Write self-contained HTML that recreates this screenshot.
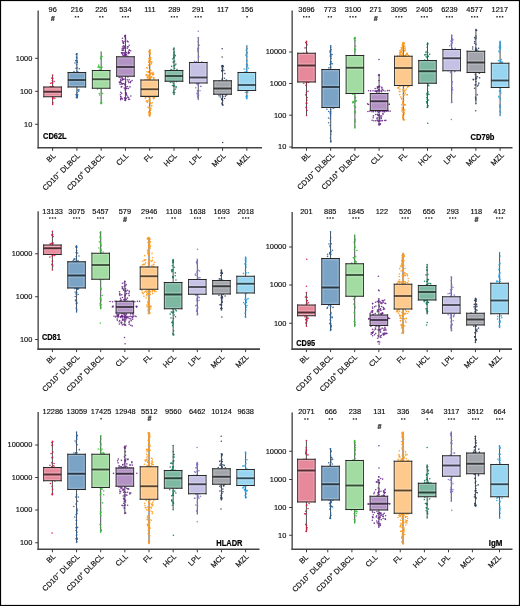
<!DOCTYPE html><html><head><meta charset="utf-8"><style>html,body{margin:0;padding:0;background:#fff;}svg{display:block;will-change:transform;}text{font-family:"Liberation Sans", sans-serif;}.t{stroke:#0a0a0a;stroke-width:0.15px;}</style></head><body><svg width="520" height="606" viewBox="0 0 520 606"><rect x="0" y="0" width="520" height="606" fill="#fff"/><g><path d="M38.15 10.5V148.6" fill="none" stroke="#3d3d3d" stroke-width="1.3"/><path d="M37.5 147.8H262" fill="none" stroke="#444" stroke-width="1.6"/><path d="M35.15 58.3H38.15" stroke="#3a3a3a" stroke-width="1"/><text class="t" x="32.25" y="60.7" font-size="7.4" text-anchor="end" fill="#0a0a0a">1000</text><path d="M35.15 91.3H38.15" stroke="#3a3a3a" stroke-width="1"/><text class="t" x="32.25" y="93.7" font-size="7.4" text-anchor="end" fill="#0a0a0a">100</text><path d="M35.15 124.3H38.15" stroke="#3a3a3a" stroke-width="1"/><text class="t" x="32.25" y="126.7" font-size="7.4" text-anchor="end" fill="#0a0a0a">10</text><path d="M52.6 147.8V150.8" stroke="#3a3a3a" stroke-width="1"/><path d="M76.88 147.8V150.8" stroke="#3a3a3a" stroke-width="1"/><path d="M101.16 147.8V150.8" stroke="#3a3a3a" stroke-width="1"/><path d="M125.44 147.8V150.8" stroke="#3a3a3a" stroke-width="1"/><path d="M149.72 147.8V150.8" stroke="#3a3a3a" stroke-width="1"/><path d="M174 147.8V150.8" stroke="#3a3a3a" stroke-width="1"/><path d="M198.28 147.8V150.8" stroke="#3a3a3a" stroke-width="1"/><path d="M222.56 147.8V150.8" stroke="#3a3a3a" stroke-width="1"/><path d="M246.84 147.8V150.8" stroke="#3a3a3a" stroke-width="1"/><text class="t" x="56.2" y="156.2" font-size="7.6" text-anchor="end" fill="#0a0a0a" transform="rotate(-45 56.2 156.2)">BL</text><text class="t" x="80.48" y="156.2" font-size="7.6" text-anchor="end" fill="#0a0a0a" transform="rotate(-45 80.48 156.2)">CD10<tspan font-size="5.6" dy="-2.9">−</tspan><tspan dy="2.9"> DLBCL</tspan></text><text class="t" x="104.76" y="156.2" font-size="7.6" text-anchor="end" fill="#0a0a0a" transform="rotate(-45 104.76 156.2)">CD10<tspan font-size="5.6" dy="-2.9">+</tspan><tspan dy="2.9"> DLBCL</tspan></text><text class="t" x="129.04" y="156.2" font-size="7.6" text-anchor="end" fill="#0a0a0a" transform="rotate(-45 129.04 156.2)">CLL</text><text class="t" x="153.32" y="156.2" font-size="7.6" text-anchor="end" fill="#0a0a0a" transform="rotate(-45 153.32 156.2)">FL</text><text class="t" x="177.6" y="156.2" font-size="7.6" text-anchor="end" fill="#0a0a0a" transform="rotate(-45 177.6 156.2)">HCL</text><text class="t" x="201.88" y="156.2" font-size="7.6" text-anchor="end" fill="#0a0a0a" transform="rotate(-45 201.88 156.2)">LPL</text><text class="t" x="226.16" y="156.2" font-size="7.6" text-anchor="end" fill="#0a0a0a" transform="rotate(-45 226.16 156.2)">MCL</text><text class="t" x="250.44" y="156.2" font-size="7.6" text-anchor="end" fill="#0a0a0a" transform="rotate(-45 250.44 156.2)">MZL</text><text class="t" x="52.7" y="12.3" font-size="7.4" text-anchor="middle" fill="#0a0a0a">96</text><path d="M50.7 20.8L53.9 20.8L54.8 15.9L51.7 15.9Z" fill="#555" fill-opacity="0.55"/><text x="52.8" y="21.2" font-size="7.2" font-weight="bold" font-style="italic" text-anchor="middle" fill="#3c3c3c" stroke="#3c3c3c" stroke-width="0.12">#</text><text class="t" x="76.9" y="12.3" font-size="7.4" text-anchor="middle" fill="#0a0a0a">216</text><rect x="74.78" y="16.05" width="1.5" height="1.5" fill="#2e2e2e"/><rect x="77.53" y="16.05" width="1.5" height="1.5" fill="#2e2e2e"/><text class="t" x="101.3" y="12.3" font-size="7.4" text-anchor="middle" fill="#0a0a0a">226</text><rect x="99.17" y="16.05" width="1.5" height="1.5" fill="#2e2e2e"/><rect x="101.92" y="16.05" width="1.5" height="1.5" fill="#2e2e2e"/><text class="t" x="125.4" y="12.3" font-size="7.4" text-anchor="middle" fill="#0a0a0a">534</text><rect x="121.9" y="16.05" width="1.5" height="1.5" fill="#2e2e2e"/><rect x="124.65" y="16.05" width="1.5" height="1.5" fill="#2e2e2e"/><rect x="127.4" y="16.05" width="1.5" height="1.5" fill="#2e2e2e"/><text class="t" x="149.9" y="12.3" font-size="7.4" text-anchor="middle" fill="#0a0a0a">111</text><text class="t" x="174.3" y="12.3" font-size="7.4" text-anchor="middle" fill="#0a0a0a">289</text><rect x="170.8" y="16.05" width="1.5" height="1.5" fill="#2e2e2e"/><rect x="173.55" y="16.05" width="1.5" height="1.5" fill="#2e2e2e"/><rect x="176.3" y="16.05" width="1.5" height="1.5" fill="#2e2e2e"/><text class="t" x="198.2" y="12.3" font-size="7.4" text-anchor="middle" fill="#0a0a0a">291</text><rect x="194.7" y="16.05" width="1.5" height="1.5" fill="#2e2e2e"/><rect x="197.45" y="16.05" width="1.5" height="1.5" fill="#2e2e2e"/><rect x="200.2" y="16.05" width="1.5" height="1.5" fill="#2e2e2e"/><text class="t" x="222.8" y="12.3" font-size="7.4" text-anchor="middle" fill="#0a0a0a">117</text><text class="t" x="247.1" y="12.3" font-size="7.4" text-anchor="middle" fill="#0a0a0a">156</text><rect x="246.35" y="16.05" width="1.5" height="1.5" fill="#2e2e2e"/><path d="M52.6 75V104.5" stroke="#3a3d42" stroke-width="0.9"/><g fill="#e0103c" fill-opacity="0.9"><circle cx="53.47" cy="86.52" r="0.8"/><circle cx="52.07" cy="82.84" r="0.8"/><circle cx="50.7" cy="83.21" r="0.8"/><circle cx="50.17" cy="86.87" r="0.8"/><circle cx="51.98" cy="78.31" r="0.8"/><circle cx="54.07" cy="81.57" r="0.8"/><circle cx="54.86" cy="98.36" r="0.8"/><circle cx="52.31" cy="77.74" r="0.8"/><circle cx="51.48" cy="86.68" r="0.8"/><circle cx="53.06" cy="97.17" r="0.8"/><circle cx="52.83" cy="98.2" r="0.8"/><circle cx="50.85" cy="86.9" r="0.8"/><circle cx="52.5" cy="83.16" r="0.8"/><circle cx="52.72" cy="78.77" r="0.8"/><circle cx="52.32" cy="80.44" r="0.8"/><circle cx="52.88" cy="102.91" r="0.8"/><circle cx="52.7" cy="98.64" r="0.8"/><circle cx="52.6" cy="75" r="0.8"/><circle cx="52.6" cy="104.5" r="0.8"/></g><rect x="43.8" y="87" width="17.6" height="9.75" fill="#e68a9b"/><path d="M43.8 86.4V97.35M61.4 86.4V97.35" stroke="#2a2a2a" stroke-width="0.9"/><path d="M43.35 87H61.85M43.35 96.75H61.85" stroke="#2a2a2a" stroke-width="1.2"/><rect x="45.05" y="88.35" width="15.1" height="7.05" fill="none" stroke="#fff" stroke-opacity="0.28" stroke-width="0.8"/><path d="M44.6 90H60.6M44.6 93.5H60.6" stroke="#fff" stroke-opacity="0.3" stroke-width="0.8"/><path d="M43.8 91.75H61.4" stroke="#000" stroke-opacity="0.66" stroke-width="1.8"/><path d="M76.88 53.75V98" stroke="#3a3d42" stroke-width="0.9"/><g fill="#1f62a5" fill-opacity="0.9"><circle cx="77.25" cy="95.77" r="0.8"/><circle cx="76.27" cy="54.38" r="0.8"/><circle cx="75.83" cy="60.82" r="0.8"/><circle cx="78.22" cy="72.42" r="0.8"/><circle cx="78.72" cy="91.27" r="0.8"/><circle cx="77.23" cy="62.39" r="0.8"/><circle cx="78.88" cy="89.9" r="0.8"/><circle cx="77.82" cy="90.09" r="0.8"/><circle cx="77.41" cy="62.24" r="0.8"/><circle cx="76.39" cy="94.88" r="0.8"/><circle cx="74.99" cy="63.04" r="0.8"/><circle cx="73.96" cy="71.6" r="0.8"/><circle cx="75.81" cy="60.52" r="0.8"/><circle cx="79.25" cy="68.7" r="0.8"/><circle cx="77.17" cy="67.69" r="0.8"/><circle cx="77.72" cy="94.84" r="0.8"/><circle cx="76" cy="68.29" r="0.8"/><circle cx="76.32" cy="97.22" r="0.8"/><circle cx="76.5" cy="57.05" r="0.8"/><circle cx="76.86" cy="58.13" r="0.8"/><circle cx="76.55" cy="64.8" r="0.8"/><circle cx="76.77" cy="53.83" r="0.8"/><circle cx="76.97" cy="60.67" r="0.8"/><circle cx="77.15" cy="71.62" r="0.8"/><circle cx="77.04" cy="92.67" r="0.8"/><circle cx="76.26" cy="94.44" r="0.8"/><circle cx="77.27" cy="96.89" r="0.8"/><circle cx="77.3" cy="96.62" r="0.8"/><circle cx="76.88" cy="53.75" r="0.8"/><circle cx="76.88" cy="98" r="0.8"/></g><rect x="68.08" y="72.5" width="17.6" height="14.5" fill="#7ba3c6"/><path d="M68.08 71.9V87.6M85.68 71.9V87.6" stroke="#2a2a2a" stroke-width="0.9"/><path d="M67.63 72.5H86.13M67.63 87H86.13" stroke="#2a2a2a" stroke-width="1.2"/><rect x="69.33" y="73.85" width="15.1" height="11.8" fill="none" stroke="#fff" stroke-opacity="0.28" stroke-width="0.8"/><path d="M68.88 78.25H84.88M68.88 81.75H84.88" stroke="#fff" stroke-opacity="0.3" stroke-width="0.8"/><path d="M68.08 80H85.68" stroke="#000" stroke-opacity="0.66" stroke-width="1.8"/><path d="M101.16 52V103.75" stroke="#3a3d42" stroke-width="0.9"/><g fill="#34c234" fill-opacity="0.9"><circle cx="98.65" cy="66.62" r="0.8"/><circle cx="97.73" cy="88.39" r="0.8"/><circle cx="99.94" cy="69.66" r="0.8"/><circle cx="98.37" cy="70.5" r="0.8"/><circle cx="98.04" cy="67.19" r="0.8"/><circle cx="99.58" cy="95.02" r="0.8"/><circle cx="100.25" cy="67.43" r="0.8"/><circle cx="102.12" cy="56.5" r="0.8"/><circle cx="98.81" cy="65.12" r="0.8"/><circle cx="99.58" cy="67.51" r="0.8"/><circle cx="97.52" cy="88.95" r="0.8"/><circle cx="99.29" cy="93.49" r="0.8"/><circle cx="101.38" cy="88.28" r="0.8"/><circle cx="101.51" cy="100.32" r="0.8"/><circle cx="98.98" cy="67.14" r="0.8"/><circle cx="102.63" cy="93.56" r="0.8"/><circle cx="100.77" cy="58.1" r="0.8"/><circle cx="101.84" cy="67.01" r="0.8"/><circle cx="101.59" cy="67.77" r="0.8"/><circle cx="101.5" cy="67.14" r="0.8"/><circle cx="101.18" cy="56.19" r="0.8"/><circle cx="100.5" cy="58.58" r="0.8"/><circle cx="100.85" cy="88.68" r="0.8"/><circle cx="101.43" cy="92.27" r="0.8"/><circle cx="101.09" cy="103.08" r="0.8"/><circle cx="101.84" cy="102.77" r="0.8"/><circle cx="100.97" cy="103.05" r="0.8"/><circle cx="101.16" cy="52" r="0.8"/><circle cx="101.16" cy="103.75" r="0.8"/></g><rect x="92.36" y="70.5" width="17.6" height="17.75" fill="#a2dca2"/><path d="M92.36 69.9V88.85M109.96 69.9V88.85" stroke="#2a2a2a" stroke-width="0.9"/><path d="M91.91 70.5H110.41M91.91 88.25H110.41" stroke="#2a2a2a" stroke-width="1.2"/><rect x="93.61" y="71.85" width="15.1" height="15.05" fill="none" stroke="#fff" stroke-opacity="0.28" stroke-width="0.8"/><path d="M93.16 77.5H109.16M93.16 81H109.16" stroke="#fff" stroke-opacity="0.3" stroke-width="0.8"/><path d="M92.36 79.25H109.96" stroke="#000" stroke-opacity="0.66" stroke-width="1.8"/><path d="M125.44 35.5V100.5" stroke="#3a3d42" stroke-width="0.9"/><g fill="#6a2a8c" fill-opacity="0.9"><circle cx="123.2" cy="42.2" r="0.8"/><circle cx="123.01" cy="41.78" r="0.8"/><circle cx="126.43" cy="54.66" r="0.8"/><circle cx="128.16" cy="46.87" r="0.8"/><circle cx="126.66" cy="52.79" r="0.8"/><circle cx="122.12" cy="50.22" r="0.8"/><circle cx="128.72" cy="52.47" r="0.8"/><circle cx="127.44" cy="46.84" r="0.8"/><circle cx="122.87" cy="52.6" r="0.8"/><circle cx="124.1" cy="52.82" r="0.8"/><circle cx="129.21" cy="45.32" r="0.8"/><circle cx="124.65" cy="55.52" r="0.8"/><circle cx="127.24" cy="41.15" r="0.8"/><circle cx="122.46" cy="40.8" r="0.8"/><circle cx="128.68" cy="52.92" r="0.8"/><circle cx="122.61" cy="53.29" r="0.8"/><circle cx="129.28" cy="50.16" r="0.8"/><circle cx="124.24" cy="48.15" r="0.8"/><circle cx="122.49" cy="38.26" r="0.8"/><circle cx="129.21" cy="50.02" r="0.8"/><circle cx="125.65" cy="55.27" r="0.8"/><circle cx="124.91" cy="54.13" r="0.8"/><circle cx="128.05" cy="41.9" r="0.8"/><circle cx="123.45" cy="43.42" r="0.8"/><circle cx="123.36" cy="48.85" r="0.8"/><circle cx="123.51" cy="45.75" r="0.8"/><circle cx="122.49" cy="54.84" r="0.8"/><circle cx="124.27" cy="46.48" r="0.8"/><circle cx="126.11" cy="54.73" r="0.8"/><circle cx="124.81" cy="54.98" r="0.8"/><circle cx="125.45" cy="47.84" r="0.8"/><circle cx="125.63" cy="38.35" r="0.8"/><circle cx="124.96" cy="41.39" r="0.8"/><circle cx="121.47" cy="52.78" r="0.8"/><circle cx="122.82" cy="46.76" r="0.8"/><circle cx="127.24" cy="48.29" r="0.8"/><circle cx="124.05" cy="47.59" r="0.8"/><circle cx="125.88" cy="52.51" r="0.8"/><circle cx="122.29" cy="48.37" r="0.8"/><circle cx="123.43" cy="43.12" r="0.8"/><circle cx="128.43" cy="88.43" r="0.8"/><circle cx="126.12" cy="94.36" r="0.8"/><circle cx="129.98" cy="86.92" r="0.8"/><circle cx="126.68" cy="88.38" r="0.8"/><circle cx="125.57" cy="92.78" r="0.8"/><circle cx="124.92" cy="89.03" r="0.8"/><circle cx="125.2" cy="98.63" r="0.8"/><circle cx="127.63" cy="97.1" r="0.8"/><circle cx="130.3" cy="82.6" r="0.8"/><circle cx="126.09" cy="98.67" r="0.8"/><circle cx="129.18" cy="79.72" r="0.8"/><circle cx="121.28" cy="86.89" r="0.8"/><circle cx="120.74" cy="82.16" r="0.8"/><circle cx="120.74" cy="92.23" r="0.8"/><circle cx="128.56" cy="97.58" r="0.8"/><circle cx="121.64" cy="93.33" r="0.8"/><circle cx="127.2" cy="79.86" r="0.8"/><circle cx="129.65" cy="99.24" r="0.8"/><circle cx="122.36" cy="98.88" r="0.8"/><circle cx="124.32" cy="87.95" r="0.8"/><circle cx="130.83" cy="96.06" r="0.8"/><circle cx="121.72" cy="86.64" r="0.8"/><circle cx="125.61" cy="84.47" r="0.8"/><circle cx="122.09" cy="83.99" r="0.8"/><circle cx="127.88" cy="76.96" r="0.8"/><circle cx="126.03" cy="86.85" r="0.8"/><circle cx="120.14" cy="84.29" r="0.8"/><circle cx="126.8" cy="88.54" r="0.8"/><circle cx="120.65" cy="99.65" r="0.8"/><circle cx="128.61" cy="99.33" r="0.8"/><circle cx="121.09" cy="82.74" r="0.8"/><circle cx="120.38" cy="94.81" r="0.8"/><circle cx="122.91" cy="79.54" r="0.8"/><circle cx="124.58" cy="97.92" r="0.8"/><circle cx="128.95" cy="82.58" r="0.8"/><circle cx="121.58" cy="98.1" r="0.8"/><circle cx="126.22" cy="92.96" r="0.8"/><circle cx="120.92" cy="77.85" r="0.8"/><circle cx="127.51" cy="86.49" r="0.8"/><circle cx="120.74" cy="98.55" r="0.8"/><circle cx="126.92" cy="95.34" r="0.8"/><circle cx="120.86" cy="96.62" r="0.8"/><circle cx="120.67" cy="96.78" r="0.8"/><circle cx="124.93" cy="84.47" r="0.8"/><circle cx="126.02" cy="98.28" r="0.8"/><circle cx="122.89" cy="79.54" r="0.8"/><circle cx="125.74" cy="82.1" r="0.8"/><circle cx="121.14" cy="80.29" r="0.8"/><circle cx="120.49" cy="81.24" r="0.8"/><circle cx="123.37" cy="83.67" r="0.8"/><circle cx="128.55" cy="51.88" r="0.8"/><circle cx="125.44" cy="51.16" r="0.8"/><circle cx="123.6" cy="50.12" r="0.8"/><circle cx="122.45" cy="50.1" r="0.8"/><circle cx="128.24" cy="53.58" r="0.8"/><circle cx="121.71" cy="53.09" r="0.8"/><circle cx="130.66" cy="50.69" r="0.8"/><circle cx="129.27" cy="52.81" r="0.8"/><circle cx="125.38" cy="55.42" r="0.8"/><circle cx="124.16" cy="53.29" r="0.8"/><circle cx="127.69" cy="56.39" r="0.8"/><circle cx="123.55" cy="55.41" r="0.8"/><circle cx="128.33" cy="81.27" r="0.8"/><circle cx="124.11" cy="79.11" r="0.8"/><circle cx="119.2" cy="77.47" r="0.8"/><circle cx="119.43" cy="82.06" r="0.8"/><circle cx="122.02" cy="77.72" r="0.8"/><circle cx="119.62" cy="82.81" r="0.8"/><circle cx="130.63" cy="81.53" r="0.8"/><circle cx="122.39" cy="78.32" r="0.8"/><circle cx="122.54" cy="79.95" r="0.8"/><circle cx="120.65" cy="79.84" r="0.8"/><circle cx="122.13" cy="83.71" r="0.8"/><circle cx="132.06" cy="80.6" r="0.8"/><circle cx="121.86" cy="83.74" r="0.8"/><circle cx="122.77" cy="79.17" r="0.8"/><circle cx="125.27" cy="35.52" r="0.8"/><circle cx="125.44" cy="45.59" r="0.8"/><circle cx="125.45" cy="39.77" r="0.8"/><circle cx="125.11" cy="35.61" r="0.8"/><circle cx="125.3" cy="37.41" r="0.8"/><circle cx="124.77" cy="36.39" r="0.8"/><circle cx="125.07" cy="83.63" r="0.8"/><circle cx="125.48" cy="90.45" r="0.8"/><circle cx="125.66" cy="94.45" r="0.8"/><circle cx="125.97" cy="93.61" r="0.8"/><circle cx="125.2" cy="85.7" r="0.8"/><circle cx="124.95" cy="100.13" r="0.8"/><circle cx="125.64" cy="93.81" r="0.8"/><circle cx="125.44" cy="35.5" r="0.8"/><circle cx="125.44" cy="100.5" r="0.8"/></g><rect x="116.64" y="56.75" width="17.6" height="19.5" fill="#b293c4"/><path d="M116.64 56.15V76.85M134.24 56.15V76.85" stroke="#2a2a2a" stroke-width="0.9"/><path d="M116.19 56.75H134.69M116.19 76.25H134.69" stroke="#2a2a2a" stroke-width="1.2"/><rect x="117.89" y="58.1" width="15.1" height="16.8" fill="none" stroke="#fff" stroke-opacity="0.28" stroke-width="0.8"/><path d="M117.44 65.25H133.44M117.44 68.75H133.44" stroke="#fff" stroke-opacity="0.3" stroke-width="0.8"/><path d="M116.64 67H134.24" stroke="#000" stroke-opacity="0.66" stroke-width="1.8"/><path d="M149.72 50V116.25" stroke="#3a3d42" stroke-width="0.9"/><g fill="#ff9a1c" fill-opacity="0.9"><circle cx="150.75" cy="57.91" r="0.8"/><circle cx="151" cy="108.13" r="0.8"/><circle cx="149.75" cy="70.01" r="0.8"/><circle cx="150.73" cy="110.12" r="0.8"/><circle cx="150.09" cy="112.77" r="0.8"/><circle cx="145.42" cy="98.03" r="0.8"/><circle cx="146.47" cy="74.7" r="0.8"/><circle cx="150.52" cy="103.77" r="0.8"/><circle cx="149.67" cy="106.72" r="0.8"/><circle cx="150.51" cy="59.57" r="0.8"/><circle cx="150.76" cy="103.26" r="0.8"/><circle cx="148.72" cy="62.15" r="0.8"/><circle cx="151.77" cy="76.85" r="0.8"/><circle cx="151.63" cy="62.03" r="0.8"/><circle cx="149.55" cy="74.14" r="0.8"/><circle cx="150.14" cy="109.04" r="0.8"/><circle cx="146.24" cy="96.66" r="0.8"/><circle cx="148.95" cy="61.89" r="0.8"/><circle cx="145.33" cy="96.41" r="0.8"/><circle cx="150.66" cy="64.74" r="0.8"/><circle cx="149.87" cy="98.83" r="0.8"/><circle cx="146.95" cy="71.8" r="0.8"/><circle cx="154.19" cy="97.68" r="0.8"/><circle cx="149.31" cy="96.42" r="0.8"/><circle cx="149.62" cy="115.19" r="0.8"/><circle cx="153.86" cy="77.89" r="0.8"/><circle cx="147.56" cy="68.07" r="0.8"/><circle cx="148.99" cy="114.68" r="0.8"/><circle cx="152.36" cy="102.69" r="0.8"/><circle cx="153.37" cy="98.05" r="0.8"/><circle cx="144.77" cy="79.94" r="0.8"/><circle cx="148.25" cy="72.26" r="0.8"/><circle cx="148.18" cy="75.11" r="0.8"/><circle cx="152.23" cy="96.4" r="0.8"/><circle cx="153.87" cy="96.94" r="0.8"/><circle cx="149.3" cy="113.04" r="0.8"/><circle cx="153.69" cy="73.87" r="0.8"/><circle cx="149.13" cy="99.91" r="0.8"/><circle cx="145.76" cy="79.83" r="0.8"/><circle cx="153.56" cy="98.76" r="0.8"/><circle cx="149.82" cy="76.85" r="0.8"/><circle cx="153.43" cy="74.38" r="0.8"/><circle cx="150.11" cy="110.33" r="0.8"/><circle cx="149.82" cy="114.29" r="0.8"/><circle cx="152.03" cy="96.52" r="0.8"/><circle cx="150.27" cy="61.49" r="0.8"/><circle cx="153.96" cy="79.82" r="0.8"/><circle cx="148.59" cy="71.62" r="0.8"/><circle cx="151.63" cy="62.06" r="0.8"/><circle cx="148.7" cy="65.35" r="0.8"/><circle cx="147.08" cy="100.48" r="0.8"/><circle cx="153.5" cy="77.92" r="0.8"/><circle cx="153.47" cy="77.71" r="0.8"/><circle cx="147.04" cy="101.51" r="0.8"/><circle cx="148.17" cy="79.49" r="0.8"/><circle cx="147.52" cy="77.36" r="0.8"/><circle cx="150.22" cy="112.6" r="0.8"/><circle cx="149.91" cy="73.3" r="0.8"/><circle cx="146.03" cy="75.25" r="0.8"/><circle cx="148.97" cy="51.63" r="0.8"/><circle cx="151.7" cy="105.44" r="0.8"/><circle cx="147.48" cy="76.74" r="0.8"/><circle cx="153.11" cy="72.4" r="0.8"/><circle cx="148.73" cy="112.15" r="0.8"/><circle cx="151.47" cy="63.26" r="0.8"/><circle cx="146.74" cy="67.87" r="0.8"/><circle cx="150.37" cy="53.64" r="0.8"/><circle cx="149.22" cy="115.32" r="0.8"/><circle cx="149.93" cy="78.75" r="0.8"/><circle cx="150.16" cy="114.32" r="0.8"/><circle cx="149.56" cy="108.98" r="0.8"/><circle cx="152.53" cy="96.48" r="0.8"/><circle cx="150.01" cy="53.97" r="0.8"/><circle cx="147.31" cy="79.09" r="0.8"/><circle cx="147.95" cy="107.19" r="0.8"/><circle cx="150.27" cy="69.99" r="0.8"/><circle cx="150.65" cy="77.65" r="0.8"/><circle cx="149.38" cy="76.09" r="0.8"/><circle cx="151.74" cy="105.81" r="0.8"/><circle cx="147.41" cy="77.45" r="0.8"/><circle cx="148.86" cy="107.35" r="0.8"/><circle cx="150.93" cy="70.82" r="0.8"/><circle cx="151.23" cy="77.02" r="0.8"/><circle cx="145.43" cy="97.99" r="0.8"/><circle cx="151.13" cy="73.12" r="0.8"/><circle cx="150.49" cy="59.6" r="0.8"/><circle cx="154.1" cy="97.74" r="0.8"/><circle cx="148.95" cy="58.59" r="0.8"/><circle cx="148.96" cy="61.17" r="0.8"/><circle cx="147.54" cy="102.42" r="0.8"/><circle cx="151" cy="73.22" r="0.8"/><circle cx="148.7" cy="97.16" r="0.8"/><circle cx="149" cy="51.31" r="0.8"/><circle cx="148.66" cy="79.75" r="0.8"/><circle cx="150.19" cy="112.48" r="0.8"/><circle cx="149.38" cy="114" r="0.8"/><circle cx="150.21" cy="53.2" r="0.8"/><circle cx="149.11" cy="65.03" r="0.8"/><circle cx="146.92" cy="75.4" r="0.8"/><circle cx="148.41" cy="76.56" r="0.8"/><circle cx="154.23" cy="96.97" r="0.8"/><circle cx="152.38" cy="74.8" r="0.8"/><circle cx="146.3" cy="101.17" r="0.8"/><circle cx="153.13" cy="74.4" r="0.8"/><circle cx="152.98" cy="74.61" r="0.8"/><circle cx="152.15" cy="73.39" r="0.8"/><circle cx="145.09" cy="96.49" r="0.8"/><circle cx="149.23" cy="53.96" r="0.8"/><circle cx="149.4" cy="112.95" r="0.8"/><circle cx="149.95" cy="52.13" r="0.8"/><circle cx="150.02" cy="57.87" r="0.8"/><circle cx="149.41" cy="59.49" r="0.8"/><circle cx="150.08" cy="50.11" r="0.8"/><circle cx="149.91" cy="77.49" r="0.8"/><circle cx="149.05" cy="78.3" r="0.8"/><circle cx="149.69" cy="57.02" r="0.8"/><circle cx="150.36" cy="78.7" r="0.8"/><circle cx="149.37" cy="61.6" r="0.8"/><circle cx="149.71" cy="62.9" r="0.8"/><circle cx="149.28" cy="77.84" r="0.8"/><circle cx="150.05" cy="74.08" r="0.8"/><circle cx="150.1" cy="74.68" r="0.8"/><circle cx="149.48" cy="108.45" r="0.8"/><circle cx="149.53" cy="102.74" r="0.8"/><circle cx="149.13" cy="111.93" r="0.8"/><circle cx="150.07" cy="100.32" r="0.8"/><circle cx="149.11" cy="101.31" r="0.8"/><circle cx="149.79" cy="97.07" r="0.8"/><circle cx="150.39" cy="102.87" r="0.8"/><circle cx="150.4" cy="113.94" r="0.8"/><circle cx="149.72" cy="50" r="0.8"/><circle cx="149.72" cy="116.25" r="0.8"/></g><rect x="140.92" y="80" width="17.6" height="16.4" fill="#fdc98c"/><path d="M140.92 79.4V97M158.52 79.4V97" stroke="#2a2a2a" stroke-width="0.9"/><path d="M140.47 80H158.97M140.47 96.4H158.97" stroke="#2a2a2a" stroke-width="1.2"/><rect x="142.17" y="81.35" width="15.1" height="13.7" fill="none" stroke="#fff" stroke-opacity="0.28" stroke-width="0.8"/><path d="M141.72 87.5H157.72M141.72 91H157.72" stroke="#fff" stroke-opacity="0.3" stroke-width="0.8"/><path d="M140.92 89.25H158.52" stroke="#000" stroke-opacity="0.66" stroke-width="1.8"/><path d="M174 48V94.5" stroke="#3a3d42" stroke-width="0.9"/><g fill="#0e7a58" fill-opacity="0.9"><circle cx="170.82" cy="70.17" r="0.8"/><circle cx="173.81" cy="57.94" r="0.8"/><circle cx="174.75" cy="65.42" r="0.8"/><circle cx="175.08" cy="89.34" r="0.8"/><circle cx="176.65" cy="81.62" r="0.8"/><circle cx="173.37" cy="61.93" r="0.8"/><circle cx="172.11" cy="82.1" r="0.8"/><circle cx="176.95" cy="69.57" r="0.8"/><circle cx="173.29" cy="83.22" r="0.8"/><circle cx="172.53" cy="85.43" r="0.8"/><circle cx="176.02" cy="87.68" r="0.8"/><circle cx="175.83" cy="64.16" r="0.8"/><circle cx="173.26" cy="92.63" r="0.8"/><circle cx="171.58" cy="69.89" r="0.8"/><circle cx="176.07" cy="86.55" r="0.8"/><circle cx="173.91" cy="52.88" r="0.8"/><circle cx="175.24" cy="55.82" r="0.8"/><circle cx="174.56" cy="61.16" r="0.8"/><circle cx="171.66" cy="66.37" r="0.8"/><circle cx="174.72" cy="68.3" r="0.8"/><circle cx="170.35" cy="82.13" r="0.8"/><circle cx="172.78" cy="58.87" r="0.8"/><circle cx="173.58" cy="55.02" r="0.8"/><circle cx="174.07" cy="65.89" r="0.8"/><circle cx="173.44" cy="49.42" r="0.8"/><circle cx="174.07" cy="56.89" r="0.8"/><circle cx="173.43" cy="62.38" r="0.8"/><circle cx="174.27" cy="51.68" r="0.8"/><circle cx="173.7" cy="57.22" r="0.8"/><circle cx="174.63" cy="54.92" r="0.8"/><circle cx="174.09" cy="85.39" r="0.8"/><circle cx="173.88" cy="85.98" r="0.8"/><circle cx="174.7" cy="92.7" r="0.8"/><circle cx="173.58" cy="86.07" r="0.8"/><circle cx="173.59" cy="90.9" r="0.8"/><circle cx="174" cy="48" r="0.8"/><circle cx="174" cy="94.5" r="0.8"/></g><rect x="165.2" y="70.5" width="17.6" height="10.75" fill="#7db9a2"/><path d="M165.2 69.9V81.85M182.8 69.9V81.85" stroke="#2a2a2a" stroke-width="0.9"/><path d="M164.75 70.5H183.25M164.75 81.25H183.25" stroke="#2a2a2a" stroke-width="1.2"/><rect x="166.45" y="71.85" width="15.1" height="8.05" fill="none" stroke="#fff" stroke-opacity="0.28" stroke-width="0.8"/><path d="M166 74.25H182M166 77.75H182" stroke="#fff" stroke-opacity="0.3" stroke-width="0.8"/><path d="M165.2 76H182.8" stroke="#000" stroke-opacity="0.66" stroke-width="1.8"/><path d="M198.28 37.5V99.5" stroke="#3a3d42" stroke-width="0.9"/><g fill="#8478cc" fill-opacity="0.9"><circle cx="198.16" cy="41.54" r="0.8"/><circle cx="200.68" cy="86.57" r="0.8"/><circle cx="194.58" cy="61.36" r="0.8"/><circle cx="200.02" cy="90.74" r="0.8"/><circle cx="197.71" cy="51.34" r="0.8"/><circle cx="196.61" cy="83.63" r="0.8"/><circle cx="197.65" cy="97.47" r="0.8"/><circle cx="199.43" cy="45.22" r="0.8"/><circle cx="201.72" cy="61.75" r="0.8"/><circle cx="195.74" cy="87.78" r="0.8"/><circle cx="200.87" cy="86.3" r="0.8"/><circle cx="197.52" cy="94.89" r="0.8"/><circle cx="197.58" cy="84.28" r="0.8"/><circle cx="197.59" cy="95" r="0.8"/><circle cx="198.39" cy="57.24" r="0.8"/><circle cx="196.31" cy="61.79" r="0.8"/><circle cx="197.55" cy="96.72" r="0.8"/><circle cx="196.89" cy="93.29" r="0.8"/><circle cx="199.06" cy="83.43" r="0.8"/><circle cx="197.43" cy="90.46" r="0.8"/><circle cx="198.4" cy="48" r="0.8"/><circle cx="198.5" cy="48.14" r="0.8"/><circle cx="198.19" cy="48.67" r="0.8"/><circle cx="198.45" cy="38.08" r="0.8"/><circle cx="197.91" cy="49.74" r="0.8"/><circle cx="198.67" cy="56.59" r="0.8"/><circle cx="197.83" cy="48.96" r="0.8"/><circle cx="197.73" cy="49.33" r="0.8"/><circle cx="198.18" cy="85.12" r="0.8"/><circle cx="198.2" cy="84.51" r="0.8"/><circle cx="197.64" cy="91.42" r="0.8"/><circle cx="197.7" cy="93.5" r="0.8"/><circle cx="198.67" cy="95.1" r="0.8"/><circle cx="197.66" cy="91.44" r="0.8"/><circle cx="198.28" cy="37.5" r="0.8"/><circle cx="198.28" cy="99.5" r="0.8"/><circle cx="198.28" cy="31.25" r="0.8"/></g><rect x="189.48" y="62.5" width="17.6" height="20.5" fill="#c5c1e5"/><path d="M189.48 61.9V83.6M207.08 61.9V83.6" stroke="#2a2a2a" stroke-width="0.9"/><path d="M189.03 62.5H207.53M189.03 83H207.53" stroke="#2a2a2a" stroke-width="1.2"/><rect x="190.73" y="63.85" width="15.1" height="17.8" fill="none" stroke="#fff" stroke-opacity="0.28" stroke-width="0.8"/><path d="M190.28 75.75H206.28M190.28 79.25H206.28" stroke="#fff" stroke-opacity="0.3" stroke-width="0.8"/><path d="M189.48 77.5H207.08" stroke="#000" stroke-opacity="0.66" stroke-width="1.8"/><path d="M222.56 65.5V105" stroke="#3a3d42" stroke-width="0.9"/><g fill="#2f3f5c" fill-opacity="0.9"><circle cx="221.91" cy="66.75" r="0.8"/><circle cx="222.98" cy="104.93" r="0.8"/><circle cx="226.63" cy="94.91" r="0.8"/><circle cx="223.31" cy="66.61" r="0.8"/><circle cx="223.85" cy="70.57" r="0.8"/><circle cx="224.48" cy="78.18" r="0.8"/><circle cx="222.15" cy="68.08" r="0.8"/><circle cx="222.58" cy="94.65" r="0.8"/><circle cx="220.57" cy="95" r="0.8"/><circle cx="218.99" cy="95.79" r="0.8"/><circle cx="226.31" cy="80.06" r="0.8"/><circle cx="221.96" cy="103.16" r="0.8"/><circle cx="222.83" cy="94.52" r="0.8"/><circle cx="225.33" cy="96.14" r="0.8"/><circle cx="224.64" cy="98.51" r="0.8"/><circle cx="222.79" cy="65.68" r="0.8"/><circle cx="221.88" cy="70.37" r="0.8"/><circle cx="221.8" cy="98.48" r="0.8"/><circle cx="220.38" cy="96.94" r="0.8"/><circle cx="225.42" cy="94.31" r="0.8"/><circle cx="224.88" cy="73.62" r="0.8"/><circle cx="221.71" cy="99.6" r="0.8"/><circle cx="219.41" cy="80.7" r="0.8"/><circle cx="222.65" cy="96.83" r="0.8"/><circle cx="222.04" cy="79.16" r="0.8"/><circle cx="222.77" cy="68.97" r="0.8"/><circle cx="221.86" cy="65.84" r="0.8"/><circle cx="222.01" cy="70.91" r="0.8"/><circle cx="222.17" cy="70.95" r="0.8"/><circle cx="222.68" cy="100.52" r="0.8"/><circle cx="222.73" cy="96.44" r="0.8"/><circle cx="222.05" cy="99.36" r="0.8"/><circle cx="222.2" cy="104.32" r="0.8"/><circle cx="222.56" cy="65.5" r="0.8"/><circle cx="222.56" cy="105" r="0.8"/><circle cx="222.21" cy="48.75" r="0.8"/><circle cx="222.16" cy="57" r="0.8"/><circle cx="222.7" cy="142.5" r="0.8"/></g><rect x="213.76" y="80.75" width="17.6" height="13.5" fill="#a2a5ab"/><path d="M213.76 80.15V94.85M231.36 80.15V94.85" stroke="#2a2a2a" stroke-width="0.9"/><path d="M213.31 80.75H231.81M213.31 94.25H231.81" stroke="#2a2a2a" stroke-width="1.2"/><rect x="215.01" y="82.1" width="15.1" height="10.8" fill="none" stroke="#fff" stroke-opacity="0.28" stroke-width="0.8"/><path d="M214.56 86.75H230.56M214.56 90.25H230.56" stroke="#fff" stroke-opacity="0.3" stroke-width="0.8"/><path d="M213.76 88.5H231.36" stroke="#000" stroke-opacity="0.66" stroke-width="1.8"/><path d="M246.84 45.75V98.75" stroke="#3a3d42" stroke-width="0.9"/><g fill="#22a3e6" fill-opacity="0.9"><circle cx="246.61" cy="95.93" r="0.8"/><circle cx="247.85" cy="72.49" r="0.8"/><circle cx="247.69" cy="91.89" r="0.8"/><circle cx="247.17" cy="48.54" r="0.8"/><circle cx="246.2" cy="49.99" r="0.8"/><circle cx="245.4" cy="92.28" r="0.8"/><circle cx="245.66" cy="55.01" r="0.8"/><circle cx="246.34" cy="97.94" r="0.8"/><circle cx="246.87" cy="61.02" r="0.8"/><circle cx="246.17" cy="96.31" r="0.8"/><circle cx="244.09" cy="69.04" r="0.8"/><circle cx="247.35" cy="95.94" r="0.8"/><circle cx="247.27" cy="52.43" r="0.8"/><circle cx="246.71" cy="56.4" r="0.8"/><circle cx="245.01" cy="71.92" r="0.8"/><circle cx="248.31" cy="68.32" r="0.8"/><circle cx="247.32" cy="64.34" r="0.8"/><circle cx="246.51" cy="64.79" r="0.8"/><circle cx="246.75" cy="60.56" r="0.8"/><circle cx="246.87" cy="66.84" r="0.8"/><circle cx="247.04" cy="52.85" r="0.8"/><circle cx="246.44" cy="71.57" r="0.8"/><circle cx="246.16" cy="69.29" r="0.8"/><circle cx="246.47" cy="52.71" r="0.8"/><circle cx="247.46" cy="65.65" r="0.8"/><circle cx="246.6" cy="96.66" r="0.8"/><circle cx="246.6" cy="97.76" r="0.8"/><circle cx="247.41" cy="92.47" r="0.8"/><circle cx="246.84" cy="45.75" r="0.8"/><circle cx="246.84" cy="98.75" r="0.8"/></g><rect x="238.04" y="72.5" width="17.6" height="18" fill="#97d5f0"/><path d="M238.04 71.9V91.1M255.64 71.9V91.1" stroke="#2a2a2a" stroke-width="0.9"/><path d="M237.59 72.5H256.09M237.59 90.5H256.09" stroke="#2a2a2a" stroke-width="1.2"/><rect x="239.29" y="73.85" width="15.1" height="15.3" fill="none" stroke="#fff" stroke-opacity="0.28" stroke-width="0.8"/><path d="M238.84 83.25H254.84M238.84 86.75H254.84" stroke="#fff" stroke-opacity="0.3" stroke-width="0.8"/><path d="M238.04 85H255.64" stroke="#000" stroke-opacity="0.66" stroke-width="1.8"/><text x="43" y="139.2" font-size="8.4" font-weight="bold" text-anchor="start" fill="#000" stroke="#000" stroke-width="0.2" textLength="23.6" lengthAdjust="spacingAndGlyphs">CD62L</text></g><g><path d="M292.15 10.5V148.6" fill="none" stroke="#3d3d3d" stroke-width="1.3"/><path d="M291.5 147.8H512.5" fill="none" stroke="#444" stroke-width="1.6"/><path d="M289.15 52H292.15" stroke="#3a3a3a" stroke-width="1"/><text class="t" x="286.25" y="54.4" font-size="7.4" text-anchor="end" fill="#0a0a0a">10000</text><path d="M289.15 83.5H292.15" stroke="#3a3a3a" stroke-width="1"/><text class="t" x="286.25" y="85.9" font-size="7.4" text-anchor="end" fill="#0a0a0a">1000</text><path d="M289.15 115.2H292.15" stroke="#3a3a3a" stroke-width="1"/><text class="t" x="286.25" y="117.6" font-size="7.4" text-anchor="end" fill="#0a0a0a">100</text><path d="M289.15 147H292.15" stroke="#3a3a3a" stroke-width="1"/><text class="t" x="286.25" y="149.4" font-size="7.4" text-anchor="end" fill="#0a0a0a">10</text><path d="M306.5 147.8V150.8" stroke="#3a3a3a" stroke-width="1"/><path d="M330.7 147.8V150.8" stroke="#3a3a3a" stroke-width="1"/><path d="M354.9 147.8V150.8" stroke="#3a3a3a" stroke-width="1"/><path d="M379.1 147.8V150.8" stroke="#3a3a3a" stroke-width="1"/><path d="M403.3 147.8V150.8" stroke="#3a3a3a" stroke-width="1"/><path d="M427.5 147.8V150.8" stroke="#3a3a3a" stroke-width="1"/><path d="M451.7 147.8V150.8" stroke="#3a3a3a" stroke-width="1"/><path d="M475.9 147.8V150.8" stroke="#3a3a3a" stroke-width="1"/><path d="M500.1 147.8V150.8" stroke="#3a3a3a" stroke-width="1"/><text class="t" x="311" y="155.5" font-size="7.6" text-anchor="end" fill="#0a0a0a" transform="rotate(-45 311 155.5)">BL</text><text class="t" x="335.2" y="155.5" font-size="7.6" text-anchor="end" fill="#0a0a0a" transform="rotate(-45 335.2 155.5)">CD10<tspan font-size="5.6" dy="-2.9">−</tspan><tspan dy="2.9"> DLBCL</tspan></text><text class="t" x="359.4" y="155.5" font-size="7.6" text-anchor="end" fill="#0a0a0a" transform="rotate(-45 359.4 155.5)">CD10<tspan font-size="5.6" dy="-2.9">+</tspan><tspan dy="2.9"> DLBCL</tspan></text><text class="t" x="383.6" y="155.5" font-size="7.6" text-anchor="end" fill="#0a0a0a" transform="rotate(-45 383.6 155.5)">CLL</text><text class="t" x="407.8" y="155.5" font-size="7.6" text-anchor="end" fill="#0a0a0a" transform="rotate(-45 407.8 155.5)">FL</text><text class="t" x="432" y="155.5" font-size="7.6" text-anchor="end" fill="#0a0a0a" transform="rotate(-45 432 155.5)">HCL</text><text class="t" x="456.2" y="155.5" font-size="7.6" text-anchor="end" fill="#0a0a0a" transform="rotate(-45 456.2 155.5)">LPL</text><text class="t" x="480.4" y="155.5" font-size="7.6" text-anchor="end" fill="#0a0a0a" transform="rotate(-45 480.4 155.5)">MCL</text><text class="t" x="504.6" y="155.5" font-size="7.6" text-anchor="end" fill="#0a0a0a" transform="rotate(-45 504.6 155.5)">MZL</text><text class="t" x="306.5" y="12.3" font-size="7.4" text-anchor="middle" fill="#0a0a0a">3696</text><rect x="303" y="16.05" width="1.5" height="1.5" fill="#2e2e2e"/><rect x="305.75" y="16.05" width="1.5" height="1.5" fill="#2e2e2e"/><rect x="308.5" y="16.05" width="1.5" height="1.5" fill="#2e2e2e"/><text class="t" x="329.9" y="12.3" font-size="7.4" text-anchor="middle" fill="#0a0a0a">773</text><rect x="327.77" y="16.05" width="1.5" height="1.5" fill="#2e2e2e"/><rect x="330.52" y="16.05" width="1.5" height="1.5" fill="#2e2e2e"/><text class="t" x="352.9" y="12.3" font-size="7.4" text-anchor="middle" fill="#0a0a0a">3100</text><rect x="349.4" y="16.05" width="1.5" height="1.5" fill="#2e2e2e"/><rect x="352.15" y="16.05" width="1.5" height="1.5" fill="#2e2e2e"/><rect x="354.9" y="16.05" width="1.5" height="1.5" fill="#2e2e2e"/><text class="t" x="375.6" y="12.3" font-size="7.4" text-anchor="middle" fill="#0a0a0a">271</text><path d="M373.6 20.8L376.8 20.8L377.7 15.9L374.6 15.9Z" fill="#555" fill-opacity="0.55"/><text x="375.7" y="21.2" font-size="7.2" font-weight="bold" font-style="italic" text-anchor="middle" fill="#3c3c3c" stroke="#3c3c3c" stroke-width="0.12">#</text><text class="t" x="398.9" y="12.3" font-size="7.4" text-anchor="middle" fill="#0a0a0a">3095</text><rect x="395.4" y="16.05" width="1.5" height="1.5" fill="#2e2e2e"/><rect x="398.15" y="16.05" width="1.5" height="1.5" fill="#2e2e2e"/><rect x="400.9" y="16.05" width="1.5" height="1.5" fill="#2e2e2e"/><text class="t" x="424.3" y="12.3" font-size="7.4" text-anchor="middle" fill="#0a0a0a">2405</text><rect x="420.8" y="16.05" width="1.5" height="1.5" fill="#2e2e2e"/><rect x="423.55" y="16.05" width="1.5" height="1.5" fill="#2e2e2e"/><rect x="426.3" y="16.05" width="1.5" height="1.5" fill="#2e2e2e"/><text class="t" x="449.4" y="12.3" font-size="7.4" text-anchor="middle" fill="#0a0a0a">6239</text><rect x="445.9" y="16.05" width="1.5" height="1.5" fill="#2e2e2e"/><rect x="448.65" y="16.05" width="1.5" height="1.5" fill="#2e2e2e"/><rect x="451.4" y="16.05" width="1.5" height="1.5" fill="#2e2e2e"/><text class="t" x="474.6" y="12.3" font-size="7.4" text-anchor="middle" fill="#0a0a0a">4577</text><rect x="471.1" y="16.05" width="1.5" height="1.5" fill="#2e2e2e"/><rect x="473.85" y="16.05" width="1.5" height="1.5" fill="#2e2e2e"/><rect x="476.6" y="16.05" width="1.5" height="1.5" fill="#2e2e2e"/><text class="t" x="499.8" y="12.3" font-size="7.4" text-anchor="middle" fill="#0a0a0a">1217</text><rect x="496.3" y="16.05" width="1.5" height="1.5" fill="#2e2e2e"/><rect x="499.05" y="16.05" width="1.5" height="1.5" fill="#2e2e2e"/><rect x="501.8" y="16.05" width="1.5" height="1.5" fill="#2e2e2e"/><path d="M306.5 41.25V115.5" stroke="#3a3d42" stroke-width="0.9"/><g fill="#e0103c" fill-opacity="0.9"><circle cx="306.96" cy="99.95" r="0.8"/><circle cx="307.97" cy="91.26" r="0.8"/><circle cx="306.41" cy="107.8" r="0.8"/><circle cx="305.79" cy="94.9" r="0.8"/><circle cx="305.1" cy="47.89" r="0.8"/><circle cx="303.77" cy="83.25" r="0.8"/><circle cx="306.31" cy="42.66" r="0.8"/><circle cx="303.76" cy="53.22" r="0.8"/><circle cx="307.14" cy="97.43" r="0.8"/><circle cx="307.04" cy="82.33" r="0.8"/><circle cx="307.06" cy="44.73" r="0.8"/><circle cx="308.69" cy="82.33" r="0.8"/><circle cx="307.12" cy="52.22" r="0.8"/><circle cx="306.09" cy="42.54" r="0.8"/><circle cx="305.85" cy="42.59" r="0.8"/><circle cx="306.94" cy="110.4" r="0.8"/><circle cx="306.96" cy="103.24" r="0.8"/><circle cx="306.2" cy="103.16" r="0.8"/><circle cx="305.94" cy="85.35" r="0.8"/><circle cx="306.09" cy="107.37" r="0.8"/><circle cx="306.39" cy="92.69" r="0.8"/><circle cx="306.16" cy="82.7" r="0.8"/><circle cx="306.5" cy="41.25" r="0.8"/><circle cx="306.5" cy="115.5" r="0.8"/></g><rect x="297.7" y="53.25" width="17.6" height="28.75" fill="#e68a9b"/><path d="M297.7 52.65V82.6M315.3 52.65V82.6" stroke="#2a2a2a" stroke-width="0.9"/><path d="M297.25 53.25H315.75M297.25 82H315.75" stroke="#2a2a2a" stroke-width="1.2"/><rect x="298.95" y="54.6" width="15.1" height="26.05" fill="none" stroke="#fff" stroke-opacity="0.28" stroke-width="0.8"/><path d="M298.5 63.75H314.5M298.5 67.25H314.5" stroke="#fff" stroke-opacity="0.3" stroke-width="0.8"/><path d="M297.7 65.5H315.3" stroke="#000" stroke-opacity="0.66" stroke-width="1.8"/><path d="M330.7 45.75V142" stroke="#3a3d42" stroke-width="0.9"/><g fill="#1f62a5" fill-opacity="0.9"><circle cx="330.24" cy="56.05" r="0.8"/><circle cx="330.71" cy="47.19" r="0.8"/><circle cx="328.6" cy="122.73" r="0.8"/><circle cx="332.35" cy="63.7" r="0.8"/><circle cx="330.84" cy="56.4" r="0.8"/><circle cx="329.97" cy="51.04" r="0.8"/><circle cx="326.91" cy="109.2" r="0.8"/><circle cx="332.11" cy="54.53" r="0.8"/><circle cx="330.65" cy="62.42" r="0.8"/><circle cx="330.66" cy="109.45" r="0.8"/><circle cx="330.19" cy="52.13" r="0.8"/><circle cx="328.69" cy="111.55" r="0.8"/><circle cx="328.53" cy="118.06" r="0.8"/><circle cx="332.97" cy="107.98" r="0.8"/><circle cx="331.04" cy="130.46" r="0.8"/><circle cx="330.04" cy="64.47" r="0.8"/><circle cx="333.76" cy="108.03" r="0.8"/><circle cx="328.93" cy="67.88" r="0.8"/><circle cx="330.7" cy="67.15" r="0.8"/><circle cx="331.24" cy="54.76" r="0.8"/><circle cx="330.65" cy="51.3" r="0.8"/><circle cx="331.06" cy="58.37" r="0.8"/><circle cx="330.9" cy="63.63" r="0.8"/><circle cx="330.46" cy="54.03" r="0.8"/><circle cx="331.18" cy="49.44" r="0.8"/><circle cx="331.04" cy="61.47" r="0.8"/><circle cx="330.61" cy="113.35" r="0.8"/><circle cx="330.81" cy="134.18" r="0.8"/><circle cx="330.65" cy="111.85" r="0.8"/><circle cx="330.33" cy="138.04" r="0.8"/><circle cx="330.42" cy="114.11" r="0.8"/><circle cx="331.18" cy="131.76" r="0.8"/><circle cx="330.22" cy="112.83" r="0.8"/><circle cx="330.46" cy="116.04" r="0.8"/><circle cx="330.23" cy="125.52" r="0.8"/><circle cx="330.26" cy="118.82" r="0.8"/><circle cx="331.02" cy="141.14" r="0.8"/><circle cx="330.7" cy="45.75" r="0.8"/><circle cx="330.7" cy="142" r="0.8"/></g><rect x="321.9" y="69.5" width="17.6" height="38" fill="#7ba3c6"/><path d="M321.9 68.9V108.1M339.5 68.9V108.1" stroke="#2a2a2a" stroke-width="0.9"/><path d="M321.45 69.5H339.95M321.45 107.5H339.95" stroke="#2a2a2a" stroke-width="1.2"/><rect x="323.15" y="70.85" width="15.1" height="35.3" fill="none" stroke="#fff" stroke-opacity="0.28" stroke-width="0.8"/><path d="M322.7 85.25H338.7M322.7 88.75H338.7" stroke="#fff" stroke-opacity="0.3" stroke-width="0.8"/><path d="M321.9 87H339.5" stroke="#000" stroke-opacity="0.66" stroke-width="1.8"/><path d="M354.9 37.5V128" stroke="#3a3d42" stroke-width="0.9"/><g fill="#34c234" fill-opacity="0.9"><circle cx="354.26" cy="38.64" r="0.8"/><circle cx="355.37" cy="37.99" r="0.8"/><circle cx="353.06" cy="101.88" r="0.8"/><circle cx="352.6" cy="94.27" r="0.8"/><circle cx="354.09" cy="55.44" r="0.8"/><circle cx="354.9" cy="112.02" r="0.8"/><circle cx="352.81" cy="102.83" r="0.8"/><circle cx="356.41" cy="100.91" r="0.8"/><circle cx="355.35" cy="101.72" r="0.8"/><circle cx="353.23" cy="101.43" r="0.8"/><circle cx="355.34" cy="121.27" r="0.8"/><circle cx="355.24" cy="119.8" r="0.8"/><circle cx="353.79" cy="102.51" r="0.8"/><circle cx="354.27" cy="94.16" r="0.8"/><circle cx="355.35" cy="112.92" r="0.8"/><circle cx="354.62" cy="51.32" r="0.8"/><circle cx="354.77" cy="48.69" r="0.8"/><circle cx="355.5" cy="49.65" r="0.8"/><circle cx="355.12" cy="40.8" r="0.8"/><circle cx="354.74" cy="51.51" r="0.8"/><circle cx="355.56" cy="46.32" r="0.8"/><circle cx="354.96" cy="38.19" r="0.8"/><circle cx="355.29" cy="99.05" r="0.8"/><circle cx="354.93" cy="125.95" r="0.8"/><circle cx="355" cy="96.99" r="0.8"/><circle cx="355.2" cy="112.17" r="0.8"/><circle cx="355.09" cy="111.17" r="0.8"/><circle cx="354.93" cy="122.1" r="0.8"/><circle cx="355.53" cy="107.66" r="0.8"/><circle cx="355.16" cy="100.75" r="0.8"/><circle cx="355.27" cy="107.04" r="0.8"/><circle cx="355.58" cy="97.72" r="0.8"/><circle cx="354.28" cy="105.76" r="0.8"/><circle cx="354.9" cy="37.5" r="0.8"/><circle cx="354.9" cy="128" r="0.8"/></g><rect x="346.1" y="55.5" width="17.6" height="38" fill="#a2dca2"/><path d="M346.1 54.9V94.1M363.7 54.9V94.1" stroke="#2a2a2a" stroke-width="0.9"/><path d="M345.65 55.5H364.15M345.65 93.5H364.15" stroke="#2a2a2a" stroke-width="1.2"/><rect x="347.35" y="56.85" width="15.1" height="35.3" fill="none" stroke="#fff" stroke-opacity="0.28" stroke-width="0.8"/><path d="M346.9 66H362.9M346.9 69.5H362.9" stroke="#fff" stroke-opacity="0.3" stroke-width="0.8"/><path d="M346.1 67.75H363.7" stroke="#000" stroke-opacity="0.66" stroke-width="1.8"/><path d="M379.1 74.5V125" stroke="#3a3d42" stroke-width="0.9"/><g fill="#6a2a8c" fill-opacity="0.9"><circle cx="377.29" cy="88.32" r="0.8"/><circle cx="375.21" cy="88.47" r="0.8"/><circle cx="378.46" cy="90.8" r="0.8"/><circle cx="377.92" cy="87.2" r="0.8"/><circle cx="376.9" cy="91.15" r="0.8"/><circle cx="382.62" cy="89.37" r="0.8"/><circle cx="376.85" cy="91.65" r="0.8"/><circle cx="378.24" cy="86.76" r="0.8"/><circle cx="376.13" cy="91.45" r="0.8"/><circle cx="381.58" cy="90.26" r="0.8"/><circle cx="378.85" cy="89.67" r="0.8"/><circle cx="376.91" cy="93" r="0.8"/><circle cx="377.93" cy="90.3" r="0.8"/><circle cx="381.65" cy="91.77" r="0.8"/><circle cx="378.84" cy="87.44" r="0.8"/><circle cx="379.49" cy="86.04" r="0.8"/><circle cx="381.77" cy="87.94" r="0.8"/><circle cx="381.91" cy="87.22" r="0.8"/><circle cx="378.11" cy="87.1" r="0.8"/><circle cx="378.51" cy="86.54" r="0.8"/><circle cx="375.12" cy="90.99" r="0.8"/><circle cx="377.35" cy="87.03" r="0.8"/><circle cx="368.58" cy="90.79" r="0.8"/><circle cx="370.74" cy="90.88" r="0.8"/><circle cx="372.96" cy="90.72" r="0.8"/><circle cx="375.2" cy="91.01" r="0.8"/><circle cx="376.75" cy="91" r="0.8"/><circle cx="379.34" cy="90.97" r="0.8"/><circle cx="380.96" cy="91" r="0.8"/><circle cx="383.34" cy="90.51" r="0.8"/><circle cx="385.05" cy="91.07" r="0.8"/><circle cx="387.51" cy="90.65" r="0.8"/><circle cx="389.26" cy="90.59" r="0.8"/><circle cx="367.94" cy="111.57" r="0.8"/><circle cx="369.84" cy="111.19" r="0.8"/><circle cx="372.01" cy="111.58" r="0.8"/><circle cx="373.4" cy="111.63" r="0.8"/><circle cx="375.5" cy="111.57" r="0.8"/><circle cx="377.37" cy="111.64" r="0.8"/><circle cx="379.27" cy="111.6" r="0.8"/><circle cx="380.75" cy="111.52" r="0.8"/><circle cx="382.79" cy="111.55" r="0.8"/><circle cx="384.56" cy="111.63" r="0.8"/><circle cx="386.47" cy="111.26" r="0.8"/><circle cx="388.11" cy="111.18" r="0.8"/><circle cx="390.1" cy="111.14" r="0.8"/><circle cx="378.71" cy="112.16" r="0.8"/><circle cx="379" cy="114.99" r="0.8"/><circle cx="379.57" cy="117.9" r="0.8"/><circle cx="373.18" cy="117.73" r="0.8"/><circle cx="378.72" cy="115.5" r="0.8"/><circle cx="381.08" cy="117.72" r="0.8"/><circle cx="377.6" cy="114.35" r="0.8"/><circle cx="384.63" cy="111.6" r="0.8"/><circle cx="380.74" cy="116.09" r="0.8"/><circle cx="373.44" cy="115.88" r="0.8"/><circle cx="381.29" cy="118.45" r="0.8"/><circle cx="377.07" cy="118.85" r="0.8"/><circle cx="379.23" cy="114.88" r="0.8"/><circle cx="383.87" cy="111.27" r="0.8"/><circle cx="381.72" cy="116" r="0.8"/><circle cx="377.16" cy="117.89" r="0.8"/><circle cx="377.49" cy="114.8" r="0.8"/><circle cx="379.41" cy="117.16" r="0.8"/><circle cx="375.63" cy="114.48" r="0.8"/><circle cx="378.17" cy="115.43" r="0.8"/><circle cx="383.02" cy="113.34" r="0.8"/><circle cx="383.03" cy="114.23" r="0.8"/><circle cx="372.1" cy="120.36" r="0.8"/><circle cx="373.85" cy="120.78" r="0.8"/><circle cx="375.69" cy="120.68" r="0.8"/><circle cx="377.25" cy="120.39" r="0.8"/><circle cx="378.98" cy="120.55" r="0.8"/><circle cx="380.93" cy="120.67" r="0.8"/><circle cx="382.32" cy="120.63" r="0.8"/><circle cx="384.58" cy="120.53" r="0.8"/><circle cx="385.83" cy="120.38" r="0.8"/><circle cx="367.61" cy="103.89" r="0.8"/><circle cx="389.22" cy="104.31" r="0.8"/><circle cx="368.59" cy="104.49" r="0.8"/><circle cx="389.24" cy="104.31" r="0.8"/><circle cx="381.55" cy="104.4" r="0.8"/><circle cx="383.22" cy="103.94" r="0.8"/><circle cx="382.9" cy="98.19" r="0.8"/><circle cx="382.61" cy="101.87" r="0.8"/><circle cx="384.62" cy="96.52" r="0.8"/><circle cx="372.41" cy="95.55" r="0.8"/><circle cx="380.2" cy="124.48" r="0.8"/><circle cx="379.72" cy="121.21" r="0.8"/><circle cx="380.39" cy="123.72" r="0.8"/><circle cx="379.35" cy="120.55" r="0.8"/><circle cx="378.31" cy="121.53" r="0.8"/><circle cx="379" cy="80.55" r="0.8"/><circle cx="379.71" cy="86.69" r="0.8"/><circle cx="379.19" cy="75.54" r="0.8"/><circle cx="378.57" cy="75.25" r="0.8"/><circle cx="379.21" cy="89.9" r="0.8"/><circle cx="379.03" cy="123.82" r="0.8"/><circle cx="378.94" cy="110.7" r="0.8"/><circle cx="379.71" cy="119.08" r="0.8"/><circle cx="379.07" cy="124.72" r="0.8"/><circle cx="379.1" cy="74.5" r="0.8"/><circle cx="379.1" cy="125" r="0.8"/><circle cx="379.01" cy="59.5" r="0.8"/></g><rect x="370.3" y="93.5" width="17.6" height="17" fill="#b293c4"/><path d="M370.3 92.9V111.1M387.9 92.9V111.1" stroke="#2a2a2a" stroke-width="0.9"/><path d="M369.85 93.5H388.35M369.85 110.5H388.35" stroke="#2a2a2a" stroke-width="1.2"/><rect x="371.55" y="94.85" width="15.1" height="14.3" fill="none" stroke="#fff" stroke-opacity="0.28" stroke-width="0.8"/><path d="M371.1 99.5H387.1M371.1 103H387.1" stroke="#fff" stroke-opacity="0.3" stroke-width="0.8"/><path d="M370.3 101.25H387.9" stroke="#000" stroke-opacity="0.66" stroke-width="1.8"/><path d="M403.3 42.5V120" stroke="#3a3d42" stroke-width="0.9"/><g fill="#ff9a1c" fill-opacity="0.9"><circle cx="401.48" cy="49.73" r="0.8"/><circle cx="397.36" cy="56.24" r="0.8"/><circle cx="408.74" cy="86.46" r="0.8"/><circle cx="402.36" cy="45.41" r="0.8"/><circle cx="401.97" cy="48.4" r="0.8"/><circle cx="398.21" cy="87.5" r="0.8"/><circle cx="405.16" cy="104.94" r="0.8"/><circle cx="404.82" cy="86.01" r="0.8"/><circle cx="407.1" cy="94.74" r="0.8"/><circle cx="403.82" cy="43.32" r="0.8"/><circle cx="405.11" cy="56.24" r="0.8"/><circle cx="401.06" cy="85.97" r="0.8"/><circle cx="407.43" cy="87.13" r="0.8"/><circle cx="401.72" cy="56.14" r="0.8"/><circle cx="404.9" cy="94" r="0.8"/><circle cx="402.78" cy="46.89" r="0.8"/><circle cx="402.76" cy="101.22" r="0.8"/><circle cx="405.09" cy="47.11" r="0.8"/><circle cx="401.76" cy="98.64" r="0.8"/><circle cx="403.79" cy="43.1" r="0.8"/><circle cx="404.37" cy="90.79" r="0.8"/><circle cx="403.63" cy="110.7" r="0.8"/><circle cx="406.85" cy="52.99" r="0.8"/><circle cx="403.88" cy="49.03" r="0.8"/><circle cx="402.51" cy="109.49" r="0.8"/><circle cx="402.47" cy="54.83" r="0.8"/><circle cx="404.66" cy="109.92" r="0.8"/><circle cx="404.3" cy="46.17" r="0.8"/><circle cx="401.64" cy="98.84" r="0.8"/><circle cx="403.98" cy="109.46" r="0.8"/><circle cx="399.14" cy="91.2" r="0.8"/><circle cx="402.15" cy="108.98" r="0.8"/><circle cx="402.66" cy="116.09" r="0.8"/><circle cx="403.1" cy="103.3" r="0.8"/><circle cx="406.02" cy="54.91" r="0.8"/><circle cx="399.67" cy="94.71" r="0.8"/><circle cx="402.16" cy="107.73" r="0.8"/><circle cx="404.22" cy="114.18" r="0.8"/><circle cx="404.07" cy="95.29" r="0.8"/><circle cx="399.7" cy="55.42" r="0.8"/><circle cx="403.94" cy="91.66" r="0.8"/><circle cx="400.46" cy="51.77" r="0.8"/><circle cx="403" cy="42.57" r="0.8"/><circle cx="405.16" cy="49.93" r="0.8"/><circle cx="402.21" cy="50.53" r="0.8"/><circle cx="397.71" cy="85.55" r="0.8"/><circle cx="403.26" cy="112.52" r="0.8"/><circle cx="406.31" cy="89.03" r="0.8"/><circle cx="403.94" cy="43.73" r="0.8"/><circle cx="402.71" cy="117.88" r="0.8"/><circle cx="399.72" cy="55.35" r="0.8"/><circle cx="403.98" cy="56.16" r="0.8"/><circle cx="407.24" cy="94.66" r="0.8"/><circle cx="404.47" cy="85.82" r="0.8"/><circle cx="408.66" cy="55.88" r="0.8"/><circle cx="404.35" cy="51.05" r="0.8"/><circle cx="402.67" cy="102.95" r="0.8"/><circle cx="408.64" cy="55.64" r="0.8"/><circle cx="398.19" cy="88.16" r="0.8"/><circle cx="407.31" cy="53.92" r="0.8"/><circle cx="401.88" cy="111.01" r="0.8"/><circle cx="404.08" cy="104.76" r="0.8"/><circle cx="399.07" cy="85.76" r="0.8"/><circle cx="403.72" cy="116.52" r="0.8"/><circle cx="405.13" cy="50.62" r="0.8"/><circle cx="400.81" cy="54.23" r="0.8"/><circle cx="400.47" cy="52.28" r="0.8"/><circle cx="405.35" cy="55.75" r="0.8"/><circle cx="401.72" cy="48.44" r="0.8"/><circle cx="402.63" cy="44.15" r="0.8"/><circle cx="404.31" cy="112.55" r="0.8"/><circle cx="399.7" cy="52.75" r="0.8"/><circle cx="403.69" cy="111.27" r="0.8"/><circle cx="406.56" cy="54.06" r="0.8"/><circle cx="400.96" cy="50.01" r="0.8"/><circle cx="405.85" cy="56.15" r="0.8"/><circle cx="407.58" cy="86.79" r="0.8"/><circle cx="400.08" cy="53.21" r="0.8"/><circle cx="402.79" cy="46.04" r="0.8"/><circle cx="401.77" cy="52.15" r="0.8"/><circle cx="408.9" cy="86.36" r="0.8"/><circle cx="403.7" cy="44.86" r="0.8"/><circle cx="401.46" cy="52.34" r="0.8"/><circle cx="401.78" cy="55.35" r="0.8"/><circle cx="404.32" cy="119.89" r="0.8"/><circle cx="407.48" cy="54.58" r="0.8"/><circle cx="402.26" cy="48.26" r="0.8"/><circle cx="406.98" cy="85.53" r="0.8"/><circle cx="397.53" cy="55.76" r="0.8"/><circle cx="400.8" cy="97.1" r="0.8"/><circle cx="402.62" cy="44.49" r="0.8"/><circle cx="399.59" cy="86.69" r="0.8"/><circle cx="401.7" cy="104.85" r="0.8"/><circle cx="404.58" cy="56.03" r="0.8"/><circle cx="400.16" cy="54.73" r="0.8"/><circle cx="404.96" cy="104.67" r="0.8"/><circle cx="398.43" cy="87.78" r="0.8"/><circle cx="405.38" cy="93.02" r="0.8"/><circle cx="402.71" cy="46.63" r="0.8"/><circle cx="403.28" cy="112.44" r="0.8"/><circle cx="403.24" cy="44.53" r="0.8"/><circle cx="399.93" cy="89.14" r="0.8"/><circle cx="400" cy="91.78" r="0.8"/><circle cx="399.81" cy="50.56" r="0.8"/><circle cx="403.44" cy="94.24" r="0.8"/><circle cx="404.95" cy="48.48" r="0.8"/><circle cx="405.47" cy="90.5" r="0.8"/><circle cx="401.27" cy="47.79" r="0.8"/><circle cx="403.29" cy="117.35" r="0.8"/><circle cx="403.6" cy="97.24" r="0.8"/><circle cx="403.95" cy="42.78" r="0.8"/><circle cx="402.86" cy="45.58" r="0.8"/><circle cx="402.95" cy="43.91" r="0.8"/><circle cx="402.64" cy="53.74" r="0.8"/><circle cx="403.58" cy="43.83" r="0.8"/><circle cx="402.62" cy="45.18" r="0.8"/><circle cx="403.41" cy="106.18" r="0.8"/><circle cx="403.58" cy="103.54" r="0.8"/><circle cx="403.82" cy="89.05" r="0.8"/><circle cx="402.66" cy="110.24" r="0.8"/><circle cx="403.29" cy="89.75" r="0.8"/><circle cx="402.99" cy="102.78" r="0.8"/><circle cx="403.17" cy="89.71" r="0.8"/><circle cx="403.43" cy="90.22" r="0.8"/><circle cx="402.81" cy="115.21" r="0.8"/><circle cx="403.65" cy="105.26" r="0.8"/><circle cx="403.76" cy="91.17" r="0.8"/><circle cx="403.14" cy="117.85" r="0.8"/><circle cx="403.78" cy="100.01" r="0.8"/><circle cx="403.15" cy="103.63" r="0.8"/><circle cx="403.3" cy="42.5" r="0.8"/><circle cx="403.3" cy="120" r="0.8"/></g><rect x="394.5" y="56.25" width="17.6" height="29.25" fill="#fdc98c"/><path d="M394.5 55.65V86.1M412.1 55.65V86.1" stroke="#2a2a2a" stroke-width="0.9"/><path d="M394.05 56.25H412.55M394.05 85.5H412.55" stroke="#2a2a2a" stroke-width="1.2"/><rect x="395.75" y="57.6" width="15.1" height="26.55" fill="none" stroke="#fff" stroke-opacity="0.28" stroke-width="0.8"/><path d="M395.3 66.25H411.3M395.3 69.75H411.3" stroke="#fff" stroke-opacity="0.3" stroke-width="0.8"/><path d="M394.5 68H412.1" stroke="#000" stroke-opacity="0.66" stroke-width="1.8"/><path d="M427.5 43V107.5" stroke="#3a3d42" stroke-width="0.9"/><g fill="#0e7a58" fill-opacity="0.9"><circle cx="427.05" cy="99.04" r="0.8"/><circle cx="427.06" cy="57.77" r="0.8"/><circle cx="428.52" cy="100" r="0.8"/><circle cx="426.62" cy="101.56" r="0.8"/><circle cx="428.19" cy="105.79" r="0.8"/><circle cx="428.32" cy="56.46" r="0.8"/><circle cx="425.23" cy="54.54" r="0.8"/><circle cx="424.87" cy="55.03" r="0.8"/><circle cx="427.94" cy="43.89" r="0.8"/><circle cx="428.84" cy="94.4" r="0.8"/><circle cx="426.75" cy="102.94" r="0.8"/><circle cx="428.78" cy="85.8" r="0.8"/><circle cx="429.7" cy="54.32" r="0.8"/><circle cx="427.65" cy="85.56" r="0.8"/><circle cx="427.16" cy="44.44" r="0.8"/><circle cx="425.91" cy="52.14" r="0.8"/><circle cx="427.52" cy="105.72" r="0.8"/><circle cx="427.7" cy="55.71" r="0.8"/><circle cx="424.64" cy="60" r="0.8"/><circle cx="426.17" cy="56.71" r="0.8"/><circle cx="427.86" cy="60.22" r="0.8"/><circle cx="427.82" cy="93.71" r="0.8"/><circle cx="427.08" cy="54.38" r="0.8"/><circle cx="427.45" cy="55.43" r="0.8"/><circle cx="427.66" cy="52.59" r="0.8"/><circle cx="427.23" cy="51.21" r="0.8"/><circle cx="427.11" cy="47.24" r="0.8"/><circle cx="427.34" cy="51.97" r="0.8"/><circle cx="426.82" cy="97.45" r="0.8"/><circle cx="428.01" cy="91.8" r="0.8"/><circle cx="427.58" cy="89.03" r="0.8"/><circle cx="427.2" cy="95.17" r="0.8"/><circle cx="427.21" cy="107.2" r="0.8"/><circle cx="427.02" cy="101.97" r="0.8"/><circle cx="428.02" cy="84.87" r="0.8"/><circle cx="426.89" cy="93.92" r="0.8"/><circle cx="427.42" cy="92.66" r="0.8"/><circle cx="427.5" cy="43" r="0.8"/><circle cx="427.5" cy="107.5" r="0.8"/><circle cx="427.74" cy="123.25" r="0.8"/></g><rect x="418.7" y="60.5" width="17.6" height="22.75" fill="#7db9a2"/><path d="M418.7 59.9V83.85M436.3 59.9V83.85" stroke="#2a2a2a" stroke-width="0.9"/><path d="M418.25 60.5H436.75M418.25 83.25H436.75" stroke="#2a2a2a" stroke-width="1.2"/><rect x="419.95" y="61.85" width="15.1" height="20.05" fill="none" stroke="#fff" stroke-opacity="0.28" stroke-width="0.8"/><path d="M419.5 69.5H435.5M419.5 73H435.5" stroke="#fff" stroke-opacity="0.3" stroke-width="0.8"/><path d="M418.7 71.25H436.3" stroke="#000" stroke-opacity="0.66" stroke-width="1.8"/><path d="M451.7 35V102.5" stroke="#3a3d42" stroke-width="0.9"/><g fill="#8478cc" fill-opacity="0.9"><circle cx="455.08" cy="48.35" r="0.8"/><circle cx="450.45" cy="72.08" r="0.8"/><circle cx="452.15" cy="42.06" r="0.8"/><circle cx="451.74" cy="93.46" r="0.8"/><circle cx="452.52" cy="89.92" r="0.8"/><circle cx="452.26" cy="39.89" r="0.8"/><circle cx="454.58" cy="71.7" r="0.8"/><circle cx="451.95" cy="40.29" r="0.8"/><circle cx="451.82" cy="35.91" r="0.8"/><circle cx="452.71" cy="39.92" r="0.8"/><circle cx="451.39" cy="76.87" r="0.8"/><circle cx="451" cy="41.14" r="0.8"/><circle cx="451.12" cy="44.17" r="0.8"/><circle cx="452.64" cy="39.85" r="0.8"/><circle cx="449.81" cy="45.85" r="0.8"/><circle cx="452.28" cy="48.96" r="0.8"/><circle cx="455.01" cy="71.26" r="0.8"/><circle cx="452.38" cy="38.65" r="0.8"/><circle cx="451.15" cy="72.88" r="0.8"/><circle cx="448.08" cy="70.76" r="0.8"/><circle cx="451.7" cy="43.19" r="0.8"/><circle cx="452.08" cy="48.34" r="0.8"/><circle cx="452.4" cy="42.81" r="0.8"/><circle cx="451.72" cy="42.5" r="0.8"/><circle cx="451.55" cy="44.94" r="0.8"/><circle cx="451.83" cy="82.11" r="0.8"/><circle cx="452.33" cy="81.9" r="0.8"/><circle cx="451.74" cy="92.23" r="0.8"/><circle cx="451.52" cy="73.89" r="0.8"/><circle cx="451.79" cy="83.48" r="0.8"/><circle cx="452.23" cy="88.98" r="0.8"/><circle cx="451.68" cy="101.37" r="0.8"/><circle cx="451.87" cy="84.73" r="0.8"/><circle cx="451.48" cy="102.38" r="0.8"/><circle cx="452.14" cy="87.58" r="0.8"/><circle cx="451.7" cy="35" r="0.8"/><circle cx="451.7" cy="102.5" r="0.8"/><circle cx="451.37" cy="119.5" r="0.8"/></g><rect x="442.9" y="49.5" width="17.6" height="21.25" fill="#c5c1e5"/><path d="M442.9 48.9V71.35M460.5 48.9V71.35" stroke="#2a2a2a" stroke-width="0.9"/><path d="M442.45 49.5H460.95M442.45 70.75H460.95" stroke="#2a2a2a" stroke-width="1.2"/><rect x="444.15" y="50.85" width="15.1" height="18.55" fill="none" stroke="#fff" stroke-opacity="0.28" stroke-width="0.8"/><path d="M443.7 56.5H459.7M443.7 60H459.7" stroke="#fff" stroke-opacity="0.3" stroke-width="0.8"/><path d="M442.9 58.25H460.5" stroke="#000" stroke-opacity="0.66" stroke-width="1.8"/><path d="M475.9 29.5V103.75" stroke="#3a3d42" stroke-width="0.9"/><g fill="#2f3f5c" fill-opacity="0.9"><circle cx="476.49" cy="30.29" r="0.8"/><circle cx="479.37" cy="73.24" r="0.8"/><circle cx="477.16" cy="94.83" r="0.8"/><circle cx="473.52" cy="79.68" r="0.8"/><circle cx="475.93" cy="44.29" r="0.8"/><circle cx="477.01" cy="50.04" r="0.8"/><circle cx="479.59" cy="77.83" r="0.8"/><circle cx="475.11" cy="72.64" r="0.8"/><circle cx="477.39" cy="76.69" r="0.8"/><circle cx="478.57" cy="48.37" r="0.8"/><circle cx="474.55" cy="88.24" r="0.8"/><circle cx="474.56" cy="43.3" r="0.8"/><circle cx="478.85" cy="83.17" r="0.8"/><circle cx="473.25" cy="79.4" r="0.8"/><circle cx="474.58" cy="37.62" r="0.8"/><circle cx="476.09" cy="50.17" r="0.8"/><circle cx="477.46" cy="86.1" r="0.8"/><circle cx="478.33" cy="51.24" r="0.8"/><circle cx="475.33" cy="38.94" r="0.8"/><circle cx="472.68" cy="48.95" r="0.8"/><circle cx="475.08" cy="84.96" r="0.8"/><circle cx="472.69" cy="46.94" r="0.8"/><circle cx="478.39" cy="84.98" r="0.8"/><circle cx="474.65" cy="41.6" r="0.8"/><circle cx="476.5" cy="30.46" r="0.8"/><circle cx="475.64" cy="48.09" r="0.8"/><circle cx="476.34" cy="49.05" r="0.8"/><circle cx="476.04" cy="36.1" r="0.8"/><circle cx="475.89" cy="50.38" r="0.8"/><circle cx="475.54" cy="50.16" r="0.8"/><circle cx="476.21" cy="37.98" r="0.8"/><circle cx="475.63" cy="79.42" r="0.8"/><circle cx="475.88" cy="99.85" r="0.8"/><circle cx="475.54" cy="97.27" r="0.8"/><circle cx="475.7" cy="77.92" r="0.8"/><circle cx="476.56" cy="78.33" r="0.8"/><circle cx="475.99" cy="81.58" r="0.8"/><circle cx="475.95" cy="76.09" r="0.8"/><circle cx="475.76" cy="84.55" r="0.8"/><circle cx="475.37" cy="74.55" r="0.8"/><circle cx="475.69" cy="98.31" r="0.8"/><circle cx="475.9" cy="29.5" r="0.8"/><circle cx="475.9" cy="103.75" r="0.8"/><circle cx="475.64" cy="110.75" r="0.8"/></g><rect x="467.1" y="51.25" width="17.6" height="21.25" fill="#a2a5ab"/><path d="M467.1 50.65V73.1M484.7 50.65V73.1" stroke="#2a2a2a" stroke-width="0.9"/><path d="M466.65 51.25H485.15M466.65 72.5H485.15" stroke="#2a2a2a" stroke-width="1.2"/><rect x="468.35" y="52.6" width="15.1" height="18.55" fill="none" stroke="#fff" stroke-opacity="0.28" stroke-width="0.8"/><path d="M467.9 60.75H483.9M467.9 64.25H483.9" stroke="#fff" stroke-opacity="0.3" stroke-width="0.8"/><path d="M467.1 62.5H484.7" stroke="#000" stroke-opacity="0.66" stroke-width="1.8"/><path d="M500.1 41.25V115.5" stroke="#3a3d42" stroke-width="0.9"/><g fill="#22a3e6" fill-opacity="0.9"><circle cx="498.48" cy="60.67" r="0.8"/><circle cx="499.54" cy="52.27" r="0.8"/><circle cx="498.83" cy="51.08" r="0.8"/><circle cx="499.41" cy="47.06" r="0.8"/><circle cx="500.66" cy="47.02" r="0.8"/><circle cx="501.39" cy="59.5" r="0.8"/><circle cx="499.69" cy="42.78" r="0.8"/><circle cx="498.79" cy="96.26" r="0.8"/><circle cx="501.5" cy="62.56" r="0.8"/><circle cx="500.22" cy="44.87" r="0.8"/><circle cx="500.79" cy="61.22" r="0.8"/><circle cx="499.55" cy="45.81" r="0.8"/><circle cx="499.06" cy="97.4" r="0.8"/><circle cx="500.99" cy="93.02" r="0.8"/><circle cx="499.44" cy="91.34" r="0.8"/><circle cx="502.43" cy="62.09" r="0.8"/><circle cx="500.33" cy="48.31" r="0.8"/><circle cx="500.19" cy="43.65" r="0.8"/><circle cx="500.1" cy="49.2" r="0.8"/><circle cx="499.49" cy="47.78" r="0.8"/><circle cx="499.72" cy="48.1" r="0.8"/><circle cx="500.4" cy="44.02" r="0.8"/><circle cx="499.96" cy="47.46" r="0.8"/><circle cx="500.48" cy="61.25" r="0.8"/><circle cx="500.61" cy="112.22" r="0.8"/><circle cx="499.79" cy="91.2" r="0.8"/><circle cx="500.35" cy="88.33" r="0.8"/><circle cx="499.89" cy="106.08" r="0.8"/><circle cx="500.32" cy="99.05" r="0.8"/><circle cx="499.75" cy="107.08" r="0.8"/><circle cx="499.89" cy="111.21" r="0.8"/><circle cx="499.65" cy="105.11" r="0.8"/><circle cx="500.68" cy="90.73" r="0.8"/><circle cx="500.4" cy="108.05" r="0.8"/><circle cx="500.1" cy="41.25" r="0.8"/><circle cx="500.1" cy="115.5" r="0.8"/></g><rect x="491.3" y="63.25" width="17.6" height="24.25" fill="#97d5f0"/><path d="M491.3 62.65V88.1M508.9 62.65V88.1" stroke="#2a2a2a" stroke-width="0.9"/><path d="M490.85 63.25H509.35M490.85 87.5H509.35" stroke="#2a2a2a" stroke-width="1.2"/><rect x="492.55" y="64.6" width="15.1" height="21.55" fill="none" stroke="#fff" stroke-opacity="0.28" stroke-width="0.8"/><path d="M492.1 78.75H508.1M492.1 82.25H508.1" stroke="#fff" stroke-opacity="0.3" stroke-width="0.8"/><path d="M491.3 80.5H508.9" stroke="#000" stroke-opacity="0.66" stroke-width="1.8"/><text x="494.5" y="139.5" font-size="8.4" font-weight="bold" text-anchor="end" fill="#000" stroke="#000" stroke-width="0.2" textLength="24" lengthAdjust="spacingAndGlyphs">CD79b</text></g><g><path d="M38.15 211.25V349.9" fill="none" stroke="#3d3d3d" stroke-width="1.3"/><path d="M37.5 349.1H260" fill="none" stroke="#444" stroke-width="1.6"/><path d="M35.15 253.75H38.15" stroke="#3a3a3a" stroke-width="1"/><text class="t" x="32.25" y="256.15" font-size="7.4" text-anchor="end" fill="#0a0a0a">10000</text><path d="M35.15 296.75H38.15" stroke="#3a3a3a" stroke-width="1"/><text class="t" x="32.25" y="299.15" font-size="7.4" text-anchor="end" fill="#0a0a0a">1000</text><path d="M35.15 339.5H38.15" stroke="#3a3a3a" stroke-width="1"/><text class="t" x="32.25" y="341.9" font-size="7.4" text-anchor="end" fill="#0a0a0a">100</text><path d="M52.4 349.1V352.1" stroke="#3a3a3a" stroke-width="1"/><path d="M76.55 349.1V352.1" stroke="#3a3a3a" stroke-width="1"/><path d="M100.7 349.1V352.1" stroke="#3a3a3a" stroke-width="1"/><path d="M124.85 349.1V352.1" stroke="#3a3a3a" stroke-width="1"/><path d="M149 349.1V352.1" stroke="#3a3a3a" stroke-width="1"/><path d="M173.15 349.1V352.1" stroke="#3a3a3a" stroke-width="1"/><path d="M197.3 349.1V352.1" stroke="#3a3a3a" stroke-width="1"/><path d="M221.45 349.1V352.1" stroke="#3a3a3a" stroke-width="1"/><path d="M245.6 349.1V352.1" stroke="#3a3a3a" stroke-width="1"/><text class="t" x="56" y="357.5" font-size="7.6" text-anchor="end" fill="#0a0a0a" transform="rotate(-45 56 357.5)">BL</text><text class="t" x="80.15" y="357.5" font-size="7.6" text-anchor="end" fill="#0a0a0a" transform="rotate(-45 80.15 357.5)">CD10<tspan font-size="5.6" dy="-2.9">−</tspan><tspan dy="2.9"> DLBCL</tspan></text><text class="t" x="104.3" y="357.5" font-size="7.6" text-anchor="end" fill="#0a0a0a" transform="rotate(-45 104.3 357.5)">CD10<tspan font-size="5.6" dy="-2.9">+</tspan><tspan dy="2.9"> DLBCL</tspan></text><text class="t" x="128.45" y="357.5" font-size="7.6" text-anchor="end" fill="#0a0a0a" transform="rotate(-45 128.45 357.5)">CLL</text><text class="t" x="152.6" y="357.5" font-size="7.6" text-anchor="end" fill="#0a0a0a" transform="rotate(-45 152.6 357.5)">FL</text><text class="t" x="176.75" y="357.5" font-size="7.6" text-anchor="end" fill="#0a0a0a" transform="rotate(-45 176.75 357.5)">HCL</text><text class="t" x="200.9" y="357.5" font-size="7.6" text-anchor="end" fill="#0a0a0a" transform="rotate(-45 200.9 357.5)">LPL</text><text class="t" x="225.05" y="357.5" font-size="7.6" text-anchor="end" fill="#0a0a0a" transform="rotate(-45 225.05 357.5)">MCL</text><text class="t" x="249.2" y="357.5" font-size="7.6" text-anchor="end" fill="#0a0a0a" transform="rotate(-45 249.2 357.5)">MZL</text><text class="t" x="52.6" y="213.8" font-size="7.4" text-anchor="middle" fill="#0a0a0a">13133</text><rect x="49.1" y="217.25" width="1.5" height="1.5" fill="#2e2e2e"/><rect x="51.85" y="217.25" width="1.5" height="1.5" fill="#2e2e2e"/><rect x="54.6" y="217.25" width="1.5" height="1.5" fill="#2e2e2e"/><text class="t" x="76.6" y="213.8" font-size="7.4" text-anchor="middle" fill="#0a0a0a">3075</text><rect x="73.1" y="217.25" width="1.5" height="1.5" fill="#2e2e2e"/><rect x="75.85" y="217.25" width="1.5" height="1.5" fill="#2e2e2e"/><rect x="78.6" y="217.25" width="1.5" height="1.5" fill="#2e2e2e"/><text class="t" x="100.5" y="213.8" font-size="7.4" text-anchor="middle" fill="#0a0a0a">5457</text><rect x="97" y="217.25" width="1.5" height="1.5" fill="#2e2e2e"/><rect x="99.75" y="217.25" width="1.5" height="1.5" fill="#2e2e2e"/><rect x="102.5" y="217.25" width="1.5" height="1.5" fill="#2e2e2e"/><text class="t" x="124.9" y="213.8" font-size="7.4" text-anchor="middle" fill="#0a0a0a">579</text><path d="M122.9 221.7L126.1 221.7L127 216.8L123.9 216.8Z" fill="#555" fill-opacity="0.55"/><text x="125" y="222.1" font-size="7.2" font-weight="bold" font-style="italic" text-anchor="middle" fill="#3c3c3c" stroke="#3c3c3c" stroke-width="0.12">#</text><text class="t" x="149.25" y="213.8" font-size="7.4" text-anchor="middle" fill="#0a0a0a">2946</text><rect x="145.75" y="217.25" width="1.5" height="1.5" fill="#2e2e2e"/><rect x="148.5" y="217.25" width="1.5" height="1.5" fill="#2e2e2e"/><rect x="151.25" y="217.25" width="1.5" height="1.5" fill="#2e2e2e"/><text class="t" x="173.6" y="213.8" font-size="7.4" text-anchor="middle" fill="#0a0a0a">1108</text><rect x="171.47" y="217.25" width="1.5" height="1.5" fill="#2e2e2e"/><rect x="174.22" y="217.25" width="1.5" height="1.5" fill="#2e2e2e"/><text class="t" x="197.5" y="213.8" font-size="7.4" text-anchor="middle" fill="#0a0a0a">1638</text><rect x="194" y="217.25" width="1.5" height="1.5" fill="#2e2e2e"/><rect x="196.75" y="217.25" width="1.5" height="1.5" fill="#2e2e2e"/><rect x="199.5" y="217.25" width="1.5" height="1.5" fill="#2e2e2e"/><text class="t" x="221.7" y="213.8" font-size="7.4" text-anchor="middle" fill="#0a0a0a">1693</text><rect x="218.2" y="217.25" width="1.5" height="1.5" fill="#2e2e2e"/><rect x="220.95" y="217.25" width="1.5" height="1.5" fill="#2e2e2e"/><rect x="223.7" y="217.25" width="1.5" height="1.5" fill="#2e2e2e"/><text class="t" x="245.7" y="213.8" font-size="7.4" text-anchor="middle" fill="#0a0a0a">2018</text><rect x="242.2" y="217.25" width="1.5" height="1.5" fill="#2e2e2e"/><rect x="244.95" y="217.25" width="1.5" height="1.5" fill="#2e2e2e"/><rect x="247.7" y="217.25" width="1.5" height="1.5" fill="#2e2e2e"/><path d="M52.4 231.25V270" stroke="#3a3d42" stroke-width="0.9"/><g fill="#e0103c" fill-opacity="0.9"><circle cx="50.38" cy="244.94" r="0.8"/><circle cx="51.78" cy="243.19" r="0.8"/><circle cx="53.12" cy="243.11" r="0.8"/><circle cx="52.51" cy="234.79" r="0.8"/><circle cx="52.05" cy="256.02" r="0.8"/><circle cx="49.91" cy="257.09" r="0.8"/><circle cx="51.95" cy="264.58" r="0.8"/><circle cx="52.55" cy="234.48" r="0.8"/><circle cx="50.28" cy="243.75" r="0.8"/><circle cx="54.71" cy="255.59" r="0.8"/><circle cx="53.55" cy="254.74" r="0.8"/><circle cx="53.17" cy="236.61" r="0.8"/><circle cx="51.83" cy="235.12" r="0.8"/><circle cx="52.29" cy="244.26" r="0.8"/><circle cx="52.67" cy="244.04" r="0.8"/><circle cx="52.86" cy="265.95" r="0.8"/><circle cx="52.33" cy="264.24" r="0.8"/><circle cx="52.68" cy="255.34" r="0.8"/><circle cx="52.42" cy="261.14" r="0.8"/><circle cx="52.4" cy="231.25" r="0.8"/><circle cx="52.4" cy="270" r="0.8"/></g><rect x="43.6" y="245" width="17.6" height="9.5" fill="#e68a9b"/><path d="M43.6 244.4V255.1M61.2 244.4V255.1" stroke="#2a2a2a" stroke-width="0.9"/><path d="M43.15 245H61.65M43.15 254.5H61.65" stroke="#2a2a2a" stroke-width="1.2"/><rect x="44.85" y="246.35" width="15.1" height="6.8" fill="none" stroke="#fff" stroke-opacity="0.28" stroke-width="0.8"/><path d="M44.4 246.5H60.4M44.4 250H60.4" stroke="#fff" stroke-opacity="0.3" stroke-width="0.8"/><path d="M43.6 248.25H61.2" stroke="#000" stroke-opacity="0.66" stroke-width="1.8"/><path d="M76.55 245.75V312" stroke="#3a3d42" stroke-width="0.9"/><g fill="#1f62a5" fill-opacity="0.9"><circle cx="78.58" cy="288.73" r="0.8"/><circle cx="77.65" cy="252.97" r="0.8"/><circle cx="78.96" cy="256.02" r="0.8"/><circle cx="75.26" cy="296.52" r="0.8"/><circle cx="75.97" cy="258.96" r="0.8"/><circle cx="74.04" cy="259.56" r="0.8"/><circle cx="75.52" cy="300.16" r="0.8"/><circle cx="76.25" cy="256.57" r="0.8"/><circle cx="75.22" cy="292.06" r="0.8"/><circle cx="77.04" cy="288.87" r="0.8"/><circle cx="76.66" cy="250.44" r="0.8"/><circle cx="77.82" cy="289.17" r="0.8"/><circle cx="78.11" cy="294.44" r="0.8"/><circle cx="74.91" cy="288.6" r="0.8"/><circle cx="73.27" cy="260.66" r="0.8"/><circle cx="78.06" cy="260.74" r="0.8"/><circle cx="75.18" cy="261.36" r="0.8"/><circle cx="74.37" cy="258.89" r="0.8"/><circle cx="75.87" cy="246.9" r="0.8"/><circle cx="76.9" cy="261.62" r="0.8"/><circle cx="76.85" cy="247.09" r="0.8"/><circle cx="76.64" cy="261.43" r="0.8"/><circle cx="76.53" cy="247.49" r="0.8"/><circle cx="76.12" cy="252.7" r="0.8"/><circle cx="75.86" cy="301.03" r="0.8"/><circle cx="76.75" cy="310.07" r="0.8"/><circle cx="77.16" cy="303.07" r="0.8"/><circle cx="76.2" cy="303.66" r="0.8"/><circle cx="76.04" cy="293.9" r="0.8"/><circle cx="76.93" cy="288.66" r="0.8"/><circle cx="76.26" cy="308.15" r="0.8"/><circle cx="76.74" cy="292.46" r="0.8"/><circle cx="76.55" cy="245.75" r="0.8"/><circle cx="76.55" cy="312" r="0.8"/></g><rect x="67.75" y="261.75" width="17.6" height="26.25" fill="#7ba3c6"/><path d="M67.75 261.15V288.6M85.35 261.15V288.6" stroke="#2a2a2a" stroke-width="0.9"/><path d="M67.3 261.75H85.8M67.3 288H85.8" stroke="#2a2a2a" stroke-width="1.2"/><rect x="69" y="263.1" width="15.1" height="23.55" fill="none" stroke="#fff" stroke-opacity="0.28" stroke-width="0.8"/><path d="M68.55 273.75H84.55M68.55 277.25H84.55" stroke="#fff" stroke-opacity="0.3" stroke-width="0.8"/><path d="M67.75 275.5H85.35" stroke="#000" stroke-opacity="0.66" stroke-width="1.8"/><path d="M100.7 231.75V308.75" stroke="#3a3d42" stroke-width="0.9"/><g fill="#34c234" fill-opacity="0.9"><circle cx="100.17" cy="305.17" r="0.8"/><circle cx="101.23" cy="300.76" r="0.8"/><circle cx="103.16" cy="252.03" r="0.8"/><circle cx="101.03" cy="249.31" r="0.8"/><circle cx="100.14" cy="237.54" r="0.8"/><circle cx="101.33" cy="245.06" r="0.8"/><circle cx="102.15" cy="295.56" r="0.8"/><circle cx="100.7" cy="288.16" r="0.8"/><circle cx="101.27" cy="250.48" r="0.8"/><circle cx="99.43" cy="241.87" r="0.8"/><circle cx="100.04" cy="232.84" r="0.8"/><circle cx="98.84" cy="247.94" r="0.8"/><circle cx="103.43" cy="279.25" r="0.8"/><circle cx="100.5" cy="298.88" r="0.8"/><circle cx="100.76" cy="242.6" r="0.8"/><circle cx="100.29" cy="249.84" r="0.8"/><circle cx="101.16" cy="246.07" r="0.8"/><circle cx="100.23" cy="251.19" r="0.8"/><circle cx="100.62" cy="238.11" r="0.8"/><circle cx="100.49" cy="243.86" r="0.8"/><circle cx="100.12" cy="235.95" r="0.8"/><circle cx="100.64" cy="238.71" r="0.8"/><circle cx="101.27" cy="252.63" r="0.8"/><circle cx="101.36" cy="304.78" r="0.8"/><circle cx="100.87" cy="307.62" r="0.8"/><circle cx="100.08" cy="303.18" r="0.8"/><circle cx="100.85" cy="299.21" r="0.8"/><circle cx="100.8" cy="288.01" r="0.8"/><circle cx="100.67" cy="307.36" r="0.8"/><circle cx="100.42" cy="298.35" r="0.8"/><circle cx="101.24" cy="289.38" r="0.8"/><circle cx="100.26" cy="280.07" r="0.8"/><circle cx="100.63" cy="299.27" r="0.8"/><circle cx="100.7" cy="231.75" r="0.8"/><circle cx="100.7" cy="308.75" r="0.8"/><circle cx="100.29" cy="323" r="0.8"/></g><rect x="91.9" y="253.25" width="17.6" height="26" fill="#a2dca2"/><path d="M91.9 252.65V279.85M109.5 252.65V279.85" stroke="#2a2a2a" stroke-width="0.9"/><path d="M91.45 253.25H109.95M91.45 279.25H109.95" stroke="#2a2a2a" stroke-width="1.2"/><rect x="93.15" y="254.6" width="15.1" height="23.3" fill="none" stroke="#fff" stroke-opacity="0.28" stroke-width="0.8"/><path d="M92.7 263.25H108.7M92.7 266.75H108.7" stroke="#fff" stroke-opacity="0.3" stroke-width="0.8"/><path d="M91.9 265H109.5" stroke="#000" stroke-opacity="0.66" stroke-width="1.8"/><path d="M124.85 281.25V325" stroke="#3a3d42" stroke-width="0.9"/><g fill="#6a2a8c" fill-opacity="0.9"><circle cx="126.78" cy="293.46" r="0.8"/><circle cx="125.82" cy="294" r="0.8"/><circle cx="125.21" cy="295.78" r="0.8"/><circle cx="123.61" cy="290.37" r="0.8"/><circle cx="121.02" cy="299.68" r="0.8"/><circle cx="125.43" cy="290.35" r="0.8"/><circle cx="129.2" cy="292.04" r="0.8"/><circle cx="119.99" cy="295.37" r="0.8"/><circle cx="121.87" cy="294.87" r="0.8"/><circle cx="125.5" cy="291.72" r="0.8"/><circle cx="125.72" cy="290.36" r="0.8"/><circle cx="125.01" cy="296.06" r="0.8"/><circle cx="119.81" cy="293.9" r="0.8"/><circle cx="119.73" cy="294.27" r="0.8"/><circle cx="129.21" cy="295.61" r="0.8"/><circle cx="127.43" cy="298.08" r="0.8"/><circle cx="120.23" cy="300.89" r="0.8"/><circle cx="127.51" cy="290.23" r="0.8"/><circle cx="128.81" cy="293.7" r="0.8"/><circle cx="120.91" cy="300.52" r="0.8"/><circle cx="125.61" cy="298.3" r="0.8"/><circle cx="120.49" cy="298.31" r="0.8"/><circle cx="119.54" cy="291.84" r="0.8"/><circle cx="123.32" cy="289.18" r="0.8"/><circle cx="125.98" cy="291.56" r="0.8"/><circle cx="122.45" cy="297.49" r="0.8"/><circle cx="123.96" cy="299.66" r="0.8"/><circle cx="126.3" cy="299.47" r="0.8"/><circle cx="125.61" cy="300.01" r="0.8"/><circle cx="129.3" cy="291.02" r="0.8"/><circle cx="110" cy="301.5" r="0.8"/><circle cx="112.51" cy="301.71" r="0.8"/><circle cx="115.05" cy="301.37" r="0.8"/><circle cx="117.27" cy="301.74" r="0.8"/><circle cx="120.12" cy="301.73" r="0.8"/><circle cx="122.08" cy="301.66" r="0.8"/><circle cx="124.61" cy="301.63" r="0.8"/><circle cx="127.53" cy="301.37" r="0.8"/><circle cx="130.11" cy="301.71" r="0.8"/><circle cx="132.2" cy="301.42" r="0.8"/><circle cx="134.82" cy="301.8" r="0.8"/><circle cx="137.4" cy="301.37" r="0.8"/><circle cx="139.56" cy="301.37" r="0.8"/><circle cx="114.03" cy="316.31" r="0.8"/><circle cx="116.08" cy="316.37" r="0.8"/><circle cx="118.36" cy="316.43" r="0.8"/><circle cx="120.24" cy="316.73" r="0.8"/><circle cx="122.67" cy="316.61" r="0.8"/><circle cx="125.03" cy="316.77" r="0.8"/><circle cx="126.76" cy="316.41" r="0.8"/><circle cx="129.04" cy="316.5" r="0.8"/><circle cx="131.67" cy="316.68" r="0.8"/><circle cx="133.37" cy="316.31" r="0.8"/><circle cx="136.04" cy="316.61" r="0.8"/><circle cx="123.13" cy="319.18" r="0.8"/><circle cx="119.38" cy="323.99" r="0.8"/><circle cx="123.14" cy="324.35" r="0.8"/><circle cx="126.62" cy="313.99" r="0.8"/><circle cx="122.12" cy="315.81" r="0.8"/><circle cx="131.15" cy="320.66" r="0.8"/><circle cx="117.55" cy="315.21" r="0.8"/><circle cx="122.63" cy="319.08" r="0.8"/><circle cx="126.08" cy="318.04" r="0.8"/><circle cx="122.51" cy="313.08" r="0.8"/><circle cx="126.12" cy="317.34" r="0.8"/><circle cx="117.18" cy="318.97" r="0.8"/><circle cx="132.63" cy="313.59" r="0.8"/><circle cx="119.18" cy="321.72" r="0.8"/><circle cx="121.21" cy="316.55" r="0.8"/><circle cx="124.85" cy="316.41" r="0.8"/><circle cx="125.95" cy="319.87" r="0.8"/><circle cx="132.16" cy="325.9" r="0.8"/><circle cx="117.4" cy="320.29" r="0.8"/><circle cx="129.18" cy="324.34" r="0.8"/><circle cx="129.24" cy="321.23" r="0.8"/><circle cx="127" cy="317.72" r="0.8"/><circle cx="121.36" cy="323.34" r="0.8"/><circle cx="130.82" cy="325.2" r="0.8"/><circle cx="127.75" cy="316.95" r="0.8"/><circle cx="129.06" cy="322.61" r="0.8"/><circle cx="124.99" cy="321.26" r="0.8"/><circle cx="122.46" cy="320.16" r="0.8"/><circle cx="123.35" cy="313.79" r="0.8"/><circle cx="122.25" cy="317.2" r="0.8"/><circle cx="132.66" cy="319.26" r="0.8"/><circle cx="122.73" cy="316.16" r="0.8"/><circle cx="120.61" cy="317.54" r="0.8"/><circle cx="119.02" cy="313.09" r="0.8"/><circle cx="130.79" cy="318.89" r="0.8"/><circle cx="123.98" cy="320.39" r="0.8"/><circle cx="121.69" cy="315.2" r="0.8"/><circle cx="117.91" cy="316.92" r="0.8"/><circle cx="121.79" cy="322.45" r="0.8"/><circle cx="125.67" cy="325.19" r="0.8"/><circle cx="122.3" cy="324.98" r="0.8"/><circle cx="126.18" cy="314.04" r="0.8"/><circle cx="119.71" cy="320.55" r="0.8"/><circle cx="132.65" cy="317.64" r="0.8"/><circle cx="129.24" cy="318.57" r="0.8"/><circle cx="130.74" cy="313.88" r="0.8"/><circle cx="124.6" cy="324.69" r="0.8"/><circle cx="121.26" cy="316.35" r="0.8"/><circle cx="117.22" cy="315.14" r="0.8"/><circle cx="121.14" cy="322.16" r="0.8"/><circle cx="118.65" cy="315" r="0.8"/><circle cx="118.26" cy="316.01" r="0.8"/><circle cx="132.86" cy="316.24" r="0.8"/><circle cx="118.18" cy="316.67" r="0.8"/><circle cx="135.04" cy="316.01" r="0.8"/><circle cx="115.59" cy="317.05" r="0.8"/><circle cx="133.11" cy="314.71" r="0.8"/><circle cx="116.86" cy="313.94" r="0.8"/><circle cx="125.66" cy="317.38" r="0.8"/><circle cx="127.93" cy="317.61" r="0.8"/><circle cx="118.52" cy="314.63" r="0.8"/><circle cx="130.34" cy="316.24" r="0.8"/><circle cx="122.77" cy="316.39" r="0.8"/><circle cx="121.28" cy="313.29" r="0.8"/><circle cx="112.97" cy="306.15" r="0.8"/><circle cx="136.41" cy="306.43" r="0.8"/><circle cx="113.09" cy="306.7" r="0.8"/><circle cx="136.96" cy="306.56" r="0.8"/><circle cx="112.37" cy="307.03" r="0.8"/><circle cx="136.5" cy="307.09" r="0.8"/><circle cx="122.19" cy="286.91" r="0.8"/><circle cx="126.19" cy="284.63" r="0.8"/><circle cx="122.41" cy="283.25" r="0.8"/><circle cx="122.71" cy="288.14" r="0.8"/><circle cx="122.39" cy="288.51" r="0.8"/><circle cx="124.39" cy="286.31" r="0.8"/><circle cx="126.97" cy="307.77" r="0.8"/><circle cx="128.63" cy="308.42" r="0.8"/><circle cx="120.79" cy="310.38" r="0.8"/><circle cx="119.04" cy="309.96" r="0.8"/><circle cx="131.17" cy="310.86" r="0.8"/><circle cx="120.27" cy="310.82" r="0.8"/><circle cx="136.31" cy="306.34" r="0.8"/><circle cx="119.53" cy="307.33" r="0.8"/><circle cx="124.33" cy="300.07" r="0.8"/><circle cx="124.82" cy="281.43" r="0.8"/><circle cx="125.23" cy="294.36" r="0.8"/><circle cx="125.54" cy="288.5" r="0.8"/><circle cx="125.21" cy="285.81" r="0.8"/><circle cx="124.19" cy="283.05" r="0.8"/><circle cx="124.23" cy="314.61" r="0.8"/><circle cx="124.93" cy="319.02" r="0.8"/><circle cx="125.47" cy="315.18" r="0.8"/><circle cx="124.36" cy="317.39" r="0.8"/><circle cx="124.85" cy="281.25" r="0.8"/><circle cx="124.85" cy="325" r="0.8"/><circle cx="124.53" cy="337.5" r="0.8"/><circle cx="125.09" cy="343.75" r="0.8"/></g><rect x="116.05" y="301.25" width="17.6" height="11.75" fill="#b293c4"/><path d="M116.05 300.65V313.6M133.65 300.65V313.6" stroke="#2a2a2a" stroke-width="0.9"/><path d="M115.6 301.25H134.1M115.6 313H134.1" stroke="#2a2a2a" stroke-width="1.2"/><rect x="117.3" y="302.6" width="15.1" height="9.05" fill="none" stroke="#fff" stroke-opacity="0.28" stroke-width="0.8"/><path d="M116.85 305.25H132.85M116.85 308.75H132.85" stroke="#fff" stroke-opacity="0.3" stroke-width="0.8"/><path d="M116.05 307H133.65" stroke="#000" stroke-opacity="0.66" stroke-width="1.8"/><path d="M149 237.5V313.75" stroke="#3a3d42" stroke-width="0.9"/><g fill="#ff9a1c" fill-opacity="0.9"><circle cx="141.81" cy="290.36" r="0.8"/><circle cx="156.02" cy="291.46" r="0.8"/><circle cx="147.66" cy="253.33" r="0.8"/><circle cx="146.93" cy="295.8" r="0.8"/><circle cx="152.65" cy="289.81" r="0.8"/><circle cx="148.18" cy="252.98" r="0.8"/><circle cx="150.02" cy="289.46" r="0.8"/><circle cx="150.42" cy="241.44" r="0.8"/><circle cx="145.34" cy="291.18" r="0.8"/><circle cx="145.74" cy="259.87" r="0.8"/><circle cx="149.85" cy="248.53" r="0.8"/><circle cx="148.09" cy="237.78" r="0.8"/><circle cx="154.56" cy="290.3" r="0.8"/><circle cx="152.6" cy="291.85" r="0.8"/><circle cx="146.62" cy="292.11" r="0.8"/><circle cx="147.92" cy="242.76" r="0.8"/><circle cx="148.56" cy="299.46" r="0.8"/><circle cx="148.07" cy="309.07" r="0.8"/><circle cx="152.69" cy="293.57" r="0.8"/><circle cx="154.5" cy="290.61" r="0.8"/><circle cx="142.36" cy="292.37" r="0.8"/><circle cx="147.43" cy="238.78" r="0.8"/><circle cx="152.62" cy="290.23" r="0.8"/><circle cx="151.78" cy="265.57" r="0.8"/><circle cx="154.63" cy="262.3" r="0.8"/><circle cx="150.53" cy="309.04" r="0.8"/><circle cx="153.28" cy="264.49" r="0.8"/><circle cx="149.08" cy="289.34" r="0.8"/><circle cx="144.19" cy="259.96" r="0.8"/><circle cx="148.41" cy="237.96" r="0.8"/><circle cx="148.8" cy="289.92" r="0.8"/><circle cx="145.08" cy="260.02" r="0.8"/><circle cx="152.66" cy="290.2" r="0.8"/><circle cx="146.71" cy="289.85" r="0.8"/><circle cx="148.52" cy="241.46" r="0.8"/><circle cx="150.23" cy="239.11" r="0.8"/><circle cx="144.4" cy="291.95" r="0.8"/><circle cx="141.77" cy="266.69" r="0.8"/><circle cx="149.71" cy="294.59" r="0.8"/><circle cx="152.01" cy="266.99" r="0.8"/><circle cx="149.5" cy="297.95" r="0.8"/><circle cx="150.2" cy="313.02" r="0.8"/><circle cx="146.7" cy="294.39" r="0.8"/><circle cx="148.64" cy="238.84" r="0.8"/><circle cx="144.54" cy="260.52" r="0.8"/><circle cx="150.73" cy="289.25" r="0.8"/><circle cx="150.6" cy="291.65" r="0.8"/><circle cx="144.6" cy="264.38" r="0.8"/><circle cx="150.14" cy="244.93" r="0.8"/><circle cx="152.09" cy="289.4" r="0.8"/><circle cx="149.41" cy="252.96" r="0.8"/><circle cx="147.4" cy="238.91" r="0.8"/><circle cx="149.04" cy="307.96" r="0.8"/><circle cx="148.15" cy="313.53" r="0.8"/><circle cx="148.23" cy="304.05" r="0.8"/><circle cx="149.33" cy="294.27" r="0.8"/><circle cx="147.62" cy="301.88" r="0.8"/><circle cx="146.14" cy="297.93" r="0.8"/><circle cx="154.86" cy="291.81" r="0.8"/><circle cx="149.15" cy="250.06" r="0.8"/><circle cx="143.71" cy="264.73" r="0.8"/><circle cx="149.25" cy="297.54" r="0.8"/><circle cx="147.76" cy="306.49" r="0.8"/><circle cx="148.82" cy="245.87" r="0.8"/><circle cx="150.74" cy="307.01" r="0.8"/><circle cx="147.11" cy="289.37" r="0.8"/><circle cx="147.25" cy="306.65" r="0.8"/><circle cx="143.25" cy="264.18" r="0.8"/><circle cx="149.11" cy="246.67" r="0.8"/><circle cx="147.36" cy="266.53" r="0.8"/><circle cx="148.63" cy="302.45" r="0.8"/><circle cx="150.32" cy="246.89" r="0.8"/><circle cx="147.98" cy="251.68" r="0.8"/><circle cx="147.11" cy="291.38" r="0.8"/><circle cx="142.78" cy="261.28" r="0.8"/><circle cx="144.65" cy="255.64" r="0.8"/><circle cx="147.45" cy="250.2" r="0.8"/><circle cx="153.87" cy="264.36" r="0.8"/><circle cx="152.08" cy="253.33" r="0.8"/><circle cx="152.59" cy="260.16" r="0.8"/><circle cx="143.06" cy="293.8" r="0.8"/><circle cx="151.78" cy="261.63" r="0.8"/><circle cx="150.85" cy="260.58" r="0.8"/><circle cx="147.48" cy="293.41" r="0.8"/><circle cx="148.01" cy="310.7" r="0.8"/><circle cx="148.1" cy="303" r="0.8"/><circle cx="143.17" cy="292.96" r="0.8"/><circle cx="149.33" cy="293.97" r="0.8"/><circle cx="149.82" cy="242.28" r="0.8"/><circle cx="148.65" cy="254.87" r="0.8"/><circle cx="148.65" cy="245.09" r="0.8"/><circle cx="148.81" cy="242.79" r="0.8"/><circle cx="152.53" cy="257.55" r="0.8"/><circle cx="148.37" cy="303.95" r="0.8"/><circle cx="149.41" cy="251.69" r="0.8"/><circle cx="146.81" cy="304.96" r="0.8"/><circle cx="154.01" cy="266.62" r="0.8"/><circle cx="152.99" cy="266.52" r="0.8"/><circle cx="151.87" cy="289.43" r="0.8"/><circle cx="143.94" cy="296.35" r="0.8"/><circle cx="150.04" cy="294.81" r="0.8"/><circle cx="150.73" cy="306.62" r="0.8"/><circle cx="149.25" cy="262.42" r="0.8"/><circle cx="148.28" cy="238.07" r="0.8"/><circle cx="145.62" cy="262.9" r="0.8"/><circle cx="149.11" cy="298.27" r="0.8"/><circle cx="145.89" cy="266.81" r="0.8"/><circle cx="150.79" cy="306.09" r="0.8"/><circle cx="142.31" cy="265.05" r="0.8"/><circle cx="148.54" cy="293.85" r="0.8"/><circle cx="149.12" cy="251.93" r="0.8"/><circle cx="149.42" cy="248.29" r="0.8"/><circle cx="149.59" cy="243.41" r="0.8"/><circle cx="148.37" cy="253.91" r="0.8"/><circle cx="149.05" cy="246.77" r="0.8"/><circle cx="149.09" cy="249.56" r="0.8"/><circle cx="148.68" cy="247.04" r="0.8"/><circle cx="148.71" cy="260.98" r="0.8"/><circle cx="149.42" cy="258.46" r="0.8"/><circle cx="148.94" cy="254.97" r="0.8"/><circle cx="148.92" cy="265.08" r="0.8"/><circle cx="148.38" cy="263.4" r="0.8"/><circle cx="149.19" cy="299.88" r="0.8"/><circle cx="149.51" cy="290.45" r="0.8"/><circle cx="149.13" cy="291.01" r="0.8"/><circle cx="149.59" cy="293.66" r="0.8"/><circle cx="149.42" cy="303" r="0.8"/><circle cx="149.24" cy="301.46" r="0.8"/><circle cx="148.71" cy="305.79" r="0.8"/><circle cx="149.47" cy="294.42" r="0.8"/><circle cx="149.59" cy="292.82" r="0.8"/><circle cx="148.44" cy="294.32" r="0.8"/><circle cx="149" cy="237.5" r="0.8"/><circle cx="149" cy="313.75" r="0.8"/></g><rect x="140.2" y="267" width="17.6" height="22.25" fill="#fdc98c"/><path d="M140.2 266.4V289.85M157.8 266.4V289.85" stroke="#2a2a2a" stroke-width="0.9"/><path d="M139.75 267H158.25M139.75 289.25H158.25" stroke="#2a2a2a" stroke-width="1.2"/><rect x="141.45" y="268.35" width="15.1" height="19.55" fill="none" stroke="#fff" stroke-opacity="0.28" stroke-width="0.8"/><path d="M141 274.5H157M141 278H157" stroke="#fff" stroke-opacity="0.3" stroke-width="0.8"/><path d="M140.2 276.25H157.8" stroke="#000" stroke-opacity="0.66" stroke-width="1.8"/><path d="M173.15 259.5V335" stroke="#3a3d42" stroke-width="0.9"/><g fill="#0e7a58" fill-opacity="0.9"><circle cx="174.37" cy="267.28" r="0.8"/><circle cx="172.16" cy="271.18" r="0.8"/><circle cx="171.84" cy="322.58" r="0.8"/><circle cx="171.46" cy="270.09" r="0.8"/><circle cx="171.28" cy="312.02" r="0.8"/><circle cx="173.57" cy="312.51" r="0.8"/><circle cx="172.87" cy="262.84" r="0.8"/><circle cx="175.45" cy="309.82" r="0.8"/><circle cx="170.17" cy="314.08" r="0.8"/><circle cx="171.98" cy="271.71" r="0.8"/><circle cx="172.87" cy="309.22" r="0.8"/><circle cx="174.24" cy="315" r="0.8"/><circle cx="172.32" cy="265.8" r="0.8"/><circle cx="173.85" cy="334.83" r="0.8"/><circle cx="172.08" cy="311.96" r="0.8"/><circle cx="175.54" cy="316.73" r="0.8"/><circle cx="175.21" cy="275.78" r="0.8"/><circle cx="171.02" cy="317.98" r="0.8"/><circle cx="175.95" cy="280" r="0.8"/><circle cx="176.27" cy="310.86" r="0.8"/><circle cx="175.33" cy="272.88" r="0.8"/><circle cx="173.4" cy="261.63" r="0.8"/><circle cx="172.92" cy="260.65" r="0.8"/><circle cx="172.8" cy="269.84" r="0.8"/><circle cx="172.7" cy="276.57" r="0.8"/><circle cx="172.87" cy="277.62" r="0.8"/><circle cx="173.23" cy="261.1" r="0.8"/><circle cx="173.22" cy="261.7" r="0.8"/><circle cx="173.28" cy="277.62" r="0.8"/><circle cx="172.5" cy="270.11" r="0.8"/><circle cx="172.59" cy="322.23" r="0.8"/><circle cx="172.63" cy="325.73" r="0.8"/><circle cx="172.94" cy="323.92" r="0.8"/><circle cx="173.38" cy="318.59" r="0.8"/><circle cx="172.69" cy="313.05" r="0.8"/><circle cx="172.91" cy="333.47" r="0.8"/><circle cx="173.67" cy="330.86" r="0.8"/><circle cx="172.66" cy="321.36" r="0.8"/><circle cx="173.68" cy="311.22" r="0.8"/><circle cx="173.15" cy="259.5" r="0.8"/><circle cx="173.15" cy="335" r="0.8"/></g><rect x="164.35" y="282.5" width="17.6" height="26.25" fill="#7db9a2"/><path d="M164.35 281.9V309.35M181.95 281.9V309.35" stroke="#2a2a2a" stroke-width="0.9"/><path d="M163.9 282.5H182.4M163.9 308.75H182.4" stroke="#2a2a2a" stroke-width="1.2"/><rect x="165.6" y="283.85" width="15.1" height="23.55" fill="none" stroke="#fff" stroke-opacity="0.28" stroke-width="0.8"/><path d="M165.15 292.75H181.15M165.15 296.25H181.15" stroke="#fff" stroke-opacity="0.3" stroke-width="0.8"/><path d="M164.35 294.5H181.95" stroke="#000" stroke-opacity="0.66" stroke-width="1.8"/><path d="M197.3 259.25V315" stroke="#3a3d42" stroke-width="0.9"/><g fill="#8478cc" fill-opacity="0.9"><circle cx="197.5" cy="273.35" r="0.8"/><circle cx="195.35" cy="273.93" r="0.8"/><circle cx="196.57" cy="300.78" r="0.8"/><circle cx="195.44" cy="275.17" r="0.8"/><circle cx="200.01" cy="277.71" r="0.8"/><circle cx="196.52" cy="311.29" r="0.8"/><circle cx="198.94" cy="300.39" r="0.8"/><circle cx="196.28" cy="305.26" r="0.8"/><circle cx="195.49" cy="295.11" r="0.8"/><circle cx="197.42" cy="275.36" r="0.8"/><circle cx="196.63" cy="262.87" r="0.8"/><circle cx="198" cy="296.01" r="0.8"/><circle cx="195.76" cy="305.86" r="0.8"/><circle cx="199.55" cy="271.02" r="0.8"/><circle cx="198.16" cy="270.56" r="0.8"/><circle cx="199.38" cy="297.6" r="0.8"/><circle cx="196.52" cy="261.9" r="0.8"/><circle cx="196.72" cy="298.85" r="0.8"/><circle cx="199" cy="277.65" r="0.8"/><circle cx="196.1" cy="295.09" r="0.8"/><circle cx="196.88" cy="262.09" r="0.8"/><circle cx="197.06" cy="263.7" r="0.8"/><circle cx="198" cy="279.01" r="0.8"/><circle cx="197.27" cy="275.28" r="0.8"/><circle cx="197.69" cy="269.32" r="0.8"/><circle cx="197.65" cy="277.64" r="0.8"/><circle cx="196.88" cy="272.14" r="0.8"/><circle cx="197.78" cy="307.22" r="0.8"/><circle cx="196.73" cy="310.57" r="0.8"/><circle cx="197.09" cy="309.14" r="0.8"/><circle cx="197.95" cy="297.62" r="0.8"/><circle cx="197.64" cy="308.21" r="0.8"/><circle cx="197.76" cy="297.05" r="0.8"/><circle cx="197.87" cy="313.7" r="0.8"/><circle cx="197.3" cy="259.25" r="0.8"/><circle cx="197.3" cy="315" r="0.8"/><circle cx="197.54" cy="249.25" r="0.8"/></g><rect x="188.5" y="279.5" width="17.6" height="14.75" fill="#c5c1e5"/><path d="M188.5 278.9V294.85M206.1 278.9V294.85" stroke="#2a2a2a" stroke-width="0.9"/><path d="M188.05 279.5H206.55M188.05 294.25H206.55" stroke="#2a2a2a" stroke-width="1.2"/><rect x="189.75" y="280.85" width="15.1" height="12.05" fill="none" stroke="#fff" stroke-opacity="0.28" stroke-width="0.8"/><path d="M189.3 285.25H205.3M189.3 288.75H205.3" stroke="#fff" stroke-opacity="0.3" stroke-width="0.8"/><path d="M188.5 287H206.1" stroke="#000" stroke-opacity="0.66" stroke-width="1.8"/><path d="M221.45 270V310" stroke="#3a3d42" stroke-width="0.9"/><g fill="#2f3f5c" fill-opacity="0.9"><circle cx="221.7" cy="305" r="0.8"/><circle cx="222.16" cy="272.93" r="0.8"/><circle cx="225.07" cy="296.05" r="0.8"/><circle cx="220.76" cy="308.56" r="0.8"/><circle cx="220.7" cy="304.66" r="0.8"/><circle cx="218.96" cy="295.34" r="0.8"/><circle cx="221.39" cy="279.59" r="0.8"/><circle cx="222.35" cy="302.42" r="0.8"/><circle cx="222.35" cy="273.56" r="0.8"/><circle cx="222.04" cy="308.45" r="0.8"/><circle cx="222.8" cy="280.33" r="0.8"/><circle cx="222.17" cy="296.55" r="0.8"/><circle cx="220" cy="304.79" r="0.8"/><circle cx="217.95" cy="280.49" r="0.8"/><circle cx="222.18" cy="297.64" r="0.8"/><circle cx="219.28" cy="278.86" r="0.8"/><circle cx="221.72" cy="272.62" r="0.8"/><circle cx="219.42" cy="280.33" r="0.8"/><circle cx="222.54" cy="297.99" r="0.8"/><circle cx="223.05" cy="294.44" r="0.8"/><circle cx="220.65" cy="272.96" r="0.8"/><circle cx="221.2" cy="270.74" r="0.8"/><circle cx="221.65" cy="271.89" r="0.8"/><circle cx="221.45" cy="297.29" r="0.8"/><circle cx="221.46" cy="280.04" r="0.8"/><circle cx="221.02" cy="280.38" r="0.8"/><circle cx="220.98" cy="278.72" r="0.8"/><circle cx="220.75" cy="275.54" r="0.8"/><circle cx="222.07" cy="296.81" r="0.8"/><circle cx="221.88" cy="301.27" r="0.8"/><circle cx="221.24" cy="298.01" r="0.8"/><circle cx="221.52" cy="295.61" r="0.8"/><circle cx="221.47" cy="307.8" r="0.8"/><circle cx="222.05" cy="300.03" r="0.8"/><circle cx="221.45" cy="270" r="0.8"/><circle cx="221.45" cy="310" r="0.8"/><circle cx="221.84" cy="317" r="0.8"/></g><rect x="212.65" y="280.5" width="17.6" height="13.5" fill="#a2a5ab"/><path d="M212.65 279.9V294.6M230.25 279.9V294.6" stroke="#2a2a2a" stroke-width="0.9"/><path d="M212.2 280.5H230.7M212.2 294H230.7" stroke="#2a2a2a" stroke-width="1.2"/><rect x="213.9" y="281.85" width="15.1" height="10.8" fill="none" stroke="#fff" stroke-opacity="0.28" stroke-width="0.8"/><path d="M213.45 284.5H229.45M213.45 288H229.45" stroke="#fff" stroke-opacity="0.3" stroke-width="0.8"/><path d="M212.65 286.25H230.25" stroke="#000" stroke-opacity="0.66" stroke-width="1.8"/><path d="M245.6 257V317.5" stroke="#3a3d42" stroke-width="0.9"/><g fill="#22a3e6" fill-opacity="0.9"><circle cx="246.46" cy="293.31" r="0.8"/><circle cx="245.41" cy="258.36" r="0.8"/><circle cx="245.13" cy="304.23" r="0.8"/><circle cx="246.98" cy="305.61" r="0.8"/><circle cx="248.34" cy="272.8" r="0.8"/><circle cx="245.94" cy="262.09" r="0.8"/><circle cx="246.91" cy="299.25" r="0.8"/><circle cx="246.33" cy="307.31" r="0.8"/><circle cx="243.44" cy="273.4" r="0.8"/><circle cx="245.1" cy="313.15" r="0.8"/><circle cx="243.67" cy="302.61" r="0.8"/><circle cx="245.99" cy="264.52" r="0.8"/><circle cx="245.06" cy="264.11" r="0.8"/><circle cx="248.18" cy="298.62" r="0.8"/><circle cx="245.98" cy="309.94" r="0.8"/><circle cx="245.89" cy="258.19" r="0.8"/><circle cx="245.29" cy="270.3" r="0.8"/><circle cx="245.71" cy="260.12" r="0.8"/><circle cx="246.01" cy="272.9" r="0.8"/><circle cx="245.1" cy="263.68" r="0.8"/><circle cx="246.13" cy="266.93" r="0.8"/><circle cx="245.93" cy="260.12" r="0.8"/><circle cx="245.34" cy="260.29" r="0.8"/><circle cx="245.32" cy="294.31" r="0.8"/><circle cx="246.25" cy="302.38" r="0.8"/><circle cx="245.16" cy="316.57" r="0.8"/><circle cx="246.22" cy="300.58" r="0.8"/><circle cx="245.35" cy="297.84" r="0.8"/><circle cx="245.05" cy="303.74" r="0.8"/><circle cx="245.45" cy="299.38" r="0.8"/><circle cx="246.25" cy="302.45" r="0.8"/><circle cx="245.19" cy="299.54" r="0.8"/><circle cx="245.6" cy="257" r="0.8"/><circle cx="245.6" cy="317.5" r="0.8"/></g><rect x="236.8" y="276.25" width="17.6" height="16.75" fill="#97d5f0"/><path d="M236.8 275.65V293.6M254.4 275.65V293.6" stroke="#2a2a2a" stroke-width="0.9"/><path d="M236.35 276.25H254.85M236.35 293H254.85" stroke="#2a2a2a" stroke-width="1.2"/><rect x="238.05" y="277.6" width="15.1" height="14.05" fill="none" stroke="#fff" stroke-opacity="0.28" stroke-width="0.8"/><path d="M237.6 282H253.6M237.6 285.5H253.6" stroke="#fff" stroke-opacity="0.3" stroke-width="0.8"/><path d="M236.8 283.75H254.4" stroke="#000" stroke-opacity="0.66" stroke-width="1.8"/><text x="42" y="340.3" font-size="8.4" font-weight="bold" text-anchor="start" fill="#000" stroke="#000" stroke-width="0.2" textLength="18.7" lengthAdjust="spacingAndGlyphs">CD81</text></g><g><path d="M292.15 212V349.9" fill="none" stroke="#3d3d3d" stroke-width="1.3"/><path d="M291.5 349.1H512" fill="none" stroke="#444" stroke-width="1.6"/><path d="M289.15 247H292.15" stroke="#3a3a3a" stroke-width="1"/><text class="t" x="286.25" y="249.4" font-size="7.4" text-anchor="end" fill="#0a0a0a">10000</text><path d="M289.15 285H292.15" stroke="#3a3a3a" stroke-width="1"/><text class="t" x="286.25" y="287.4" font-size="7.4" text-anchor="end" fill="#0a0a0a">1000</text><path d="M289.15 323.25H292.15" stroke="#3a3a3a" stroke-width="1"/><text class="t" x="286.25" y="325.65" font-size="7.4" text-anchor="end" fill="#0a0a0a">100</text><path d="M306.4 349.1V352.1" stroke="#3a3a3a" stroke-width="1"/><path d="M330.55 349.1V352.1" stroke="#3a3a3a" stroke-width="1"/><path d="M354.7 349.1V352.1" stroke="#3a3a3a" stroke-width="1"/><path d="M378.85 349.1V352.1" stroke="#3a3a3a" stroke-width="1"/><path d="M403 349.1V352.1" stroke="#3a3a3a" stroke-width="1"/><path d="M427.15 349.1V352.1" stroke="#3a3a3a" stroke-width="1"/><path d="M451.3 349.1V352.1" stroke="#3a3a3a" stroke-width="1"/><path d="M475.45 349.1V352.1" stroke="#3a3a3a" stroke-width="1"/><path d="M499.6 349.1V352.1" stroke="#3a3a3a" stroke-width="1"/><text class="t" x="309.4" y="357.5" font-size="7.6" text-anchor="end" fill="#0a0a0a" transform="rotate(-45 309.4 357.5)">BL</text><text class="t" x="333.55" y="357.5" font-size="7.6" text-anchor="end" fill="#0a0a0a" transform="rotate(-45 333.55 357.5)">CD10<tspan font-size="5.6" dy="-2.9">−</tspan><tspan dy="2.9"> DLBCL</tspan></text><text class="t" x="357.7" y="357.5" font-size="7.6" text-anchor="end" fill="#0a0a0a" transform="rotate(-45 357.7 357.5)">CD10<tspan font-size="5.6" dy="-2.9">+</tspan><tspan dy="2.9"> DLBCL</tspan></text><text class="t" x="381.85" y="357.5" font-size="7.6" text-anchor="end" fill="#0a0a0a" transform="rotate(-45 381.85 357.5)">CLL</text><text class="t" x="406" y="357.5" font-size="7.6" text-anchor="end" fill="#0a0a0a" transform="rotate(-45 406 357.5)">FL</text><text class="t" x="430.15" y="357.5" font-size="7.6" text-anchor="end" fill="#0a0a0a" transform="rotate(-45 430.15 357.5)">HCL</text><text class="t" x="454.3" y="357.5" font-size="7.6" text-anchor="end" fill="#0a0a0a" transform="rotate(-45 454.3 357.5)">LPL</text><text class="t" x="478.45" y="357.5" font-size="7.6" text-anchor="end" fill="#0a0a0a" transform="rotate(-45 478.45 357.5)">MCL</text><text class="t" x="502.6" y="357.5" font-size="7.6" text-anchor="end" fill="#0a0a0a" transform="rotate(-45 502.6 357.5)">MZL</text><text class="t" x="306.4" y="213.8" font-size="7.4" text-anchor="middle" fill="#0a0a0a">201</text><text class="t" x="330.2" y="213.8" font-size="7.4" text-anchor="middle" fill="#0a0a0a">885</text><rect x="326.7" y="217.25" width="1.5" height="1.5" fill="#2e2e2e"/><rect x="329.45" y="217.25" width="1.5" height="1.5" fill="#2e2e2e"/><rect x="332.2" y="217.25" width="1.5" height="1.5" fill="#2e2e2e"/><text class="t" x="355.9" y="213.8" font-size="7.4" text-anchor="middle" fill="#0a0a0a">1845</text><rect x="352.4" y="217.25" width="1.5" height="1.5" fill="#2e2e2e"/><rect x="355.15" y="217.25" width="1.5" height="1.5" fill="#2e2e2e"/><rect x="357.9" y="217.25" width="1.5" height="1.5" fill="#2e2e2e"/><text class="t" x="381.9" y="213.8" font-size="7.4" text-anchor="middle" fill="#0a0a0a">122</text><text class="t" x="405.2" y="213.8" font-size="7.4" text-anchor="middle" fill="#0a0a0a">526</text><rect x="401.7" y="217.25" width="1.5" height="1.5" fill="#2e2e2e"/><rect x="404.45" y="217.25" width="1.5" height="1.5" fill="#2e2e2e"/><rect x="407.2" y="217.25" width="1.5" height="1.5" fill="#2e2e2e"/><text class="t" x="428.9" y="213.8" font-size="7.4" text-anchor="middle" fill="#0a0a0a">656</text><rect x="425.4" y="217.25" width="1.5" height="1.5" fill="#2e2e2e"/><rect x="428.15" y="217.25" width="1.5" height="1.5" fill="#2e2e2e"/><rect x="430.9" y="217.25" width="1.5" height="1.5" fill="#2e2e2e"/><text class="t" x="452.7" y="213.8" font-size="7.4" text-anchor="middle" fill="#0a0a0a">293</text><rect x="449.2" y="217.25" width="1.5" height="1.5" fill="#2e2e2e"/><rect x="451.95" y="217.25" width="1.5" height="1.5" fill="#2e2e2e"/><rect x="454.7" y="217.25" width="1.5" height="1.5" fill="#2e2e2e"/><text class="t" x="476.3" y="213.8" font-size="7.4" text-anchor="middle" fill="#0a0a0a">118</text><path d="M474.3 221.7L477.5 221.7L478.4 216.8L475.3 216.8Z" fill="#555" fill-opacity="0.55"/><text x="476.4" y="222.1" font-size="7.2" font-weight="bold" font-style="italic" text-anchor="middle" fill="#3c3c3c" stroke="#3c3c3c" stroke-width="0.12">#</text><text class="t" x="499.5" y="213.8" font-size="7.4" text-anchor="middle" fill="#0a0a0a">412</text><rect x="496" y="217.25" width="1.5" height="1.5" fill="#2e2e2e"/><rect x="498.75" y="217.25" width="1.5" height="1.5" fill="#2e2e2e"/><rect x="501.5" y="217.25" width="1.5" height="1.5" fill="#2e2e2e"/><path d="M306.4 292.5V326.25" stroke="#3a3d42" stroke-width="0.9"/><g fill="#e0103c" fill-opacity="0.9"><circle cx="307.9" cy="318.45" r="0.8"/><circle cx="306.01" cy="322.61" r="0.8"/><circle cx="306.33" cy="297.21" r="0.8"/><circle cx="307.15" cy="321.07" r="0.8"/><circle cx="308.46" cy="302.77" r="0.8"/><circle cx="307.09" cy="317.02" r="0.8"/><circle cx="305.42" cy="296.96" r="0.8"/><circle cx="305.86" cy="319.75" r="0.8"/><circle cx="305.02" cy="316.85" r="0.8"/><circle cx="307.37" cy="300.5" r="0.8"/><circle cx="307.84" cy="318.08" r="0.8"/><circle cx="307.15" cy="303.32" r="0.8"/><circle cx="306.59" cy="304.59" r="0.8"/><circle cx="306.78" cy="301.15" r="0.8"/><circle cx="307.02" cy="297.43" r="0.8"/><circle cx="306.18" cy="323.55" r="0.8"/><circle cx="306.83" cy="319.87" r="0.8"/><circle cx="305.96" cy="319.42" r="0.8"/><circle cx="306.4" cy="292.5" r="0.8"/><circle cx="306.4" cy="326.25" r="0.8"/><circle cx="306.77" cy="259.25" r="0.8"/><circle cx="306.43" cy="286.25" r="0.8"/></g><rect x="297.6" y="305" width="17.6" height="10.75" fill="#e68a9b"/><path d="M297.6 304.4V316.35M315.2 304.4V316.35" stroke="#2a2a2a" stroke-width="0.9"/><path d="M297.15 305H315.65M297.15 315.75H315.65" stroke="#2a2a2a" stroke-width="1.2"/><rect x="298.85" y="306.35" width="15.1" height="8.05" fill="none" stroke="#fff" stroke-opacity="0.28" stroke-width="0.8"/><path d="M298.4 310.75H314.4M298.4 314.25H314.4" stroke="#fff" stroke-opacity="0.3" stroke-width="0.8"/><path d="M297.6 312.5H315.2" stroke="#000" stroke-opacity="0.66" stroke-width="1.8"/><path d="M330.55 231.75V330.5" stroke="#3a3d42" stroke-width="0.9"/><g fill="#1f62a5" fill-opacity="0.9"><circle cx="332.14" cy="317.64" r="0.8"/><circle cx="327.63" cy="254.25" r="0.8"/><circle cx="332.49" cy="250.21" r="0.8"/><circle cx="330.08" cy="314.73" r="0.8"/><circle cx="333" cy="307.38" r="0.8"/><circle cx="329.83" cy="323.77" r="0.8"/><circle cx="330.55" cy="320.59" r="0.8"/><circle cx="330.94" cy="326.19" r="0.8"/><circle cx="332.13" cy="316.96" r="0.8"/><circle cx="331.28" cy="243.77" r="0.8"/><circle cx="327.47" cy="307.4" r="0.8"/><circle cx="330.04" cy="323.22" r="0.8"/><circle cx="327.56" cy="256.4" r="0.8"/><circle cx="331.03" cy="329.4" r="0.8"/><circle cx="328.99" cy="243.93" r="0.8"/><circle cx="327.17" cy="308.35" r="0.8"/><circle cx="328.81" cy="305.41" r="0.8"/><circle cx="330.88" cy="251.73" r="0.8"/><circle cx="329.91" cy="253.35" r="0.8"/><circle cx="330" cy="253.88" r="0.8"/><circle cx="330.73" cy="237.75" r="0.8"/><circle cx="330.31" cy="240.85" r="0.8"/><circle cx="330.16" cy="246.96" r="0.8"/><circle cx="330.14" cy="252.98" r="0.8"/><circle cx="330.98" cy="254.2" r="0.8"/><circle cx="329.89" cy="246.12" r="0.8"/><circle cx="329.89" cy="252.56" r="0.8"/><circle cx="330.44" cy="317.62" r="0.8"/><circle cx="330.73" cy="306.14" r="0.8"/><circle cx="330.67" cy="323.34" r="0.8"/><circle cx="330.57" cy="314.9" r="0.8"/><circle cx="330.17" cy="319.81" r="0.8"/><circle cx="331.24" cy="327.06" r="0.8"/><circle cx="331.2" cy="325.41" r="0.8"/><circle cx="331.23" cy="313.07" r="0.8"/><circle cx="330.52" cy="306.36" r="0.8"/><circle cx="330.55" cy="231.75" r="0.8"/><circle cx="330.55" cy="330.5" r="0.8"/></g><rect x="321.75" y="258.5" width="17.6" height="46" fill="#7ba3c6"/><path d="M321.75 257.9V305.1M339.35 257.9V305.1" stroke="#2a2a2a" stroke-width="0.9"/><path d="M321.3 258.5H339.8M321.3 304.5H339.8" stroke="#2a2a2a" stroke-width="1.2"/><rect x="323" y="259.85" width="15.1" height="43.3" fill="none" stroke="#fff" stroke-opacity="0.28" stroke-width="0.8"/><path d="M322.55 285.75H338.55M322.55 289.25H338.55" stroke="#fff" stroke-opacity="0.3" stroke-width="0.8"/><path d="M321.75 287.5H339.35" stroke="#000" stroke-opacity="0.66" stroke-width="1.8"/><path d="M354.7 235V326.25" stroke="#3a3d42" stroke-width="0.9"/><g fill="#34c234" fill-opacity="0.9"><circle cx="355.78" cy="256.24" r="0.8"/><circle cx="353.77" cy="304.11" r="0.8"/><circle cx="353.33" cy="257.62" r="0.8"/><circle cx="354.75" cy="246.68" r="0.8"/><circle cx="356.23" cy="261.92" r="0.8"/><circle cx="355.13" cy="260.73" r="0.8"/><circle cx="355.1" cy="324.89" r="0.8"/><circle cx="355.06" cy="322.28" r="0.8"/><circle cx="352.37" cy="296.52" r="0.8"/><circle cx="355.09" cy="241.35" r="0.8"/><circle cx="353.66" cy="299.36" r="0.8"/><circle cx="356.83" cy="250.56" r="0.8"/><circle cx="352.11" cy="263.61" r="0.8"/><circle cx="355.19" cy="239.76" r="0.8"/><circle cx="351.62" cy="263.16" r="0.8"/><circle cx="354.62" cy="245.01" r="0.8"/><circle cx="355.28" cy="263.48" r="0.8"/><circle cx="354.67" cy="257.85" r="0.8"/><circle cx="354.18" cy="258.63" r="0.8"/><circle cx="354.79" cy="238.13" r="0.8"/><circle cx="354.29" cy="249.6" r="0.8"/><circle cx="354.03" cy="242.24" r="0.8"/><circle cx="354.99" cy="261.13" r="0.8"/><circle cx="355.37" cy="262.18" r="0.8"/><circle cx="355.03" cy="247.56" r="0.8"/><circle cx="355.14" cy="307.77" r="0.8"/><circle cx="354.19" cy="321.49" r="0.8"/><circle cx="354.3" cy="296.64" r="0.8"/><circle cx="354.53" cy="313.81" r="0.8"/><circle cx="355.16" cy="296.52" r="0.8"/><circle cx="354.65" cy="319.83" r="0.8"/><circle cx="355.24" cy="297.55" r="0.8"/><circle cx="354.1" cy="312.28" r="0.8"/><circle cx="354.87" cy="305.95" r="0.8"/><circle cx="354.68" cy="322.81" r="0.8"/><circle cx="354.7" cy="235" r="0.8"/><circle cx="354.7" cy="326.25" r="0.8"/></g><rect x="345.9" y="263.75" width="17.6" height="32.5" fill="#a2dca2"/><path d="M345.9 263.15V296.85M363.5 263.15V296.85" stroke="#2a2a2a" stroke-width="0.9"/><path d="M345.45 263.75H363.95M345.45 296.25H363.95" stroke="#2a2a2a" stroke-width="1.2"/><rect x="347.15" y="265.1" width="15.1" height="29.8" fill="none" stroke="#fff" stroke-opacity="0.28" stroke-width="0.8"/><path d="M346.7 273.25H362.7M346.7 276.75H362.7" stroke="#fff" stroke-opacity="0.3" stroke-width="0.8"/><path d="M345.9 275H363.5" stroke="#000" stroke-opacity="0.66" stroke-width="1.8"/><path d="M378.85 298.75V337" stroke="#3a3d42" stroke-width="0.9"/><g fill="#6a2a8c" fill-opacity="0.9"><circle cx="380.8" cy="303.09" r="0.8"/><circle cx="375.26" cy="313.59" r="0.8"/><circle cx="377.21" cy="301.56" r="0.8"/><circle cx="380.13" cy="301.89" r="0.8"/><circle cx="374.65" cy="306.85" r="0.8"/><circle cx="380.05" cy="309.55" r="0.8"/><circle cx="381.75" cy="306.59" r="0.8"/><circle cx="372.8" cy="310.87" r="0.8"/><circle cx="372.6" cy="307.06" r="0.8"/><circle cx="377.45" cy="310.09" r="0.8"/><circle cx="381.84" cy="303.6" r="0.8"/><circle cx="380.94" cy="310.38" r="0.8"/><circle cx="378.45" cy="302.13" r="0.8"/><circle cx="384.58" cy="308.99" r="0.8"/><circle cx="372.73" cy="303.58" r="0.8"/><circle cx="385.67" cy="303.43" r="0.8"/><circle cx="377.34" cy="311.82" r="0.8"/><circle cx="383.38" cy="309.51" r="0.8"/><circle cx="382.23" cy="300.57" r="0.8"/><circle cx="373.16" cy="314.64" r="0.8"/><circle cx="383.09" cy="300.57" r="0.8"/><circle cx="372.53" cy="303.61" r="0.8"/><circle cx="384.88" cy="303.29" r="0.8"/><circle cx="381.26" cy="313.96" r="0.8"/><circle cx="380.79" cy="313.79" r="0.8"/><circle cx="375.53" cy="302.3" r="0.8"/><circle cx="372.11" cy="311.36" r="0.8"/><circle cx="373.3" cy="314.6" r="0.8"/><circle cx="381.79" cy="302.8" r="0.8"/><circle cx="383.15" cy="302.44" r="0.8"/><circle cx="379.02" cy="301.59" r="0.8"/><circle cx="382.87" cy="313.34" r="0.8"/><circle cx="384.68" cy="300.03" r="0.8"/><circle cx="383.77" cy="308.34" r="0.8"/><circle cx="383.35" cy="307.54" r="0.8"/><circle cx="380.53" cy="308.92" r="0.8"/><circle cx="383.04" cy="301.16" r="0.8"/><circle cx="372.61" cy="308.18" r="0.8"/><circle cx="375.92" cy="305.95" r="0.8"/><circle cx="371.96" cy="311.17" r="0.8"/><circle cx="371.24" cy="334.21" r="0.8"/><circle cx="383.83" cy="330.31" r="0.8"/><circle cx="372.8" cy="332.33" r="0.8"/><circle cx="374.16" cy="330.01" r="0.8"/><circle cx="372.62" cy="335.75" r="0.8"/><circle cx="379.59" cy="329.2" r="0.8"/><circle cx="372.35" cy="333.17" r="0.8"/><circle cx="384.45" cy="334.41" r="0.8"/><circle cx="372.47" cy="329.36" r="0.8"/><circle cx="375.69" cy="333.51" r="0.8"/><circle cx="373.22" cy="331.87" r="0.8"/><circle cx="386.51" cy="333.57" r="0.8"/><circle cx="370.96" cy="326.29" r="0.8"/><circle cx="372.67" cy="332.77" r="0.8"/><circle cx="380.43" cy="330.96" r="0.8"/><circle cx="378.14" cy="329.78" r="0.8"/><circle cx="380.63" cy="332.31" r="0.8"/><circle cx="385.51" cy="333.19" r="0.8"/><circle cx="383.59" cy="335.09" r="0.8"/><circle cx="384.25" cy="333.03" r="0.8"/><circle cx="371.34" cy="332.65" r="0.8"/><circle cx="384.45" cy="330.02" r="0.8"/><circle cx="384.9" cy="327.39" r="0.8"/><circle cx="385.93" cy="330.14" r="0.8"/><circle cx="382.15" cy="328.15" r="0.8"/><circle cx="375.66" cy="329.16" r="0.8"/><circle cx="376.04" cy="326.49" r="0.8"/><circle cx="377.94" cy="335.8" r="0.8"/><circle cx="381.31" cy="335.29" r="0.8"/><circle cx="383.05" cy="334.29" r="0.8"/><circle cx="386.76" cy="333.4" r="0.8"/><circle cx="375.24" cy="328.12" r="0.8"/><circle cx="377.45" cy="325.72" r="0.8"/><circle cx="374.54" cy="334.81" r="0.8"/><circle cx="385.58" cy="328.95" r="0.8"/><circle cx="383.18" cy="333.64" r="0.8"/><circle cx="385.09" cy="333.84" r="0.8"/><circle cx="379.36" cy="326.6" r="0.8"/><circle cx="384.06" cy="328.79" r="0.8"/><circle cx="380.88" cy="329.35" r="0.8"/><circle cx="368.66" cy="318.97" r="0.8"/><circle cx="389.61" cy="318.53" r="0.8"/><circle cx="368.82" cy="318.54" r="0.8"/><circle cx="388.44" cy="318.41" r="0.8"/><circle cx="369.22" cy="318.69" r="0.8"/><circle cx="388.4" cy="318.09" r="0.8"/><circle cx="377.7" cy="338.3" r="0.8"/><circle cx="380.48" cy="336.11" r="0.8"/><circle cx="377.89" cy="341.73" r="0.8"/><circle cx="380.81" cy="337.41" r="0.8"/><circle cx="378.6" cy="341.5" r="0.8"/><circle cx="379.61" cy="341.97" r="0.8"/><circle cx="379.1" cy="290.75" r="0.8"/><circle cx="378.61" cy="290.08" r="0.8"/><circle cx="382.29" cy="312.84" r="0.8"/><circle cx="374.52" cy="315.86" r="0.8"/><circle cx="381.43" cy="314.36" r="0.8"/><circle cx="381.66" cy="314.39" r="0.8"/><circle cx="382.36" cy="313.22" r="0.8"/><circle cx="371" cy="312.27" r="0.8"/><circle cx="370.11" cy="313.45" r="0.8"/><circle cx="372.41" cy="312.45" r="0.8"/><circle cx="379.51" cy="306.77" r="0.8"/><circle cx="378.53" cy="309.92" r="0.8"/><circle cx="378.4" cy="311.25" r="0.8"/><circle cx="378.57" cy="300.38" r="0.8"/><circle cx="379.12" cy="305.4" r="0.8"/><circle cx="379.17" cy="330.62" r="0.8"/><circle cx="379.46" cy="326.59" r="0.8"/><circle cx="379.32" cy="329.44" r="0.8"/><circle cx="378.85" cy="298.75" r="0.8"/><circle cx="378.85" cy="337" r="0.8"/><circle cx="378.38" cy="276.25" r="0.8"/><circle cx="379.18" cy="344" r="0.8"/></g><rect x="370.05" y="315" width="17.6" height="10.5" fill="#b293c4"/><path d="M370.05 314.4V326.1M387.65 314.4V326.1" stroke="#2a2a2a" stroke-width="0.9"/><path d="M369.6 315H388.1M369.6 325.5H388.1" stroke="#2a2a2a" stroke-width="1.2"/><rect x="371.3" y="316.35" width="15.1" height="7.8" fill="none" stroke="#fff" stroke-opacity="0.28" stroke-width="0.8"/><path d="M370.85 318.25H386.85M370.85 321.75H386.85" stroke="#fff" stroke-opacity="0.3" stroke-width="0.8"/><path d="M370.05 320H387.65" stroke="#000" stroke-opacity="0.66" stroke-width="1.8"/><path d="M403 253.25V333.5" stroke="#3a3d42" stroke-width="0.9"/><g fill="#ff9a1c" fill-opacity="0.9"><circle cx="403.99" cy="260.5" r="0.8"/><circle cx="396.91" cy="311.77" r="0.8"/><circle cx="402.04" cy="258.09" r="0.8"/><circle cx="404.34" cy="318.9" r="0.8"/><circle cx="397.57" cy="283.1" r="0.8"/><circle cx="404.71" cy="313.79" r="0.8"/><circle cx="397.38" cy="310.91" r="0.8"/><circle cx="401.77" cy="260.61" r="0.8"/><circle cx="405.56" cy="313.39" r="0.8"/><circle cx="401.84" cy="263.58" r="0.8"/><circle cx="399.37" cy="273.95" r="0.8"/><circle cx="402.03" cy="263.22" r="0.8"/><circle cx="401.59" cy="264.6" r="0.8"/><circle cx="401.5" cy="281.9" r="0.8"/><circle cx="402.79" cy="269.68" r="0.8"/><circle cx="405.28" cy="309.15" r="0.8"/><circle cx="396.97" cy="311.09" r="0.8"/><circle cx="402.45" cy="283.46" r="0.8"/><circle cx="397.74" cy="309.44" r="0.8"/><circle cx="399.42" cy="282.67" r="0.8"/><circle cx="397.11" cy="283.43" r="0.8"/><circle cx="407.42" cy="275.69" r="0.8"/><circle cx="399.16" cy="309.28" r="0.8"/><circle cx="406.23" cy="318.22" r="0.8"/><circle cx="401.75" cy="327.88" r="0.8"/><circle cx="400.57" cy="317.19" r="0.8"/><circle cx="402.12" cy="260.04" r="0.8"/><circle cx="408.32" cy="281" r="0.8"/><circle cx="400.54" cy="266.04" r="0.8"/><circle cx="399.46" cy="279.83" r="0.8"/><circle cx="398.62" cy="313.34" r="0.8"/><circle cx="399.81" cy="316.07" r="0.8"/><circle cx="403.11" cy="269.23" r="0.8"/><circle cx="405.43" cy="275.65" r="0.8"/><circle cx="402.99" cy="311.08" r="0.8"/><circle cx="400.43" cy="320.81" r="0.8"/><circle cx="403.67" cy="331.28" r="0.8"/><circle cx="407.61" cy="313.47" r="0.8"/><circle cx="404.26" cy="281.76" r="0.8"/><circle cx="399.09" cy="309.35" r="0.8"/><circle cx="399.21" cy="276.6" r="0.8"/><circle cx="403.45" cy="265.29" r="0.8"/><circle cx="404.98" cy="314.2" r="0.8"/><circle cx="402.25" cy="255.92" r="0.8"/><circle cx="407.27" cy="274.33" r="0.8"/><circle cx="403.34" cy="253.68" r="0.8"/><circle cx="401.89" cy="261.48" r="0.8"/><circle cx="400.18" cy="315.46" r="0.8"/><circle cx="401.89" cy="312.56" r="0.8"/><circle cx="399.69" cy="268.61" r="0.8"/><circle cx="407.38" cy="282.84" r="0.8"/><circle cx="401.06" cy="270.96" r="0.8"/><circle cx="404.85" cy="272.62" r="0.8"/><circle cx="398.16" cy="281.5" r="0.8"/><circle cx="398.12" cy="309.96" r="0.8"/><circle cx="406.26" cy="318.75" r="0.8"/><circle cx="398.74" cy="281.62" r="0.8"/><circle cx="402.06" cy="315.36" r="0.8"/><circle cx="405.54" cy="321.14" r="0.8"/><circle cx="408.52" cy="311.63" r="0.8"/><circle cx="408.77" cy="284.05" r="0.8"/><circle cx="400.06" cy="284.22" r="0.8"/><circle cx="404.04" cy="254.97" r="0.8"/><circle cx="406.23" cy="273.74" r="0.8"/><circle cx="403.09" cy="320.88" r="0.8"/><circle cx="405.01" cy="281.44" r="0.8"/><circle cx="404.75" cy="325.8" r="0.8"/><circle cx="397.43" cy="310.49" r="0.8"/><circle cx="400.26" cy="318.43" r="0.8"/><circle cx="399.67" cy="311.41" r="0.8"/><circle cx="404.66" cy="273.92" r="0.8"/><circle cx="403.69" cy="265.61" r="0.8"/><circle cx="405.06" cy="268.47" r="0.8"/><circle cx="404.79" cy="275.49" r="0.8"/><circle cx="400.66" cy="320.7" r="0.8"/><circle cx="401.74" cy="325.26" r="0.8"/><circle cx="402.18" cy="255.44" r="0.8"/><circle cx="404.12" cy="255.25" r="0.8"/><circle cx="402.2" cy="265.87" r="0.8"/><circle cx="401.11" cy="324.6" r="0.8"/><circle cx="399.96" cy="281.98" r="0.8"/><circle cx="401.73" cy="283.21" r="0.8"/><circle cx="404.14" cy="283.85" r="0.8"/><circle cx="401.77" cy="318.62" r="0.8"/><circle cx="399.57" cy="315" r="0.8"/><circle cx="405.46" cy="284.22" r="0.8"/><circle cx="408.28" cy="278.54" r="0.8"/><circle cx="403.52" cy="327.05" r="0.8"/><circle cx="405.93" cy="322.52" r="0.8"/><circle cx="401.98" cy="264.54" r="0.8"/><circle cx="403.4" cy="262.05" r="0.8"/><circle cx="403.25" cy="328.53" r="0.8"/><circle cx="403.49" cy="284.23" r="0.8"/><circle cx="397.64" cy="311.69" r="0.8"/><circle cx="405.6" cy="282.68" r="0.8"/><circle cx="399.98" cy="281.7" r="0.8"/><circle cx="401.65" cy="332.97" r="0.8"/><circle cx="404.32" cy="256.62" r="0.8"/><circle cx="403.26" cy="279.41" r="0.8"/><circle cx="402.77" cy="277.23" r="0.8"/><circle cx="397.22" cy="284.03" r="0.8"/><circle cx="404.71" cy="283.72" r="0.8"/><circle cx="406.66" cy="311.53" r="0.8"/><circle cx="402.9" cy="312.95" r="0.8"/><circle cx="403.17" cy="256.9" r="0.8"/><circle cx="405.58" cy="282.96" r="0.8"/><circle cx="401.36" cy="266.64" r="0.8"/><circle cx="401.22" cy="325.84" r="0.8"/><circle cx="405.73" cy="310.47" r="0.8"/><circle cx="401.76" cy="325.46" r="0.8"/><circle cx="403.23" cy="256.14" r="0.8"/><circle cx="402.49" cy="270.77" r="0.8"/><circle cx="403.12" cy="259.22" r="0.8"/><circle cx="403.19" cy="256.59" r="0.8"/><circle cx="402.66" cy="260.72" r="0.8"/><circle cx="403.05" cy="266.38" r="0.8"/><circle cx="402.34" cy="275.71" r="0.8"/><circle cx="402.61" cy="275.71" r="0.8"/><circle cx="403.2" cy="262.26" r="0.8"/><circle cx="403.16" cy="274.68" r="0.8"/><circle cx="402.59" cy="281.21" r="0.8"/><circle cx="403.23" cy="262.9" r="0.8"/><circle cx="402.52" cy="315.39" r="0.8"/><circle cx="403.38" cy="314.54" r="0.8"/><circle cx="403.3" cy="329.26" r="0.8"/><circle cx="403.41" cy="332.49" r="0.8"/><circle cx="402.74" cy="316.59" r="0.8"/><circle cx="402.38" cy="326.67" r="0.8"/><circle cx="402.42" cy="323.93" r="0.8"/><circle cx="403.02" cy="310.2" r="0.8"/><circle cx="403.6" cy="312.71" r="0.8"/><circle cx="402.95" cy="330.49" r="0.8"/><circle cx="403" cy="253.25" r="0.8"/><circle cx="403" cy="333.5" r="0.8"/></g><rect x="394.2" y="284.25" width="17.6" height="24.75" fill="#fdc98c"/><path d="M394.2 283.65V309.6M411.8 283.65V309.6" stroke="#2a2a2a" stroke-width="0.9"/><path d="M393.75 284.25H412.25M393.75 309H412.25" stroke="#2a2a2a" stroke-width="1.2"/><rect x="395.45" y="285.6" width="15.1" height="22.05" fill="none" stroke="#fff" stroke-opacity="0.28" stroke-width="0.8"/><path d="M395 294.25H411M395 297.75H411" stroke="#fff" stroke-opacity="0.3" stroke-width="0.8"/><path d="M394.2 296H411.8" stroke="#000" stroke-opacity="0.66" stroke-width="1.8"/><path d="M427.15 264.5V313.75" stroke="#3a3d42" stroke-width="0.9"/><g fill="#0e7a58" fill-opacity="0.9"><circle cx="427.2" cy="284.93" r="0.8"/><circle cx="428.57" cy="302.45" r="0.8"/><circle cx="426.04" cy="308.92" r="0.8"/><circle cx="427.04" cy="281.32" r="0.8"/><circle cx="426.05" cy="274.91" r="0.8"/><circle cx="428.37" cy="279.54" r="0.8"/><circle cx="426.8" cy="302.56" r="0.8"/><circle cx="427.34" cy="312.24" r="0.8"/><circle cx="427.96" cy="279.98" r="0.8"/><circle cx="430.98" cy="285.42" r="0.8"/><circle cx="426.89" cy="300.42" r="0.8"/><circle cx="424.14" cy="301.78" r="0.8"/><circle cx="426.97" cy="308.83" r="0.8"/><circle cx="424.57" cy="281.19" r="0.8"/><circle cx="425.47" cy="300.09" r="0.8"/><circle cx="424.11" cy="300.46" r="0.8"/><circle cx="427.39" cy="284.53" r="0.8"/><circle cx="424.67" cy="300.67" r="0.8"/><circle cx="426.16" cy="303.22" r="0.8"/><circle cx="430.58" cy="283.61" r="0.8"/><circle cx="428.88" cy="283.38" r="0.8"/><circle cx="427.11" cy="311.59" r="0.8"/><circle cx="427.3" cy="284.58" r="0.8"/><circle cx="427.1" cy="270.56" r="0.8"/><circle cx="427.48" cy="279.54" r="0.8"/><circle cx="426.72" cy="267.22" r="0.8"/><circle cx="426.6" cy="284.62" r="0.8"/><circle cx="426.92" cy="281.58" r="0.8"/><circle cx="426.81" cy="269.71" r="0.8"/><circle cx="427.84" cy="274.35" r="0.8"/><circle cx="427.65" cy="302.04" r="0.8"/><circle cx="426.69" cy="304.42" r="0.8"/><circle cx="426.93" cy="310.24" r="0.8"/><circle cx="427.04" cy="302.58" r="0.8"/><circle cx="427.66" cy="311.3" r="0.8"/><circle cx="427.15" cy="264.5" r="0.8"/><circle cx="427.15" cy="313.75" r="0.8"/><circle cx="427.22" cy="322.5" r="0.8"/><circle cx="426.66" cy="325" r="0.8"/></g><rect x="418.35" y="285.5" width="17.6" height="14.5" fill="#7db9a2"/><path d="M418.35 284.9V300.6M435.95 284.9V300.6" stroke="#2a2a2a" stroke-width="0.9"/><path d="M417.9 285.5H436.4M417.9 300H436.4" stroke="#2a2a2a" stroke-width="1.2"/><rect x="419.6" y="286.85" width="15.1" height="11.8" fill="none" stroke="#fff" stroke-opacity="0.28" stroke-width="0.8"/><path d="M419.15 290.25H435.15M419.15 293.75H435.15" stroke="#fff" stroke-opacity="0.3" stroke-width="0.8"/><path d="M418.35 292H435.95" stroke="#000" stroke-opacity="0.66" stroke-width="1.8"/><path d="M451.3 276.75V330.75" stroke="#3a3d42" stroke-width="0.9"/><g fill="#8478cc" fill-opacity="0.9"><circle cx="453.13" cy="320.73" r="0.8"/><circle cx="453.67" cy="315.87" r="0.8"/><circle cx="450.34" cy="315.09" r="0.8"/><circle cx="450.49" cy="293.35" r="0.8"/><circle cx="454.31" cy="295.14" r="0.8"/><circle cx="452.96" cy="287.49" r="0.8"/><circle cx="454.35" cy="314.84" r="0.8"/><circle cx="451.66" cy="330.47" r="0.8"/><circle cx="450.71" cy="325.56" r="0.8"/><circle cx="453.49" cy="316.64" r="0.8"/><circle cx="450.45" cy="289.75" r="0.8"/><circle cx="453.6" cy="316.12" r="0.8"/><circle cx="450.72" cy="327.3" r="0.8"/><circle cx="451.86" cy="323.84" r="0.8"/><circle cx="454.24" cy="313.35" r="0.8"/><circle cx="450.35" cy="317.85" r="0.8"/><circle cx="452.31" cy="324.78" r="0.8"/><circle cx="449.62" cy="293.55" r="0.8"/><circle cx="448.08" cy="293.76" r="0.8"/><circle cx="448.14" cy="314.66" r="0.8"/><circle cx="451.64" cy="278.1" r="0.8"/><circle cx="451.25" cy="280.72" r="0.8"/><circle cx="451.72" cy="284.79" r="0.8"/><circle cx="451.03" cy="295.83" r="0.8"/><circle cx="451.85" cy="289.4" r="0.8"/><circle cx="451.86" cy="286.16" r="0.8"/><circle cx="451.04" cy="291.42" r="0.8"/><circle cx="451.4" cy="328.54" r="0.8"/><circle cx="451.42" cy="315.1" r="0.8"/><circle cx="451.33" cy="327.76" r="0.8"/><circle cx="451.18" cy="321.72" r="0.8"/><circle cx="451.53" cy="328.66" r="0.8"/><circle cx="451.11" cy="316.89" r="0.8"/><circle cx="451.3" cy="276.75" r="0.8"/><circle cx="451.3" cy="330.75" r="0.8"/></g><rect x="442.5" y="296.75" width="17.6" height="16.5" fill="#c5c1e5"/><path d="M442.5 296.15V313.85M460.1 296.15V313.85" stroke="#2a2a2a" stroke-width="0.9"/><path d="M442.05 296.75H460.55M442.05 313.25H460.55" stroke="#2a2a2a" stroke-width="1.2"/><rect x="443.75" y="298.1" width="15.1" height="13.8" fill="none" stroke="#fff" stroke-opacity="0.28" stroke-width="0.8"/><path d="M443.3 303.25H459.3M443.3 306.75H459.3" stroke="#fff" stroke-opacity="0.3" stroke-width="0.8"/><path d="M442.5 305H460.1" stroke="#000" stroke-opacity="0.66" stroke-width="1.8"/><path d="M475.45 298.25V342.5" stroke="#3a3d42" stroke-width="0.9"/><g fill="#2f3f5c" fill-opacity="0.9"><circle cx="475.8" cy="299.29" r="0.8"/><circle cx="474.61" cy="300.37" r="0.8"/><circle cx="476.94" cy="329.21" r="0.8"/><circle cx="475.66" cy="312.99" r="0.8"/><circle cx="475.02" cy="336.69" r="0.8"/><circle cx="476.52" cy="304.16" r="0.8"/><circle cx="476.34" cy="301.11" r="0.8"/><circle cx="476.97" cy="310.35" r="0.8"/><circle cx="473.78" cy="326.15" r="0.8"/><circle cx="474.29" cy="304.42" r="0.8"/><circle cx="476.5" cy="330.39" r="0.8"/><circle cx="476.35" cy="299.34" r="0.8"/><circle cx="474.53" cy="336.85" r="0.8"/><circle cx="476.94" cy="331.36" r="0.8"/><circle cx="478.59" cy="328.11" r="0.8"/><circle cx="475.47" cy="313.22" r="0.8"/><circle cx="476.27" cy="339.64" r="0.8"/><circle cx="475.56" cy="340.54" r="0.8"/><circle cx="476.93" cy="306.39" r="0.8"/><circle cx="474.2" cy="306.92" r="0.8"/><circle cx="475.54" cy="309.81" r="0.8"/><circle cx="471.08" cy="312.99" r="0.8"/><circle cx="476.42" cy="304.73" r="0.8"/><circle cx="475.59" cy="311.77" r="0.8"/><circle cx="475.59" cy="300.88" r="0.8"/><circle cx="475.03" cy="311.81" r="0.8"/><circle cx="475.76" cy="307.03" r="0.8"/><circle cx="475.75" cy="309.49" r="0.8"/><circle cx="475.13" cy="308.91" r="0.8"/><circle cx="476.05" cy="339.67" r="0.8"/><circle cx="476.07" cy="325.92" r="0.8"/><circle cx="474.87" cy="332.75" r="0.8"/><circle cx="475.87" cy="326.22" r="0.8"/><circle cx="474.95" cy="336.86" r="0.8"/><circle cx="475.64" cy="333.05" r="0.8"/><circle cx="475.45" cy="298.25" r="0.8"/><circle cx="475.45" cy="342.5" r="0.8"/></g><rect x="466.65" y="313.25" width="17.6" height="11.75" fill="#a2a5ab"/><path d="M466.65 312.65V325.6M484.25 312.65V325.6" stroke="#2a2a2a" stroke-width="0.9"/><path d="M466.2 313.25H484.7M466.2 325H484.7" stroke="#2a2a2a" stroke-width="1.2"/><rect x="467.9" y="314.6" width="15.1" height="9.05" fill="none" stroke="#fff" stroke-opacity="0.28" stroke-width="0.8"/><path d="M467.45 317.75H483.45M467.45 321.25H483.45" stroke="#fff" stroke-opacity="0.3" stroke-width="0.8"/><path d="M466.65 319.5H484.25" stroke="#000" stroke-opacity="0.66" stroke-width="1.8"/><path d="M499.6 252.5V327.5" stroke="#3a3d42" stroke-width="0.9"/><g fill="#22a3e6" fill-opacity="0.9"><circle cx="501.17" cy="315.9" r="0.8"/><circle cx="497.38" cy="281.28" r="0.8"/><circle cx="498.83" cy="269.67" r="0.8"/><circle cx="496.91" cy="280.93" r="0.8"/><circle cx="499.63" cy="278.92" r="0.8"/><circle cx="499.3" cy="274.43" r="0.8"/><circle cx="501.8" cy="317.79" r="0.8"/><circle cx="500.2" cy="281.29" r="0.8"/><circle cx="496.76" cy="281.75" r="0.8"/><circle cx="499.46" cy="326.74" r="0.8"/><circle cx="498.81" cy="276.07" r="0.8"/><circle cx="497.66" cy="316.55" r="0.8"/><circle cx="497.48" cy="319.08" r="0.8"/><circle cx="499.18" cy="321.77" r="0.8"/><circle cx="499.46" cy="325.69" r="0.8"/><circle cx="499.93" cy="279.32" r="0.8"/><circle cx="499.93" cy="272.88" r="0.8"/><circle cx="499.1" cy="281.69" r="0.8"/><circle cx="500.09" cy="263.75" r="0.8"/><circle cx="499.73" cy="276.82" r="0.8"/><circle cx="499.38" cy="273.33" r="0.8"/><circle cx="499.67" cy="281.55" r="0.8"/><circle cx="499.16" cy="264.88" r="0.8"/><circle cx="500.16" cy="256.05" r="0.8"/><circle cx="498.94" cy="277.12" r="0.8"/><circle cx="499.57" cy="262.44" r="0.8"/><circle cx="499.41" cy="267.74" r="0.8"/><circle cx="499.39" cy="326.06" r="0.8"/><circle cx="500.2" cy="321.06" r="0.8"/><circle cx="499.57" cy="322.54" r="0.8"/><circle cx="499.44" cy="318.32" r="0.8"/><circle cx="500" cy="322.13" r="0.8"/><circle cx="499.6" cy="252.5" r="0.8"/><circle cx="499.6" cy="327.5" r="0.8"/></g><rect x="490.8" y="283.25" width="17.6" height="30.5" fill="#97d5f0"/><path d="M490.8 282.65V314.35M508.4 282.65V314.35" stroke="#2a2a2a" stroke-width="0.9"/><path d="M490.35 283.25H508.85M490.35 313.75H508.85" stroke="#2a2a2a" stroke-width="1.2"/><rect x="492.05" y="284.6" width="15.1" height="27.8" fill="none" stroke="#fff" stroke-opacity="0.28" stroke-width="0.8"/><path d="M491.6 298.75H507.6M491.6 302.25H507.6" stroke="#fff" stroke-opacity="0.3" stroke-width="0.8"/><path d="M490.8 300.5H508.4" stroke="#000" stroke-opacity="0.66" stroke-width="1.8"/><text x="296.25" y="345.8" font-size="8.4" font-weight="bold" text-anchor="start" fill="#000" stroke="#000" stroke-width="0.2" textLength="18.9" lengthAdjust="spacingAndGlyphs">CD95</text></g><g><path d="M38.15 412V550.1" fill="none" stroke="#3d3d3d" stroke-width="1.3"/><path d="M37.5 549.3H259.5" fill="none" stroke="#444" stroke-width="1.6"/><path d="M35.15 445H38.15" stroke="#3a3a3a" stroke-width="1"/><text class="t" x="32.25" y="447.4" font-size="7.4" text-anchor="end" fill="#0a0a0a">100000</text><path d="M35.15 477.5H38.15" stroke="#3a3a3a" stroke-width="1"/><text class="t" x="32.25" y="479.9" font-size="7.4" text-anchor="end" fill="#0a0a0a">10000</text><path d="M35.15 510H38.15" stroke="#3a3a3a" stroke-width="1"/><text class="t" x="32.25" y="512.4" font-size="7.4" text-anchor="end" fill="#0a0a0a">1000</text><path d="M35.15 542.75H38.15" stroke="#3a3a3a" stroke-width="1"/><text class="t" x="32.25" y="545.15" font-size="7.4" text-anchor="end" fill="#0a0a0a">100</text><path d="M52.4 549.3V552.3" stroke="#3a3a3a" stroke-width="1"/><path d="M76.55 549.3V552.3" stroke="#3a3a3a" stroke-width="1"/><path d="M100.7 549.3V552.3" stroke="#3a3a3a" stroke-width="1"/><path d="M124.85 549.3V552.3" stroke="#3a3a3a" stroke-width="1"/><path d="M149 549.3V552.3" stroke="#3a3a3a" stroke-width="1"/><path d="M173.15 549.3V552.3" stroke="#3a3a3a" stroke-width="1"/><path d="M197.3 549.3V552.3" stroke="#3a3a3a" stroke-width="1"/><path d="M221.45 549.3V552.3" stroke="#3a3a3a" stroke-width="1"/><path d="M245.6 549.3V552.3" stroke="#3a3a3a" stroke-width="1"/><text class="t" x="56" y="556.9" font-size="7.6" text-anchor="end" fill="#0a0a0a" transform="rotate(-45 56 556.9)">BL</text><text class="t" x="80.15" y="556.9" font-size="7.6" text-anchor="end" fill="#0a0a0a" transform="rotate(-45 80.15 556.9)">CD10<tspan font-size="5.6" dy="-2.9">−</tspan><tspan dy="2.9"> DLBCL</tspan></text><text class="t" x="104.3" y="556.9" font-size="7.6" text-anchor="end" fill="#0a0a0a" transform="rotate(-45 104.3 556.9)">CD10<tspan font-size="5.6" dy="-2.9">+</tspan><tspan dy="2.9"> DLBCL</tspan></text><text class="t" x="128.45" y="556.9" font-size="7.6" text-anchor="end" fill="#0a0a0a" transform="rotate(-45 128.45 556.9)">CLL</text><text class="t" x="152.6" y="556.9" font-size="7.6" text-anchor="end" fill="#0a0a0a" transform="rotate(-45 152.6 556.9)">FL</text><text class="t" x="176.75" y="556.9" font-size="7.6" text-anchor="end" fill="#0a0a0a" transform="rotate(-45 176.75 556.9)">HCL</text><text class="t" x="200.9" y="556.9" font-size="7.6" text-anchor="end" fill="#0a0a0a" transform="rotate(-45 200.9 556.9)">LPL</text><text class="t" x="225.05" y="556.9" font-size="7.6" text-anchor="end" fill="#0a0a0a" transform="rotate(-45 225.05 556.9)">MCL</text><text class="t" x="249.2" y="556.9" font-size="7.6" text-anchor="end" fill="#0a0a0a" transform="rotate(-45 249.2 556.9)">MZL</text><text class="t" x="52.9" y="414" font-size="7.4" text-anchor="middle" fill="#0a0a0a">12286</text><text class="t" x="76.9" y="414" font-size="7.4" text-anchor="middle" fill="#0a0a0a">13059</text><text class="t" x="101.1" y="414" font-size="7.4" text-anchor="middle" fill="#0a0a0a">17425</text><rect x="100.35" y="417.95" width="1.5" height="1.5" fill="#2e2e2e"/><text class="t" x="125.4" y="414" font-size="7.4" text-anchor="middle" fill="#0a0a0a">12948</text><text class="t" x="149.3" y="414" font-size="7.4" text-anchor="middle" fill="#0a0a0a">5512</text><path d="M147.3 420.5L150.5 420.5L151.4 415.6L148.3 415.6Z" fill="#555" fill-opacity="0.55"/><text x="149.4" y="420.9" font-size="7.2" font-weight="bold" font-style="italic" text-anchor="middle" fill="#3c3c3c" stroke="#3c3c3c" stroke-width="0.12">#</text><text class="t" x="173.3" y="414" font-size="7.4" text-anchor="middle" fill="#0a0a0a">9560</text><text class="t" x="197.2" y="414" font-size="7.4" text-anchor="middle" fill="#0a0a0a">6462</text><text class="t" x="221.5" y="414" font-size="7.4" text-anchor="middle" fill="#0a0a0a">10124</text><text class="t" x="245.7" y="414" font-size="7.4" text-anchor="middle" fill="#0a0a0a">9638</text><path d="M52.4 441.25V494.75" stroke="#3a3d42" stroke-width="0.9"/><g fill="#e0103c" fill-opacity="0.9"><circle cx="51.85" cy="462.65" r="0.8"/><circle cx="52.45" cy="445.01" r="0.8"/><circle cx="54.03" cy="463.46" r="0.8"/><circle cx="51.06" cy="453.53" r="0.8"/><circle cx="54.22" cy="467.28" r="0.8"/><circle cx="49.96" cy="465.37" r="0.8"/><circle cx="52.94" cy="452" r="0.8"/><circle cx="52.46" cy="493.51" r="0.8"/><circle cx="54.91" cy="480.98" r="0.8"/><circle cx="53.8" cy="465.9" r="0.8"/><circle cx="50.44" cy="483.52" r="0.8"/><circle cx="52.62" cy="489.4" r="0.8"/><circle cx="51.75" cy="466.89" r="0.8"/><circle cx="51.87" cy="442.72" r="0.8"/><circle cx="52.69" cy="441.82" r="0.8"/><circle cx="51.86" cy="457.79" r="0.8"/><circle cx="51.95" cy="445.5" r="0.8"/><circle cx="52.64" cy="457.24" r="0.8"/><circle cx="52.2" cy="494.32" r="0.8"/><circle cx="52.31" cy="494.46" r="0.8"/><circle cx="52.05" cy="486.22" r="0.8"/><circle cx="52.4" cy="441.25" r="0.8"/><circle cx="52.4" cy="494.75" r="0.8"/><circle cx="52.13" cy="533" r="0.8"/></g><rect x="43.6" y="467.5" width="17.6" height="13.25" fill="#e68a9b"/><path d="M43.6 466.9V481.35M61.2 466.9V481.35" stroke="#2a2a2a" stroke-width="0.9"/><path d="M43.15 467.5H61.65M43.15 480.75H61.65" stroke="#2a2a2a" stroke-width="1.2"/><rect x="44.85" y="468.85" width="15.1" height="10.55" fill="none" stroke="#fff" stroke-opacity="0.28" stroke-width="0.8"/><path d="M44.4 472.75H60.4M44.4 476.25H60.4" stroke="#fff" stroke-opacity="0.3" stroke-width="0.8"/><path d="M43.6 474.5H61.2" stroke="#000" stroke-opacity="0.66" stroke-width="1.8"/><path d="M76.55 432V542.25" stroke="#3a3d42" stroke-width="0.9"/><g fill="#1f62a5" fill-opacity="0.9"><circle cx="76.88" cy="541.79" r="0.8"/><circle cx="73.92" cy="453.05" r="0.8"/><circle cx="75.12" cy="441" r="0.8"/><circle cx="74.76" cy="516.93" r="0.8"/><circle cx="76.75" cy="439.32" r="0.8"/><circle cx="76.71" cy="436.3" r="0.8"/><circle cx="79.36" cy="449.64" r="0.8"/><circle cx="76.65" cy="534.84" r="0.8"/><circle cx="75.66" cy="453.1" r="0.8"/><circle cx="78.97" cy="489.51" r="0.8"/><circle cx="73.87" cy="506.56" r="0.8"/><circle cx="77.6" cy="501.28" r="0.8"/><circle cx="76.25" cy="520.28" r="0.8"/><circle cx="77.24" cy="538.32" r="0.8"/><circle cx="75.7" cy="496.96" r="0.8"/><circle cx="77.02" cy="435.52" r="0.8"/><circle cx="77.67" cy="527.24" r="0.8"/><circle cx="78.32" cy="497.03" r="0.8"/><circle cx="76.71" cy="437.84" r="0.8"/><circle cx="77.05" cy="435.53" r="0.8"/><circle cx="76.24" cy="442.87" r="0.8"/><circle cx="75.97" cy="452.53" r="0.8"/><circle cx="76.91" cy="452.7" r="0.8"/><circle cx="76.92" cy="435.32" r="0.8"/><circle cx="77.12" cy="444.76" r="0.8"/><circle cx="76.45" cy="520.44" r="0.8"/><circle cx="75.97" cy="538.73" r="0.8"/><circle cx="75.99" cy="530.49" r="0.8"/><circle cx="76.01" cy="504.09" r="0.8"/><circle cx="76.47" cy="535.46" r="0.8"/><circle cx="76.21" cy="527.82" r="0.8"/><circle cx="76.76" cy="528.02" r="0.8"/><circle cx="76.54" cy="494.65" r="0.8"/><circle cx="76.15" cy="527.58" r="0.8"/><circle cx="76.24" cy="524.02" r="0.8"/><circle cx="77.14" cy="509.04" r="0.8"/><circle cx="77.25" cy="539.25" r="0.8"/><circle cx="76.65" cy="512.01" r="0.8"/><circle cx="76.91" cy="532.15" r="0.8"/><circle cx="77.06" cy="513.57" r="0.8"/><circle cx="77.18" cy="510.67" r="0.8"/><circle cx="76.02" cy="514.44" r="0.8"/><circle cx="76.55" cy="432" r="0.8"/><circle cx="76.55" cy="542.25" r="0.8"/></g><rect x="67.75" y="454.25" width="17.6" height="35.25" fill="#7ba3c6"/><path d="M67.75 453.65V490.1M85.35 453.65V490.1" stroke="#2a2a2a" stroke-width="0.9"/><path d="M67.3 454.25H85.8M67.3 489.5H85.8" stroke="#2a2a2a" stroke-width="1.2"/><rect x="69" y="455.6" width="15.1" height="32.55" fill="none" stroke="#fff" stroke-opacity="0.28" stroke-width="0.8"/><path d="M68.55 472H84.55M68.55 475.5H84.55" stroke="#fff" stroke-opacity="0.3" stroke-width="0.8"/><path d="M67.75 473.75H85.35" stroke="#000" stroke-opacity="0.66" stroke-width="1.8"/><path d="M100.7 435.75V532.25" stroke="#3a3d42" stroke-width="0.9"/><g fill="#34c234" fill-opacity="0.9"><circle cx="102.08" cy="489.18" r="0.8"/><circle cx="100.77" cy="436.12" r="0.8"/><circle cx="101.76" cy="488.92" r="0.8"/><circle cx="102.98" cy="452.51" r="0.8"/><circle cx="98.34" cy="448.98" r="0.8"/><circle cx="99.96" cy="524.43" r="0.8"/><circle cx="101.97" cy="449.14" r="0.8"/><circle cx="103.6" cy="494.77" r="0.8"/><circle cx="103.13" cy="453.62" r="0.8"/><circle cx="100.7" cy="453.19" r="0.8"/><circle cx="103.98" cy="453.4" r="0.8"/><circle cx="100.03" cy="441.97" r="0.8"/><circle cx="103.7" cy="490.94" r="0.8"/><circle cx="101.13" cy="530.07" r="0.8"/><circle cx="102.56" cy="502.85" r="0.8"/><circle cx="103.95" cy="453.89" r="0.8"/><circle cx="100.95" cy="450.65" r="0.8"/><circle cx="100.32" cy="449.53" r="0.8"/><circle cx="101.15" cy="444.32" r="0.8"/><circle cx="101.29" cy="453.55" r="0.8"/><circle cx="100.96" cy="438.72" r="0.8"/><circle cx="100.57" cy="446" r="0.8"/><circle cx="100.19" cy="495.01" r="0.8"/><circle cx="100.69" cy="508.54" r="0.8"/><circle cx="100.51" cy="499.49" r="0.8"/><circle cx="101.07" cy="512.29" r="0.8"/><circle cx="100.23" cy="513.87" r="0.8"/><circle cx="100.51" cy="527.15" r="0.8"/><circle cx="101.37" cy="530.45" r="0.8"/><circle cx="100.82" cy="493.78" r="0.8"/><circle cx="100.54" cy="530.77" r="0.8"/><circle cx="100.44" cy="512" r="0.8"/><circle cx="100.29" cy="488.78" r="0.8"/><circle cx="100.4" cy="493.05" r="0.8"/><circle cx="100.79" cy="515.67" r="0.8"/><circle cx="100.96" cy="529.93" r="0.8"/><circle cx="100.7" cy="435.75" r="0.8"/><circle cx="100.7" cy="532.25" r="0.8"/></g><rect x="91.9" y="454.25" width="17.6" height="33.25" fill="#a2dca2"/><path d="M91.9 453.65V488.1M109.5 453.65V488.1" stroke="#2a2a2a" stroke-width="0.9"/><path d="M91.45 454.25H109.95M91.45 487.5H109.95" stroke="#2a2a2a" stroke-width="1.2"/><rect x="93.15" y="455.6" width="15.1" height="30.55" fill="none" stroke="#fff" stroke-opacity="0.28" stroke-width="0.8"/><path d="M92.7 467.75H108.7M92.7 471.25H108.7" stroke="#fff" stroke-opacity="0.3" stroke-width="0.8"/><path d="M91.9 469.5H109.5" stroke="#000" stroke-opacity="0.66" stroke-width="1.8"/><path d="M124.85 446.25V513.5" stroke="#3a3d42" stroke-width="0.9"/><g fill="#6a2a8c" fill-opacity="0.9"><circle cx="122.78" cy="467.54" r="0.8"/><circle cx="126.86" cy="463.89" r="0.8"/><circle cx="130.29" cy="465.03" r="0.8"/><circle cx="122.76" cy="464.44" r="0.8"/><circle cx="121.85" cy="467.72" r="0.8"/><circle cx="121.01" cy="467.76" r="0.8"/><circle cx="118.32" cy="459.09" r="0.8"/><circle cx="125.65" cy="460.85" r="0.8"/><circle cx="124.96" cy="460.06" r="0.8"/><circle cx="129.9" cy="465.02" r="0.8"/><circle cx="127.61" cy="467.34" r="0.8"/><circle cx="132.23" cy="465.1" r="0.8"/><circle cx="128.05" cy="459.02" r="0.8"/><circle cx="118.09" cy="462.84" r="0.8"/><circle cx="131.89" cy="461.82" r="0.8"/><circle cx="125.88" cy="459.08" r="0.8"/><circle cx="123.59" cy="467.12" r="0.8"/><circle cx="126.19" cy="466.42" r="0.8"/><circle cx="117.55" cy="460.82" r="0.8"/><circle cx="120.04" cy="466.49" r="0.8"/><circle cx="118.87" cy="467.39" r="0.8"/><circle cx="121.36" cy="466.92" r="0.8"/><circle cx="125.08" cy="461.91" r="0.8"/><circle cx="131.85" cy="462.65" r="0.8"/><circle cx="127.81" cy="459.61" r="0.8"/><circle cx="129.81" cy="467.83" r="0.8"/><circle cx="119.01" cy="465.72" r="0.8"/><circle cx="121.41" cy="460.33" r="0.8"/><circle cx="122.81" cy="464.96" r="0.8"/><circle cx="131.65" cy="467.95" r="0.8"/><circle cx="130.77" cy="493.04" r="0.8"/><circle cx="126.69" cy="488.19" r="0.8"/><circle cx="127.56" cy="492.29" r="0.8"/><circle cx="123.16" cy="495.95" r="0.8"/><circle cx="121.91" cy="487.99" r="0.8"/><circle cx="120.75" cy="488.07" r="0.8"/><circle cx="125.91" cy="494.91" r="0.8"/><circle cx="120.77" cy="491.78" r="0.8"/><circle cx="125.74" cy="492.38" r="0.8"/><circle cx="123.8" cy="492.21" r="0.8"/><circle cx="119.03" cy="487.11" r="0.8"/><circle cx="123.92" cy="488.99" r="0.8"/><circle cx="127.93" cy="489.04" r="0.8"/><circle cx="128.74" cy="489.04" r="0.8"/><circle cx="119.96" cy="491.51" r="0.8"/><circle cx="123.5" cy="490.02" r="0.8"/><circle cx="128.03" cy="488.83" r="0.8"/><circle cx="126.89" cy="495.26" r="0.8"/><circle cx="124.28" cy="491.78" r="0.8"/><circle cx="129.93" cy="492.84" r="0.8"/><circle cx="121.02" cy="487.23" r="0.8"/><circle cx="119.84" cy="489.98" r="0.8"/><circle cx="119.92" cy="493.31" r="0.8"/><circle cx="123.93" cy="489.74" r="0.8"/><circle cx="125" cy="496.33" r="0.8"/><circle cx="121.78" cy="488.12" r="0.8"/><circle cx="122.51" cy="489.91" r="0.8"/><circle cx="129.77" cy="493.92" r="0.8"/><circle cx="113.49" cy="473.37" r="0.8"/><circle cx="136.78" cy="473.32" r="0.8"/><circle cx="122.06" cy="505.39" r="0.8"/><circle cx="124.64" cy="505.38" r="0.8"/><circle cx="127.59" cy="505.3" r="0.8"/><circle cx="124.36" cy="447.33" r="0.8"/><circle cx="125.58" cy="455.32" r="0.8"/><circle cx="124.88" cy="448.19" r="0.8"/><circle cx="125.36" cy="451.63" r="0.8"/><circle cx="125.33" cy="447.19" r="0.8"/><circle cx="126.06" cy="446.05" r="0.8"/><circle cx="123.74" cy="503.37" r="0.8"/><circle cx="123.64" cy="498.4" r="0.8"/><circle cx="125.6" cy="512.9" r="0.8"/><circle cx="124.19" cy="501.26" r="0.8"/><circle cx="125.53" cy="500.56" r="0.8"/><circle cx="124.45" cy="508.01" r="0.8"/><circle cx="124.57" cy="499.49" r="0.8"/><circle cx="123.13" cy="505.69" r="0.8"/><circle cx="125.44" cy="467.8" r="0.8"/><circle cx="124.85" cy="448.42" r="0.8"/><circle cx="124.42" cy="456.87" r="0.8"/><circle cx="124.84" cy="460.82" r="0.8"/><circle cx="124.56" cy="463.84" r="0.8"/><circle cx="125.29" cy="466.56" r="0.8"/><circle cx="124.35" cy="499.15" r="0.8"/><circle cx="124.33" cy="499.43" r="0.8"/><circle cx="125.13" cy="504.94" r="0.8"/><circle cx="125.52" cy="502" r="0.8"/><circle cx="125.15" cy="487.48" r="0.8"/><circle cx="124.31" cy="508.07" r="0.8"/><circle cx="124.23" cy="495.03" r="0.8"/><circle cx="124.85" cy="446.25" r="0.8"/><circle cx="124.85" cy="513.5" r="0.8"/></g><rect x="116.05" y="468" width="17.6" height="18.25" fill="#b293c4"/><path d="M116.05 467.4V486.85M133.65 467.4V486.85" stroke="#2a2a2a" stroke-width="0.9"/><path d="M115.6 468H134.1M115.6 486.25H134.1" stroke="#2a2a2a" stroke-width="1.2"/><rect x="117.3" y="469.35" width="15.1" height="15.55" fill="none" stroke="#fff" stroke-opacity="0.28" stroke-width="0.8"/><path d="M116.85 472H132.85M116.85 475.5H132.85" stroke="#fff" stroke-opacity="0.3" stroke-width="0.8"/><path d="M116.05 473.75H133.65" stroke="#000" stroke-opacity="0.66" stroke-width="1.8"/><path d="M149 432.5V543.5" stroke="#3a3d42" stroke-width="0.9"/><g fill="#ff9a1c" fill-opacity="0.9"><circle cx="148.36" cy="524.74" r="0.8"/><circle cx="150.74" cy="507.29" r="0.8"/><circle cx="148.88" cy="433.76" r="0.8"/><circle cx="151.22" cy="466.16" r="0.8"/><circle cx="147.15" cy="519.79" r="0.8"/><circle cx="147.34" cy="524.38" r="0.8"/><circle cx="146.56" cy="449.35" r="0.8"/><circle cx="152.11" cy="460.9" r="0.8"/><circle cx="152.5" cy="505.57" r="0.8"/><circle cx="149.19" cy="533.84" r="0.8"/><circle cx="151.36" cy="520.2" r="0.8"/><circle cx="149.18" cy="502.03" r="0.8"/><circle cx="147.94" cy="461.35" r="0.8"/><circle cx="147.35" cy="517.19" r="0.8"/><circle cx="149.03" cy="456.1" r="0.8"/><circle cx="147.42" cy="449.67" r="0.8"/><circle cx="151.4" cy="504.2" r="0.8"/><circle cx="149.06" cy="528.32" r="0.8"/><circle cx="149.02" cy="436.72" r="0.8"/><circle cx="148.14" cy="462.56" r="0.8"/><circle cx="148.95" cy="530.73" r="0.8"/><circle cx="148.55" cy="502.44" r="0.8"/><circle cx="147.78" cy="462.17" r="0.8"/><circle cx="147.8" cy="525.37" r="0.8"/><circle cx="149.52" cy="444.08" r="0.8"/><circle cx="150.04" cy="519.71" r="0.8"/><circle cx="147.62" cy="466.46" r="0.8"/><circle cx="149.05" cy="434.68" r="0.8"/><circle cx="149.61" cy="541.01" r="0.8"/><circle cx="145.7" cy="461.36" r="0.8"/><circle cx="148.95" cy="525.6" r="0.8"/><circle cx="148.89" cy="463.06" r="0.8"/><circle cx="149.7" cy="535.92" r="0.8"/><circle cx="148.41" cy="510.18" r="0.8"/><circle cx="148.37" cy="433.99" r="0.8"/><circle cx="152.73" cy="462.79" r="0.8"/><circle cx="151.98" cy="506.02" r="0.8"/><circle cx="146.65" cy="509.67" r="0.8"/><circle cx="145.91" cy="507.59" r="0.8"/><circle cx="148.23" cy="510.19" r="0.8"/><circle cx="144.67" cy="503.59" r="0.8"/><circle cx="145.05" cy="460.16" r="0.8"/><circle cx="148.38" cy="445.21" r="0.8"/><circle cx="147.28" cy="519.13" r="0.8"/><circle cx="149.54" cy="449.22" r="0.8"/><circle cx="152.32" cy="464.53" r="0.8"/><circle cx="149.79" cy="502.98" r="0.8"/><circle cx="145.04" cy="505.7" r="0.8"/><circle cx="149.54" cy="450.52" r="0.8"/><circle cx="146.21" cy="500.49" r="0.8"/><circle cx="147.94" cy="459.02" r="0.8"/><circle cx="153.74" cy="500.39" r="0.8"/><circle cx="148.41" cy="440.43" r="0.8"/><circle cx="145.26" cy="507.69" r="0.8"/><circle cx="148.31" cy="530.21" r="0.8"/><circle cx="152.48" cy="511.92" r="0.8"/><circle cx="146.8" cy="460.13" r="0.8"/><circle cx="150.19" cy="528.12" r="0.8"/><circle cx="151.4" cy="508.07" r="0.8"/><circle cx="151.27" cy="463.28" r="0.8"/><circle cx="148.18" cy="432.91" r="0.8"/><circle cx="144.38" cy="464.29" r="0.8"/><circle cx="147.71" cy="466.17" r="0.8"/><circle cx="147.56" cy="455.93" r="0.8"/><circle cx="152.25" cy="513.62" r="0.8"/><circle cx="148.96" cy="455.83" r="0.8"/><circle cx="148.35" cy="440.18" r="0.8"/><circle cx="147.64" cy="506.96" r="0.8"/><circle cx="147.65" cy="515.93" r="0.8"/><circle cx="148.74" cy="435.07" r="0.8"/><circle cx="149.16" cy="450" r="0.8"/><circle cx="151.93" cy="461.59" r="0.8"/><circle cx="152.53" cy="458.99" r="0.8"/><circle cx="146.34" cy="459.47" r="0.8"/><circle cx="148.73" cy="521.35" r="0.8"/><circle cx="151.66" cy="463.88" r="0.8"/><circle cx="148.66" cy="441.7" r="0.8"/><circle cx="146.2" cy="499.36" r="0.8"/><circle cx="149.84" cy="522.35" r="0.8"/><circle cx="146.82" cy="457.18" r="0.8"/><circle cx="150.02" cy="450.49" r="0.8"/><circle cx="147.09" cy="450.52" r="0.8"/><circle cx="149.09" cy="501.46" r="0.8"/><circle cx="146.67" cy="454.33" r="0.8"/><circle cx="146.95" cy="451.7" r="0.8"/><circle cx="149.22" cy="449.03" r="0.8"/><circle cx="149.25" cy="528.25" r="0.8"/><circle cx="151.48" cy="458.18" r="0.8"/><circle cx="148.48" cy="526.58" r="0.8"/><circle cx="149.64" cy="434.24" r="0.8"/><circle cx="150.09" cy="500.23" r="0.8"/><circle cx="149.94" cy="436.26" r="0.8"/><circle cx="152.09" cy="503.96" r="0.8"/><circle cx="149.06" cy="441.91" r="0.8"/><circle cx="148.88" cy="438.64" r="0.8"/><circle cx="149.15" cy="522.71" r="0.8"/><circle cx="152.72" cy="502.19" r="0.8"/><circle cx="147.37" cy="466.68" r="0.8"/><circle cx="150.23" cy="466.36" r="0.8"/><circle cx="147.02" cy="465.24" r="0.8"/><circle cx="149.81" cy="437.02" r="0.8"/><circle cx="148.88" cy="542.74" r="0.8"/><circle cx="152.77" cy="504.36" r="0.8"/><circle cx="147.88" cy="525.3" r="0.8"/><circle cx="149.1" cy="436.75" r="0.8"/><circle cx="148.2" cy="533.63" r="0.8"/><circle cx="151.09" cy="511.24" r="0.8"/><circle cx="153.28" cy="464.59" r="0.8"/><circle cx="150.3" cy="445.99" r="0.8"/><circle cx="148.52" cy="448.3" r="0.8"/><circle cx="148.6" cy="440.17" r="0.8"/><circle cx="148.82" cy="465.18" r="0.8"/><circle cx="149" cy="449.96" r="0.8"/><circle cx="149.35" cy="433.41" r="0.8"/><circle cx="149.53" cy="458.02" r="0.8"/><circle cx="148.59" cy="444.73" r="0.8"/><circle cx="149.33" cy="444.4" r="0.8"/><circle cx="148.87" cy="455.04" r="0.8"/><circle cx="148.52" cy="450.47" r="0.8"/><circle cx="148.96" cy="463.96" r="0.8"/><circle cx="149.4" cy="449.86" r="0.8"/><circle cx="149.31" cy="439.28" r="0.8"/><circle cx="149.44" cy="444.6" r="0.8"/><circle cx="148.69" cy="435.73" r="0.8"/><circle cx="148.98" cy="527.38" r="0.8"/><circle cx="149.11" cy="515.93" r="0.8"/><circle cx="148.91" cy="508.89" r="0.8"/><circle cx="149.42" cy="499.33" r="0.8"/><circle cx="149.46" cy="510.49" r="0.8"/><circle cx="149.14" cy="523.68" r="0.8"/><circle cx="148.48" cy="526.95" r="0.8"/><circle cx="148.71" cy="533.64" r="0.8"/><circle cx="149.4" cy="537.43" r="0.8"/><circle cx="149.44" cy="529.26" r="0.8"/><circle cx="149.24" cy="518.57" r="0.8"/><circle cx="148.56" cy="541.41" r="0.8"/><circle cx="148.88" cy="503.71" r="0.8"/><circle cx="148.51" cy="521.8" r="0.8"/><circle cx="149.51" cy="509.04" r="0.8"/><circle cx="148.51" cy="516.42" r="0.8"/><circle cx="149.11" cy="507.35" r="0.8"/><circle cx="148.97" cy="507.66" r="0.8"/><circle cx="149" cy="432.5" r="0.8"/><circle cx="149" cy="543.5" r="0.8"/></g><rect x="140.2" y="466.75" width="17.6" height="32.5" fill="#fdc98c"/><path d="M140.2 466.15V499.85M157.8 466.15V499.85" stroke="#2a2a2a" stroke-width="0.9"/><path d="M139.75 466.75H158.25M139.75 499.25H158.25" stroke="#2a2a2a" stroke-width="1.2"/><rect x="141.45" y="468.1" width="15.1" height="29.8" fill="none" stroke="#fff" stroke-opacity="0.28" stroke-width="0.8"/><path d="M141 484.5H157M141 488H157" stroke="#fff" stroke-opacity="0.3" stroke-width="0.8"/><path d="M140.2 486.25H157.8" stroke="#000" stroke-opacity="0.66" stroke-width="1.8"/><path d="M173.15 445.5V509.75" stroke="#3a3d42" stroke-width="0.9"/><g fill="#0e7a58" fill-opacity="0.9"><circle cx="173.17" cy="493.57" r="0.8"/><circle cx="176.59" cy="488.27" r="0.8"/><circle cx="175.28" cy="470.4" r="0.8"/><circle cx="171.68" cy="495.74" r="0.8"/><circle cx="174.72" cy="491.13" r="0.8"/><circle cx="173.88" cy="460.8" r="0.8"/><circle cx="170.67" cy="463.32" r="0.8"/><circle cx="171.86" cy="499.73" r="0.8"/><circle cx="171.84" cy="500.93" r="0.8"/><circle cx="172.39" cy="505.23" r="0.8"/><circle cx="171.2" cy="470.13" r="0.8"/><circle cx="171.75" cy="463.08" r="0.8"/><circle cx="172.4" cy="463.79" r="0.8"/><circle cx="171.84" cy="500.63" r="0.8"/><circle cx="171.78" cy="470.49" r="0.8"/><circle cx="174.18" cy="456.96" r="0.8"/><circle cx="169.7" cy="489.75" r="0.8"/><circle cx="175.84" cy="493.01" r="0.8"/><circle cx="170.2" cy="467.04" r="0.8"/><circle cx="172.83" cy="495.14" r="0.8"/><circle cx="174.1" cy="454.52" r="0.8"/><circle cx="172.44" cy="469.17" r="0.8"/><circle cx="173.02" cy="467.78" r="0.8"/><circle cx="173.23" cy="462.02" r="0.8"/><circle cx="173.25" cy="457.03" r="0.8"/><circle cx="173.23" cy="451.63" r="0.8"/><circle cx="172.56" cy="467.12" r="0.8"/><circle cx="173.68" cy="454.72" r="0.8"/><circle cx="172.47" cy="469.96" r="0.8"/><circle cx="173.33" cy="461.18" r="0.8"/><circle cx="173.11" cy="466.58" r="0.8"/><circle cx="172.87" cy="491.07" r="0.8"/><circle cx="173.47" cy="503.57" r="0.8"/><circle cx="173.35" cy="492.65" r="0.8"/><circle cx="173.37" cy="502.37" r="0.8"/><circle cx="173.07" cy="488.72" r="0.8"/><circle cx="173.29" cy="495.24" r="0.8"/><circle cx="172.63" cy="495.49" r="0.8"/><circle cx="172.85" cy="502.66" r="0.8"/><circle cx="173.15" cy="445.5" r="0.8"/><circle cx="173.15" cy="509.75" r="0.8"/><circle cx="173.44" cy="535.25" r="0.8"/></g><rect x="164.35" y="470.5" width="17.6" height="17.75" fill="#7db9a2"/><path d="M164.35 469.9V488.85M181.95 469.9V488.85" stroke="#2a2a2a" stroke-width="0.9"/><path d="M163.9 470.5H182.4M163.9 488.25H182.4" stroke="#2a2a2a" stroke-width="1.2"/><rect x="165.6" y="471.85" width="15.1" height="15.05" fill="none" stroke="#fff" stroke-opacity="0.28" stroke-width="0.8"/><path d="M165.15 476.5H181.15M165.15 480H181.15" stroke="#fff" stroke-opacity="0.3" stroke-width="0.8"/><path d="M164.35 478.25H181.95" stroke="#000" stroke-opacity="0.66" stroke-width="1.8"/><path d="M197.3 462.5V514" stroke="#3a3d42" stroke-width="0.9"/><g fill="#8478cc" fill-opacity="0.9"><circle cx="198.88" cy="470.86" r="0.8"/><circle cx="195.87" cy="467.87" r="0.8"/><circle cx="199.09" cy="493.79" r="0.8"/><circle cx="196.51" cy="474.8" r="0.8"/><circle cx="194.96" cy="498.29" r="0.8"/><circle cx="200.55" cy="496.37" r="0.8"/><circle cx="195.65" cy="472.34" r="0.8"/><circle cx="198.3" cy="496.7" r="0.8"/><circle cx="198.92" cy="497.89" r="0.8"/><circle cx="193.72" cy="475.2" r="0.8"/><circle cx="196.81" cy="465.16" r="0.8"/><circle cx="196.64" cy="467.3" r="0.8"/><circle cx="196.9" cy="471.23" r="0.8"/><circle cx="196.88" cy="510.6" r="0.8"/><circle cx="194.41" cy="498.31" r="0.8"/><circle cx="196.98" cy="464.31" r="0.8"/><circle cx="195.76" cy="505.07" r="0.8"/><circle cx="195.75" cy="494.22" r="0.8"/><circle cx="196.3" cy="493.77" r="0.8"/><circle cx="194.51" cy="471.85" r="0.8"/><circle cx="196.91" cy="464.46" r="0.8"/><circle cx="196.73" cy="463.56" r="0.8"/><circle cx="197.32" cy="465.03" r="0.8"/><circle cx="197.75" cy="464.28" r="0.8"/><circle cx="196.95" cy="467.92" r="0.8"/><circle cx="197.78" cy="498.63" r="0.8"/><circle cx="197.64" cy="494.7" r="0.8"/><circle cx="197.92" cy="495.73" r="0.8"/><circle cx="197.44" cy="502.02" r="0.8"/><circle cx="196.74" cy="511.23" r="0.8"/><circle cx="197.57" cy="495.05" r="0.8"/><circle cx="197.61" cy="505.65" r="0.8"/><circle cx="197.3" cy="462.5" r="0.8"/><circle cx="197.3" cy="514" r="0.8"/><circle cx="197.08" cy="447.5" r="0.8"/><circle cx="197.3" cy="521.75" r="0.8"/></g><rect x="188.5" y="475.5" width="17.6" height="18.25" fill="#c5c1e5"/><path d="M188.5 474.9V494.35M206.1 474.9V494.35" stroke="#2a2a2a" stroke-width="0.9"/><path d="M188.05 475.5H206.55M188.05 493.75H206.55" stroke="#2a2a2a" stroke-width="1.2"/><rect x="189.75" y="476.85" width="15.1" height="15.55" fill="none" stroke="#fff" stroke-opacity="0.28" stroke-width="0.8"/><path d="M189.3 482.5H205.3M189.3 486H205.3" stroke="#fff" stroke-opacity="0.3" stroke-width="0.8"/><path d="M188.5 484.25H206.1" stroke="#000" stroke-opacity="0.66" stroke-width="1.8"/><path d="M221.45 453.75V499.75" stroke="#3a3d42" stroke-width="0.9"/><g fill="#2f3f5c" fill-opacity="0.9"><circle cx="219.97" cy="465.08" r="0.8"/><circle cx="219.68" cy="486.24" r="0.8"/><circle cx="224.12" cy="484.49" r="0.8"/><circle cx="218.27" cy="467.53" r="0.8"/><circle cx="222.81" cy="489.08" r="0.8"/><circle cx="224.2" cy="465.42" r="0.8"/><circle cx="222.16" cy="454.23" r="0.8"/><circle cx="221.01" cy="498.29" r="0.8"/><circle cx="219.94" cy="490.98" r="0.8"/><circle cx="222.91" cy="491.66" r="0.8"/><circle cx="224.68" cy="484.46" r="0.8"/><circle cx="222.39" cy="467.24" r="0.8"/><circle cx="222.85" cy="464.71" r="0.8"/><circle cx="219.65" cy="461.34" r="0.8"/><circle cx="222.33" cy="461.55" r="0.8"/><circle cx="225.34" cy="467.85" r="0.8"/><circle cx="220.58" cy="465.25" r="0.8"/><circle cx="221.99" cy="493.55" r="0.8"/><circle cx="221.54" cy="462.99" r="0.8"/><circle cx="222.29" cy="455.02" r="0.8"/><circle cx="221.39" cy="499.55" r="0.8"/><circle cx="223.44" cy="485.63" r="0.8"/><circle cx="222.05" cy="498.17" r="0.8"/><circle cx="223.76" cy="485.9" r="0.8"/><circle cx="221.19" cy="460.88" r="0.8"/><circle cx="221.87" cy="459.28" r="0.8"/><circle cx="221.93" cy="466.39" r="0.8"/><circle cx="220.99" cy="463.79" r="0.8"/><circle cx="221.55" cy="456.09" r="0.8"/><circle cx="221.22" cy="487.54" r="0.8"/><circle cx="220.97" cy="485.84" r="0.8"/><circle cx="221.06" cy="495.36" r="0.8"/><circle cx="221.21" cy="497.39" r="0.8"/><circle cx="221.17" cy="497.41" r="0.8"/><circle cx="221.45" cy="453.75" r="0.8"/><circle cx="221.45" cy="499.75" r="0.8"/><circle cx="221.22" cy="436.25" r="0.8"/><circle cx="221.34" cy="441.25" r="0.8"/><circle cx="220.96" cy="509" r="0.8"/></g><rect x="212.65" y="468.75" width="17.6" height="15.5" fill="#a2a5ab"/><path d="M212.65 468.15V484.85M230.25 468.15V484.85" stroke="#2a2a2a" stroke-width="0.9"/><path d="M212.2 468.75H230.7M212.2 484.25H230.7" stroke="#2a2a2a" stroke-width="1.2"/><rect x="213.9" y="470.1" width="15.1" height="12.8" fill="none" stroke="#fff" stroke-opacity="0.28" stroke-width="0.8"/><path d="M213.45 475H229.45M213.45 478.5H229.45" stroke="#fff" stroke-opacity="0.3" stroke-width="0.8"/><path d="M212.65 476.75H230.25" stroke="#000" stroke-opacity="0.66" stroke-width="1.8"/><path d="M245.6 452V498" stroke="#3a3d42" stroke-width="0.9"/><g fill="#22a3e6" fill-opacity="0.9"><circle cx="242.85" cy="466.12" r="0.8"/><circle cx="242.76" cy="487.86" r="0.8"/><circle cx="244.01" cy="486.52" r="0.8"/><circle cx="247.04" cy="469.15" r="0.8"/><circle cx="244.38" cy="489.4" r="0.8"/><circle cx="245.42" cy="452.88" r="0.8"/><circle cx="245.07" cy="495.69" r="0.8"/><circle cx="247.08" cy="485.52" r="0.8"/><circle cx="245.76" cy="492.24" r="0.8"/><circle cx="245.87" cy="486.02" r="0.8"/><circle cx="243.89" cy="465.83" r="0.8"/><circle cx="246.8" cy="490.35" r="0.8"/><circle cx="247.32" cy="490.73" r="0.8"/><circle cx="244.85" cy="490.26" r="0.8"/><circle cx="243.33" cy="487.82" r="0.8"/><circle cx="246.95" cy="459.81" r="0.8"/><circle cx="245.83" cy="463.3" r="0.8"/><circle cx="245.99" cy="468.4" r="0.8"/><circle cx="245.55" cy="459.8" r="0.8"/><circle cx="245.34" cy="465.29" r="0.8"/><circle cx="245.77" cy="453.92" r="0.8"/><circle cx="245.25" cy="466.16" r="0.8"/><circle cx="246.15" cy="494.05" r="0.8"/><circle cx="245.09" cy="487.1" r="0.8"/><circle cx="245.37" cy="491.66" r="0.8"/><circle cx="246.3" cy="497.37" r="0.8"/><circle cx="246.01" cy="491.07" r="0.8"/><circle cx="245.6" cy="452" r="0.8"/><circle cx="245.6" cy="498" r="0.8"/></g><rect x="236.8" y="469.5" width="17.6" height="16" fill="#97d5f0"/><path d="M236.8 468.9V486.1M254.4 468.9V486.1" stroke="#2a2a2a" stroke-width="0.9"/><path d="M236.35 469.5H254.85M236.35 485.5H254.85" stroke="#2a2a2a" stroke-width="1.2"/><rect x="238.05" y="470.85" width="15.1" height="13.3" fill="none" stroke="#fff" stroke-opacity="0.28" stroke-width="0.8"/><path d="M237.6 476.5H253.6M237.6 480H253.6" stroke="#fff" stroke-opacity="0.3" stroke-width="0.8"/><path d="M236.8 478.25H254.4" stroke="#000" stroke-opacity="0.66" stroke-width="1.8"/><text x="242.5" y="545.9" font-size="8.4" font-weight="bold" text-anchor="end" fill="#000" stroke="#000" stroke-width="0.2" textLength="26.2" lengthAdjust="spacingAndGlyphs">HLADR</text></g><g><path d="M292.15 412.5V550.1" fill="none" stroke="#3d3d3d" stroke-width="1.3"/><path d="M291.5 549.3H512.5" fill="none" stroke="#444" stroke-width="1.6"/><path d="M289.15 451.25H292.15" stroke="#3a3a3a" stroke-width="1"/><text class="t" x="286.25" y="453.65" font-size="7.4" text-anchor="end" fill="#0a0a0a">10000</text><path d="M289.15 479.5H292.15" stroke="#3a3a3a" stroke-width="1"/><text class="t" x="286.25" y="481.9" font-size="7.4" text-anchor="end" fill="#0a0a0a">1000</text><path d="M289.15 507.5H292.15" stroke="#3a3a3a" stroke-width="1"/><text class="t" x="286.25" y="509.9" font-size="7.4" text-anchor="end" fill="#0a0a0a">100</text><path d="M289.15 535.25H292.15" stroke="#3a3a3a" stroke-width="1"/><text class="t" x="286.25" y="537.65" font-size="7.4" text-anchor="end" fill="#0a0a0a">10</text><path d="M306.5 549.3V552.3" stroke="#3a3a3a" stroke-width="1"/><path d="M327.75 549.3V552.3" stroke="#3a3a3a" stroke-width="1"/><path d="M351.9 549.3V552.3" stroke="#3a3a3a" stroke-width="1"/><path d="M376 549.3V552.3" stroke="#3a3a3a" stroke-width="1"/><path d="M400.25 549.3V552.3" stroke="#3a3a3a" stroke-width="1"/><path d="M424.4 549.3V552.3" stroke="#3a3a3a" stroke-width="1"/><path d="M448.5 549.3V552.3" stroke="#3a3a3a" stroke-width="1"/><path d="M472.4 549.3V552.3" stroke="#3a3a3a" stroke-width="1"/><path d="M499.5 549.3V552.3" stroke="#3a3a3a" stroke-width="1"/><text class="t" x="308.8" y="557.7" font-size="7.6" text-anchor="end" fill="#0a0a0a" transform="rotate(-45 308.8 557.7)">BL</text><text class="t" x="330.05" y="557.7" font-size="7.6" text-anchor="end" fill="#0a0a0a" transform="rotate(-45 330.05 557.7)">CD10<tspan font-size="5.6" dy="-2.9">−</tspan><tspan dy="2.9"> DLBCL</tspan></text><text class="t" x="354.2" y="557.7" font-size="7.6" text-anchor="end" fill="#0a0a0a" transform="rotate(-45 354.2 557.7)">CD10<tspan font-size="5.6" dy="-2.9">+</tspan><tspan dy="2.9"> DLBCL</tspan></text><text class="t" x="378.3" y="557.7" font-size="7.6" text-anchor="end" fill="#0a0a0a" transform="rotate(-45 378.3 557.7)">CLL</text><text class="t" x="402.55" y="557.7" font-size="7.6" text-anchor="end" fill="#0a0a0a" transform="rotate(-45 402.55 557.7)">FL</text><text class="t" x="426.7" y="557.7" font-size="7.6" text-anchor="end" fill="#0a0a0a" transform="rotate(-45 426.7 557.7)">HCL</text><text class="t" x="450.8" y="557.7" font-size="7.6" text-anchor="end" fill="#0a0a0a" transform="rotate(-45 450.8 557.7)">LPL</text><text class="t" x="474.7" y="557.7" font-size="7.6" text-anchor="end" fill="#0a0a0a" transform="rotate(-45 474.7 557.7)">MCL</text><text class="t" x="501.8" y="557.7" font-size="7.6" text-anchor="end" fill="#0a0a0a" transform="rotate(-45 501.8 557.7)">MZL</text><text class="t" x="306.4" y="414.2" font-size="7.4" text-anchor="middle" fill="#0a0a0a">2071</text><rect x="304.27" y="418.25" width="1.5" height="1.5" fill="#2e2e2e"/><rect x="307.02" y="418.25" width="1.5" height="1.5" fill="#2e2e2e"/><text class="t" x="330.8" y="414.2" font-size="7.4" text-anchor="middle" fill="#0a0a0a">666</text><rect x="328.68" y="418.25" width="1.5" height="1.5" fill="#2e2e2e"/><rect x="331.43" y="418.25" width="1.5" height="1.5" fill="#2e2e2e"/><text class="t" x="354.9" y="414.2" font-size="7.4" text-anchor="middle" fill="#0a0a0a">238</text><rect x="352.77" y="418.25" width="1.5" height="1.5" fill="#2e2e2e"/><rect x="355.52" y="418.25" width="1.5" height="1.5" fill="#2e2e2e"/><text class="t" x="379.3" y="414.2" font-size="7.4" text-anchor="middle" fill="#0a0a0a">131</text><path d="M377.3 428.8L380.5 428.8L381.4 423.9L378.3 423.9Z" fill="#555" fill-opacity="0.55"/><text x="379.4" y="429.2" font-size="7.2" font-weight="bold" font-style="italic" text-anchor="middle" fill="#3c3c3c" stroke="#3c3c3c" stroke-width="0.12">#</text><text class="t" x="403.2" y="414.2" font-size="7.4" text-anchor="middle" fill="#0a0a0a">336</text><rect x="401.07" y="418.25" width="1.5" height="1.5" fill="#2e2e2e"/><rect x="403.82" y="418.25" width="1.5" height="1.5" fill="#2e2e2e"/><text class="t" x="427.2" y="414.2" font-size="7.4" text-anchor="middle" fill="#0a0a0a">344</text><rect x="426.45" y="418.25" width="1.5" height="1.5" fill="#2e2e2e"/><text class="t" x="451.4" y="414.2" font-size="7.4" text-anchor="middle" fill="#0a0a0a">3117</text><rect x="447.9" y="418.25" width="1.5" height="1.5" fill="#2e2e2e"/><rect x="450.65" y="418.25" width="1.5" height="1.5" fill="#2e2e2e"/><rect x="453.4" y="418.25" width="1.5" height="1.5" fill="#2e2e2e"/><text class="t" x="475.5" y="414.2" font-size="7.4" text-anchor="middle" fill="#0a0a0a">3512</text><rect x="472" y="418.25" width="1.5" height="1.5" fill="#2e2e2e"/><rect x="474.75" y="418.25" width="1.5" height="1.5" fill="#2e2e2e"/><rect x="477.5" y="418.25" width="1.5" height="1.5" fill="#2e2e2e"/><text class="t" x="499.6" y="414.2" font-size="7.4" text-anchor="middle" fill="#0a0a0a">664</text><rect x="496.1" y="418.25" width="1.5" height="1.5" fill="#2e2e2e"/><rect x="498.85" y="418.25" width="1.5" height="1.5" fill="#2e2e2e"/><rect x="501.6" y="418.25" width="1.5" height="1.5" fill="#2e2e2e"/><path d="M306.4 440.5V531.5" stroke="#3a3d42" stroke-width="0.9"/><g fill="#e0103c" fill-opacity="0.9"><circle cx="309.09" cy="503.5" r="0.8"/><circle cx="306.12" cy="459.02" r="0.8"/><circle cx="306.02" cy="453.85" r="0.8"/><circle cx="308.03" cy="508.58" r="0.8"/><circle cx="305.46" cy="513.9" r="0.8"/><circle cx="305.96" cy="453.65" r="0.8"/><circle cx="305.67" cy="511.25" r="0.8"/><circle cx="306.04" cy="531.33" r="0.8"/><circle cx="303.96" cy="459.24" r="0.8"/><circle cx="307.95" cy="454.91" r="0.8"/><circle cx="306.8" cy="529.82" r="0.8"/><circle cx="304.64" cy="513.7" r="0.8"/><circle cx="306.07" cy="447.69" r="0.8"/><circle cx="305.79" cy="452.14" r="0.8"/><circle cx="306.23" cy="450.67" r="0.8"/><circle cx="306.27" cy="449.72" r="0.8"/><circle cx="306.72" cy="505.01" r="0.8"/><circle cx="306.54" cy="525.61" r="0.8"/><circle cx="306.54" cy="505.42" r="0.8"/><circle cx="307.08" cy="527.69" r="0.8"/><circle cx="305.76" cy="524.38" r="0.8"/><circle cx="306.63" cy="527.92" r="0.8"/><circle cx="306.4" cy="440.5" r="0.8"/><circle cx="306.4" cy="531.5" r="0.8"/></g><rect x="297.6" y="459.25" width="17.6" height="42.75" fill="#e68a9b"/><path d="M297.6 458.65V502.6M315.2 458.65V502.6" stroke="#2a2a2a" stroke-width="0.9"/><path d="M297.15 459.25H315.65M297.15 502H315.65" stroke="#2a2a2a" stroke-width="1.2"/><rect x="298.85" y="460.6" width="15.1" height="40.05" fill="none" stroke="#fff" stroke-opacity="0.28" stroke-width="0.8"/><path d="M298.4 468.75H314.4M298.4 472.25H314.4" stroke="#fff" stroke-opacity="0.3" stroke-width="0.8"/><path d="M297.6 470.5H315.2" stroke="#000" stroke-opacity="0.66" stroke-width="1.8"/><path d="M330.55 448.75V518.5" stroke="#3a3d42" stroke-width="0.9"/><g fill="#1f62a5" fill-opacity="0.9"><circle cx="331.07" cy="451.06" r="0.8"/><circle cx="331.11" cy="501.72" r="0.8"/><circle cx="332.38" cy="464.04" r="0.8"/><circle cx="330.84" cy="502.84" r="0.8"/><circle cx="332.6" cy="507.05" r="0.8"/><circle cx="329.8" cy="518.26" r="0.8"/><circle cx="331.7" cy="459.87" r="0.8"/><circle cx="330.45" cy="508.28" r="0.8"/><circle cx="331.63" cy="506.36" r="0.8"/><circle cx="329.11" cy="500.01" r="0.8"/><circle cx="332.85" cy="500.15" r="0.8"/><circle cx="331.8" cy="457.88" r="0.8"/><circle cx="328.79" cy="462.85" r="0.8"/><circle cx="331.11" cy="506.26" r="0.8"/><circle cx="332.72" cy="459.18" r="0.8"/><circle cx="330.15" cy="517.01" r="0.8"/><circle cx="329.56" cy="503.66" r="0.8"/><circle cx="330.99" cy="500.96" r="0.8"/><circle cx="331.16" cy="462.3" r="0.8"/><circle cx="330.23" cy="449.08" r="0.8"/><circle cx="331.16" cy="457.38" r="0.8"/><circle cx="331.03" cy="451.61" r="0.8"/><circle cx="330.62" cy="455.7" r="0.8"/><circle cx="329.94" cy="464.99" r="0.8"/><circle cx="330.07" cy="506.1" r="0.8"/><circle cx="330.28" cy="502.48" r="0.8"/><circle cx="330.66" cy="512.96" r="0.8"/><circle cx="330.97" cy="502.25" r="0.8"/><circle cx="330.05" cy="509.39" r="0.8"/><circle cx="331" cy="515.18" r="0.8"/><circle cx="330.55" cy="448.75" r="0.8"/><circle cx="330.55" cy="518.5" r="0.8"/></g><rect x="321.75" y="466.25" width="17.6" height="33.75" fill="#7ba3c6"/><path d="M321.75 465.65V500.6M339.35 465.65V500.6" stroke="#2a2a2a" stroke-width="0.9"/><path d="M321.3 466.25H339.8M321.3 500H339.8" stroke="#2a2a2a" stroke-width="1.2"/><rect x="323" y="467.6" width="15.1" height="31.05" fill="none" stroke="#fff" stroke-opacity="0.28" stroke-width="0.8"/><path d="M322.55 482.5H338.55M322.55 486H338.55" stroke="#fff" stroke-opacity="0.3" stroke-width="0.8"/><path d="M321.75 484.25H339.35" stroke="#000" stroke-opacity="0.66" stroke-width="1.8"/><path d="M354.7 440.5V523" stroke="#3a3d42" stroke-width="0.9"/><g fill="#34c234" fill-opacity="0.9"><circle cx="355.2" cy="442.51" r="0.8"/><circle cx="357.64" cy="460.5" r="0.8"/><circle cx="356.79" cy="509.76" r="0.8"/><circle cx="356.14" cy="515.72" r="0.8"/><circle cx="356.97" cy="511.53" r="0.8"/><circle cx="355.96" cy="511.38" r="0.8"/><circle cx="354.83" cy="519.72" r="0.8"/><circle cx="355.01" cy="458.58" r="0.8"/><circle cx="355.41" cy="445.04" r="0.8"/><circle cx="355.34" cy="449.67" r="0.8"/><circle cx="355.44" cy="447.44" r="0.8"/><circle cx="352.99" cy="460.11" r="0.8"/><circle cx="356.53" cy="513.2" r="0.8"/><circle cx="353.52" cy="460.06" r="0.8"/><circle cx="351.44" cy="510.11" r="0.8"/><circle cx="356.02" cy="509.73" r="0.8"/><circle cx="354.35" cy="442.17" r="0.8"/><circle cx="355.22" cy="453.77" r="0.8"/><circle cx="354.63" cy="448.68" r="0.8"/><circle cx="354.48" cy="441.12" r="0.8"/><circle cx="355.1" cy="445.34" r="0.8"/><circle cx="355.1" cy="454.78" r="0.8"/><circle cx="354.98" cy="451.13" r="0.8"/><circle cx="354.54" cy="511.22" r="0.8"/><circle cx="354.4" cy="513.45" r="0.8"/><circle cx="354.3" cy="519.48" r="0.8"/><circle cx="354.4" cy="513.89" r="0.8"/><circle cx="354.89" cy="521.16" r="0.8"/><circle cx="354.7" cy="440.5" r="0.8"/><circle cx="354.7" cy="523" r="0.8"/></g><rect x="345.9" y="460.5" width="17.6" height="49" fill="#a2dca2"/><path d="M345.9 459.9V510.1M363.5 459.9V510.1" stroke="#2a2a2a" stroke-width="0.9"/><path d="M345.45 460.5H363.95M345.45 509.5H363.95" stroke="#2a2a2a" stroke-width="1.2"/><rect x="347.15" y="461.85" width="15.1" height="46.3" fill="none" stroke="#fff" stroke-opacity="0.28" stroke-width="0.8"/><path d="M346.7 483.75H362.7M346.7 487.25H362.7" stroke="#fff" stroke-opacity="0.3" stroke-width="0.8"/><path d="M345.9 485.5H363.5" stroke="#000" stroke-opacity="0.66" stroke-width="1.8"/><path d="M378.85 480V527.25" stroke="#3a3d42" stroke-width="0.9"/><g fill="#6a2a8c" fill-opacity="0.9"><circle cx="378.6" cy="491.85" r="0.8"/><circle cx="384.33" cy="496.05" r="0.8"/><circle cx="378.2" cy="493.25" r="0.8"/><circle cx="383.56" cy="490.92" r="0.8"/><circle cx="375.71" cy="489.77" r="0.8"/><circle cx="378.88" cy="494.76" r="0.8"/><circle cx="374.39" cy="492.24" r="0.8"/><circle cx="385.23" cy="492.61" r="0.8"/><circle cx="377.32" cy="495.3" r="0.8"/><circle cx="383.95" cy="491.82" r="0.8"/><circle cx="373.96" cy="493.77" r="0.8"/><circle cx="381.98" cy="495.92" r="0.8"/><circle cx="380.93" cy="491.31" r="0.8"/><circle cx="379.04" cy="491.16" r="0.8"/><circle cx="378.15" cy="492.51" r="0.8"/><circle cx="384.21" cy="495.79" r="0.8"/><circle cx="384.39" cy="492.59" r="0.8"/><circle cx="384.89" cy="490.04" r="0.8"/><circle cx="384.32" cy="493.8" r="0.8"/><circle cx="383.69" cy="492.1" r="0.8"/><circle cx="385.23" cy="489.19" r="0.8"/><circle cx="383.37" cy="495.15" r="0.8"/><circle cx="377.84" cy="482.14" r="0.8"/><circle cx="376.56" cy="481.76" r="0.8"/><circle cx="378.6" cy="480.06" r="0.8"/><circle cx="376.42" cy="482" r="0.8"/><circle cx="380.7" cy="478.45" r="0.8"/><circle cx="382.67" cy="479.11" r="0.8"/><circle cx="377.85" cy="480.07" r="0.8"/><circle cx="379.46" cy="482.45" r="0.8"/><circle cx="385.08" cy="518.87" r="0.8"/><circle cx="376.97" cy="511.5" r="0.8"/><circle cx="372.81" cy="517.26" r="0.8"/><circle cx="380.02" cy="516.26" r="0.8"/><circle cx="385.6" cy="515.79" r="0.8"/><circle cx="376.76" cy="515.85" r="0.8"/><circle cx="374.25" cy="523.15" r="0.8"/><circle cx="380.12" cy="517.6" r="0.8"/><circle cx="377.81" cy="513.5" r="0.8"/><circle cx="376.27" cy="516.91" r="0.8"/><circle cx="378.1" cy="523.71" r="0.8"/><circle cx="379.73" cy="512.9" r="0.8"/><circle cx="372.6" cy="512.23" r="0.8"/><circle cx="376.69" cy="520.95" r="0.8"/><circle cx="384.3" cy="513.31" r="0.8"/><circle cx="382.77" cy="516.18" r="0.8"/><circle cx="379.38" cy="517.46" r="0.8"/><circle cx="372.45" cy="510.93" r="0.8"/><circle cx="381.2" cy="519.65" r="0.8"/><circle cx="377.17" cy="522.87" r="0.8"/><circle cx="383.33" cy="514.23" r="0.8"/><circle cx="372.79" cy="517.75" r="0.8"/><circle cx="381.01" cy="513.14" r="0.8"/><circle cx="372.46" cy="516.82" r="0.8"/><circle cx="372.33" cy="520.31" r="0.8"/><circle cx="380.61" cy="513.91" r="0.8"/><circle cx="378.09" cy="513.26" r="0.8"/><circle cx="374.45" cy="512.54" r="0.8"/><circle cx="383.27" cy="516.35" r="0.8"/><circle cx="381.87" cy="514.87" r="0.8"/><circle cx="383.15" cy="518.34" r="0.8"/><circle cx="381.01" cy="515.5" r="0.8"/><circle cx="379.72" cy="512.67" r="0.8"/><circle cx="385.48" cy="519.41" r="0.8"/><circle cx="379.3" cy="518.94" r="0.8"/><circle cx="373.25" cy="514.68" r="0.8"/><circle cx="368.2" cy="504.09" r="0.8"/><circle cx="389.83" cy="503.69" r="0.8"/><circle cx="369.15" cy="504.03" r="0.8"/><circle cx="388.77" cy="503.55" r="0.8"/><circle cx="368.2" cy="503.95" r="0.8"/><circle cx="389.4" cy="503.97" r="0.8"/><circle cx="378.7" cy="476.8" r="0.8"/><circle cx="378.92" cy="477.08" r="0.8"/><circle cx="380.31" cy="525.51" r="0.8"/><circle cx="380.31" cy="524.04" r="0.8"/><circle cx="379.98" cy="524.12" r="0.8"/><circle cx="378.99" cy="525.55" r="0.8"/><circle cx="378.59" cy="492.51" r="0.8"/><circle cx="379.25" cy="483.38" r="0.8"/><circle cx="379.21" cy="488.94" r="0.8"/><circle cx="378.2" cy="487.95" r="0.8"/><circle cx="378.46" cy="492.53" r="0.8"/><circle cx="378.15" cy="518.14" r="0.8"/><circle cx="379.08" cy="514.47" r="0.8"/><circle cx="379.04" cy="523.18" r="0.8"/><circle cx="379.18" cy="517.65" r="0.8"/><circle cx="378.44" cy="521.54" r="0.8"/><circle cx="378.85" cy="480" r="0.8"/><circle cx="378.85" cy="527.25" r="0.8"/><circle cx="378.89" cy="445.75" r="0.8"/><circle cx="378.95" cy="468" r="0.8"/></g><rect x="370.05" y="496.25" width="17.6" height="13.75" fill="#b293c4"/><path d="M370.05 495.65V510.6M387.65 495.65V510.6" stroke="#2a2a2a" stroke-width="0.9"/><path d="M369.6 496.25H388.1M369.6 510H388.1" stroke="#2a2a2a" stroke-width="1.2"/><rect x="371.3" y="497.6" width="15.1" height="11.05" fill="none" stroke="#fff" stroke-opacity="0.28" stroke-width="0.8"/><path d="M370.85 502H386.85M370.85 505.5H386.85" stroke="#fff" stroke-opacity="0.3" stroke-width="0.8"/><path d="M370.05 503.75H387.65" stroke="#000" stroke-opacity="0.66" stroke-width="1.8"/><path d="M403 432V544" stroke="#3a3d42" stroke-width="0.9"/><g fill="#ff9a1c" fill-opacity="0.9"><circle cx="400.87" cy="515.21" r="0.8"/><circle cx="401.22" cy="460.71" r="0.8"/><circle cx="400.62" cy="525.35" r="0.8"/><circle cx="405.94" cy="514.05" r="0.8"/><circle cx="400.08" cy="460.7" r="0.8"/><circle cx="407.11" cy="516.57" r="0.8"/><circle cx="405.65" cy="516.85" r="0.8"/><circle cx="401.16" cy="524.77" r="0.8"/><circle cx="401.83" cy="541.76" r="0.8"/><circle cx="399.91" cy="457.01" r="0.8"/><circle cx="401.86" cy="436.88" r="0.8"/><circle cx="397.96" cy="517.43" r="0.8"/><circle cx="399.92" cy="516.62" r="0.8"/><circle cx="399.27" cy="455.92" r="0.8"/><circle cx="403.85" cy="458.48" r="0.8"/><circle cx="403.27" cy="457.36" r="0.8"/><circle cx="402.21" cy="531.01" r="0.8"/><circle cx="403.24" cy="533.9" r="0.8"/><circle cx="399.27" cy="456.82" r="0.8"/><circle cx="400.25" cy="526.46" r="0.8"/><circle cx="401.88" cy="538.33" r="0.8"/><circle cx="403.39" cy="515.93" r="0.8"/><circle cx="402.98" cy="518.43" r="0.8"/><circle cx="404.43" cy="515.12" r="0.8"/><circle cx="402.25" cy="432.86" r="0.8"/><circle cx="400.3" cy="513.39" r="0.8"/><circle cx="403.33" cy="460.1" r="0.8"/><circle cx="401.43" cy="441.46" r="0.8"/><circle cx="401.99" cy="537.09" r="0.8"/><circle cx="402.87" cy="442.7" r="0.8"/><circle cx="401.97" cy="518.11" r="0.8"/><circle cx="407.68" cy="518.26" r="0.8"/><circle cx="403.51" cy="515.25" r="0.8"/><circle cx="407.08" cy="514.06" r="0.8"/><circle cx="403.47" cy="532.08" r="0.8"/><circle cx="402.05" cy="434.04" r="0.8"/><circle cx="402.07" cy="530.98" r="0.8"/><circle cx="405.35" cy="520.02" r="0.8"/><circle cx="402.72" cy="435.23" r="0.8"/><circle cx="405.7" cy="521.82" r="0.8"/><circle cx="399.33" cy="450.82" r="0.8"/><circle cx="407.25" cy="460.86" r="0.8"/><circle cx="407.36" cy="520.43" r="0.8"/><circle cx="402" cy="541.77" r="0.8"/><circle cx="403.53" cy="531.16" r="0.8"/><circle cx="402.85" cy="435.68" r="0.8"/><circle cx="402.21" cy="534.95" r="0.8"/><circle cx="402.45" cy="435.71" r="0.8"/><circle cx="408.74" cy="460.26" r="0.8"/><circle cx="399.06" cy="515.41" r="0.8"/><circle cx="403.5" cy="528.61" r="0.8"/><circle cx="407.16" cy="454.74" r="0.8"/><circle cx="398.9" cy="454.58" r="0.8"/><circle cx="408.33" cy="513.91" r="0.8"/><circle cx="400.74" cy="531.33" r="0.8"/><circle cx="402.93" cy="522.49" r="0.8"/><circle cx="405.46" cy="451.87" r="0.8"/><circle cx="402.81" cy="437.89" r="0.8"/><circle cx="402.56" cy="458.68" r="0.8"/><circle cx="405.88" cy="525.07" r="0.8"/><circle cx="406.98" cy="523.12" r="0.8"/><circle cx="400.94" cy="461.22" r="0.8"/><circle cx="402.05" cy="460.41" r="0.8"/><circle cx="402.96" cy="435.83" r="0.8"/><circle cx="404.26" cy="529.92" r="0.8"/><circle cx="405.39" cy="517.26" r="0.8"/><circle cx="403.72" cy="450.5" r="0.8"/><circle cx="401.22" cy="514.73" r="0.8"/><circle cx="404.77" cy="534.5" r="0.8"/><circle cx="398.61" cy="459.19" r="0.8"/><circle cx="403.7" cy="531.91" r="0.8"/><circle cx="403.5" cy="523.23" r="0.8"/><circle cx="403.98" cy="527.97" r="0.8"/><circle cx="405.15" cy="522.52" r="0.8"/><circle cx="402.14" cy="514.2" r="0.8"/><circle cx="403.56" cy="454.22" r="0.8"/><circle cx="402.3" cy="455.32" r="0.8"/><circle cx="402.02" cy="433.38" r="0.8"/><circle cx="402.46" cy="444.46" r="0.8"/><circle cx="402.06" cy="449.26" r="0.8"/><circle cx="407.48" cy="461.23" r="0.8"/><circle cx="402.63" cy="516.91" r="0.8"/><circle cx="407.67" cy="461.02" r="0.8"/><circle cx="400.32" cy="515.99" r="0.8"/><circle cx="402.88" cy="534.15" r="0.8"/><circle cx="406.28" cy="458.78" r="0.8"/><circle cx="401.94" cy="536.95" r="0.8"/><circle cx="403.52" cy="543.23" r="0.8"/><circle cx="397.92" cy="460.15" r="0.8"/><circle cx="406.67" cy="513.57" r="0.8"/><circle cx="406.38" cy="521.88" r="0.8"/><circle cx="400.31" cy="526.77" r="0.8"/><circle cx="400.69" cy="520.31" r="0.8"/><circle cx="401.12" cy="531.27" r="0.8"/><circle cx="403.73" cy="456.52" r="0.8"/><circle cx="405.83" cy="454.02" r="0.8"/><circle cx="402.13" cy="444.51" r="0.8"/><circle cx="402.59" cy="541.52" r="0.8"/><circle cx="401.95" cy="513.98" r="0.8"/><circle cx="401.99" cy="527.58" r="0.8"/><circle cx="403.7" cy="460.41" r="0.8"/><circle cx="404.23" cy="457.34" r="0.8"/><circle cx="401.01" cy="523.21" r="0.8"/><circle cx="406.01" cy="516.69" r="0.8"/><circle cx="402.34" cy="458.25" r="0.8"/><circle cx="399.48" cy="514.69" r="0.8"/><circle cx="401.13" cy="459.13" r="0.8"/><circle cx="402.57" cy="442.92" r="0.8"/><circle cx="405.61" cy="455.18" r="0.8"/><circle cx="406.87" cy="520.44" r="0.8"/><circle cx="403.67" cy="439.33" r="0.8"/><circle cx="403.25" cy="447.37" r="0.8"/><circle cx="402.68" cy="443.15" r="0.8"/><circle cx="403.54" cy="435.95" r="0.8"/><circle cx="403.28" cy="442.52" r="0.8"/><circle cx="403.04" cy="445.48" r="0.8"/><circle cx="402.55" cy="438.05" r="0.8"/><circle cx="403.25" cy="441.84" r="0.8"/><circle cx="402.3" cy="447.89" r="0.8"/><circle cx="402.91" cy="452.79" r="0.8"/><circle cx="402.66" cy="434.02" r="0.8"/><circle cx="403.45" cy="438.19" r="0.8"/><circle cx="402.76" cy="530.16" r="0.8"/><circle cx="402.71" cy="520.89" r="0.8"/><circle cx="402.78" cy="521.86" r="0.8"/><circle cx="403.4" cy="537.56" r="0.8"/><circle cx="403.54" cy="534.72" r="0.8"/><circle cx="402.46" cy="533.36" r="0.8"/><circle cx="402.53" cy="514.62" r="0.8"/><circle cx="403.04" cy="521.19" r="0.8"/><circle cx="403.12" cy="538.53" r="0.8"/><circle cx="402.64" cy="526.46" r="0.8"/><circle cx="403.35" cy="543.44" r="0.8"/><circle cx="402.36" cy="523.74" r="0.8"/><circle cx="403" cy="432" r="0.8"/><circle cx="403" cy="544" r="0.8"/></g><rect x="394.2" y="461.25" width="17.6" height="52" fill="#fdc98c"/><path d="M394.2 460.65V513.85M411.8 460.65V513.85" stroke="#2a2a2a" stroke-width="0.9"/><path d="M393.75 461.25H412.25M393.75 513.25H412.25" stroke="#2a2a2a" stroke-width="1.2"/><rect x="395.45" y="462.6" width="15.1" height="49.3" fill="none" stroke="#fff" stroke-opacity="0.28" stroke-width="0.8"/><path d="M395 488.75H411M395 492.25H411" stroke="#fff" stroke-opacity="0.3" stroke-width="0.8"/><path d="M394.2 490.5H411.8" stroke="#000" stroke-opacity="0.66" stroke-width="1.8"/><path d="M427.15 465V518" stroke="#3a3d42" stroke-width="0.9"/><g fill="#0e7a58" fill-opacity="0.9"><circle cx="429.66" cy="498.85" r="0.8"/><circle cx="426.56" cy="474.41" r="0.8"/><circle cx="424.36" cy="499.45" r="0.8"/><circle cx="428.33" cy="470.61" r="0.8"/><circle cx="426.32" cy="507.83" r="0.8"/><circle cx="430.97" cy="482.96" r="0.8"/><circle cx="426.47" cy="475.32" r="0.8"/><circle cx="429.76" cy="478.8" r="0.8"/><circle cx="428.14" cy="482.4" r="0.8"/><circle cx="425.4" cy="503.53" r="0.8"/><circle cx="424.6" cy="497.26" r="0.8"/><circle cx="427.02" cy="477.37" r="0.8"/><circle cx="428.47" cy="509.11" r="0.8"/><circle cx="429.78" cy="483.17" r="0.8"/><circle cx="424.7" cy="480.65" r="0.8"/><circle cx="426.14" cy="510.74" r="0.8"/><circle cx="427.51" cy="469.38" r="0.8"/><circle cx="428.26" cy="473.62" r="0.8"/><circle cx="428.37" cy="482.48" r="0.8"/><circle cx="424.56" cy="482.65" r="0.8"/><circle cx="426.26" cy="482.7" r="0.8"/><circle cx="426.66" cy="504.49" r="0.8"/><circle cx="426.57" cy="479.6" r="0.8"/><circle cx="427.76" cy="471.02" r="0.8"/><circle cx="427.74" cy="480.77" r="0.8"/><circle cx="427.2" cy="478.97" r="0.8"/><circle cx="427.25" cy="479.37" r="0.8"/><circle cx="426.81" cy="467.15" r="0.8"/><circle cx="427.68" cy="466.78" r="0.8"/><circle cx="427.02" cy="503.59" r="0.8"/><circle cx="426.59" cy="508.19" r="0.8"/><circle cx="427.56" cy="511.75" r="0.8"/><circle cx="427.68" cy="513.67" r="0.8"/><circle cx="426.65" cy="503.49" r="0.8"/><circle cx="427.42" cy="512.93" r="0.8"/><circle cx="426.93" cy="504.65" r="0.8"/><circle cx="427.61" cy="500.02" r="0.8"/><circle cx="427.15" cy="465" r="0.8"/><circle cx="427.15" cy="518" r="0.8"/><circle cx="427.11" cy="447.5" r="0.8"/></g><rect x="418.35" y="483.25" width="17.6" height="13.5" fill="#7db9a2"/><path d="M418.35 482.65V497.35M435.95 482.65V497.35" stroke="#2a2a2a" stroke-width="0.9"/><path d="M417.9 483.25H436.4M417.9 496.75H436.4" stroke="#2a2a2a" stroke-width="1.2"/><rect x="419.6" y="484.6" width="15.1" height="10.8" fill="none" stroke="#fff" stroke-opacity="0.28" stroke-width="0.8"/><path d="M419.15 490.75H435.15M419.15 494.25H435.15" stroke="#fff" stroke-opacity="0.3" stroke-width="0.8"/><path d="M418.35 492.5H435.95" stroke="#000" stroke-opacity="0.66" stroke-width="1.8"/><path d="M451.3 432V501.25" stroke="#3a3d42" stroke-width="0.9"/><g fill="#8478cc" fill-opacity="0.9"><circle cx="450.1" cy="480.24" r="0.8"/><circle cx="452.5" cy="491.43" r="0.8"/><circle cx="450.94" cy="443" r="0.8"/><circle cx="451.46" cy="491.93" r="0.8"/><circle cx="454.04" cy="453.12" r="0.8"/><circle cx="448.42" cy="479.57" r="0.8"/><circle cx="450.56" cy="433.43" r="0.8"/><circle cx="451.59" cy="484.72" r="0.8"/><circle cx="451.66" cy="481.75" r="0.8"/><circle cx="450.66" cy="435.15" r="0.8"/><circle cx="451.85" cy="443.65" r="0.8"/><circle cx="452.9" cy="489.64" r="0.8"/><circle cx="449.2" cy="455.74" r="0.8"/><circle cx="451.54" cy="477.27" r="0.8"/><circle cx="451.51" cy="477.32" r="0.8"/><circle cx="450.98" cy="491.49" r="0.8"/><circle cx="454.57" cy="453.06" r="0.8"/><circle cx="450.55" cy="489.24" r="0.8"/><circle cx="452.98" cy="483.6" r="0.8"/><circle cx="451.6" cy="436.58" r="0.8"/><circle cx="451.39" cy="442.7" r="0.8"/><circle cx="451.34" cy="451.12" r="0.8"/><circle cx="450.61" cy="454.81" r="0.8"/><circle cx="451.6" cy="453.31" r="0.8"/><circle cx="451.79" cy="443.62" r="0.8"/><circle cx="451.07" cy="435.53" r="0.8"/><circle cx="451.75" cy="448.96" r="0.8"/><circle cx="451.99" cy="440.86" r="0.8"/><circle cx="450.66" cy="492.47" r="0.8"/><circle cx="450.71" cy="479.33" r="0.8"/><circle cx="451.05" cy="490.5" r="0.8"/><circle cx="451.23" cy="482.78" r="0.8"/><circle cx="451.87" cy="478.2" r="0.8"/><circle cx="451.38" cy="497.21" r="0.8"/><circle cx="451.03" cy="487.36" r="0.8"/><circle cx="451.09" cy="491.32" r="0.8"/><circle cx="451.3" cy="432" r="0.8"/><circle cx="451.3" cy="501.25" r="0.8"/><circle cx="451.78" cy="510.25" r="0.8"/></g><rect x="442.5" y="455.75" width="17.6" height="20.5" fill="#c5c1e5"/><path d="M442.5 455.15V476.85M460.1 455.15V476.85" stroke="#2a2a2a" stroke-width="0.9"/><path d="M442.05 455.75H460.55M442.05 476.25H460.55" stroke="#2a2a2a" stroke-width="1.2"/><rect x="443.75" y="457.1" width="15.1" height="17.8" fill="none" stroke="#fff" stroke-opacity="0.28" stroke-width="0.8"/><path d="M443.3 463.75H459.3M443.3 467.25H459.3" stroke="#fff" stroke-opacity="0.3" stroke-width="0.8"/><path d="M442.5 465.5H460.1" stroke="#000" stroke-opacity="0.66" stroke-width="1.8"/><path d="M475.45 436.25V506" stroke="#3a3d42" stroke-width="0.9"/><g fill="#2f3f5c" fill-opacity="0.9"><circle cx="476.68" cy="492.49" r="0.8"/><circle cx="474.1" cy="452.52" r="0.8"/><circle cx="478.81" cy="449.13" r="0.8"/><circle cx="474.95" cy="503.77" r="0.8"/><circle cx="473.42" cy="452.97" r="0.8"/><circle cx="474.26" cy="447.34" r="0.8"/><circle cx="476" cy="485.82" r="0.8"/><circle cx="476.14" cy="443.08" r="0.8"/><circle cx="475.22" cy="482.72" r="0.8"/><circle cx="475.15" cy="452.93" r="0.8"/><circle cx="478.5" cy="475.6" r="0.8"/><circle cx="476.12" cy="498.39" r="0.8"/><circle cx="473.5" cy="452.13" r="0.8"/><circle cx="474.75" cy="505.16" r="0.8"/><circle cx="474.32" cy="450.14" r="0.8"/><circle cx="478.47" cy="474.53" r="0.8"/><circle cx="475.14" cy="438.77" r="0.8"/><circle cx="479.42" cy="452.13" r="0.8"/><circle cx="474.36" cy="497.03" r="0.8"/><circle cx="477.24" cy="492.77" r="0.8"/><circle cx="474.33" cy="474.44" r="0.8"/><circle cx="478.14" cy="484.88" r="0.8"/><circle cx="479.46" cy="452.97" r="0.8"/><circle cx="474.66" cy="446.74" r="0.8"/><circle cx="476.06" cy="445.92" r="0.8"/><circle cx="475.98" cy="452.11" r="0.8"/><circle cx="475.9" cy="440.55" r="0.8"/><circle cx="475.33" cy="436.56" r="0.8"/><circle cx="475.11" cy="452.06" r="0.8"/><circle cx="475.56" cy="442.4" r="0.8"/><circle cx="475.74" cy="481.38" r="0.8"/><circle cx="474.88" cy="494.79" r="0.8"/><circle cx="474.85" cy="503.42" r="0.8"/><circle cx="475.24" cy="496.21" r="0.8"/><circle cx="474.86" cy="478.38" r="0.8"/><circle cx="475.87" cy="505.93" r="0.8"/><circle cx="475.86" cy="488.55" r="0.8"/><circle cx="476.05" cy="505.03" r="0.8"/><circle cx="475.13" cy="490.92" r="0.8"/><circle cx="476.12" cy="490.47" r="0.8"/><circle cx="475.69" cy="497.3" r="0.8"/><circle cx="475.45" cy="436.25" r="0.8"/><circle cx="475.45" cy="506" r="0.8"/></g><rect x="466.65" y="453" width="17.6" height="20.75" fill="#a2a5ab"/><path d="M466.65 452.4V474.35M484.25 452.4V474.35" stroke="#2a2a2a" stroke-width="0.9"/><path d="M466.2 453H484.7M466.2 473.75H484.7" stroke="#2a2a2a" stroke-width="1.2"/><rect x="467.9" y="454.35" width="15.1" height="18.05" fill="none" stroke="#fff" stroke-opacity="0.28" stroke-width="0.8"/><path d="M467.45 462H483.45M467.45 465.5H483.45" stroke="#fff" stroke-opacity="0.3" stroke-width="0.8"/><path d="M466.65 463.75H484.25" stroke="#000" stroke-opacity="0.66" stroke-width="1.8"/><path d="M499.6 445.75V518" stroke="#3a3d42" stroke-width="0.9"/><g fill="#22a3e6" fill-opacity="0.9"><circle cx="499.92" cy="501.4" r="0.8"/><circle cx="501.95" cy="498.12" r="0.8"/><circle cx="499.94" cy="457.98" r="0.8"/><circle cx="499.52" cy="448.17" r="0.8"/><circle cx="500.1" cy="460.35" r="0.8"/><circle cx="496.75" cy="464.5" r="0.8"/><circle cx="497.94" cy="497.43" r="0.8"/><circle cx="500.2" cy="513.25" r="0.8"/><circle cx="501.38" cy="464.5" r="0.8"/><circle cx="496.84" cy="500.57" r="0.8"/><circle cx="500.16" cy="462.88" r="0.8"/><circle cx="496.83" cy="498.24" r="0.8"/><circle cx="497.7" cy="497.23" r="0.8"/><circle cx="499.35" cy="446.19" r="0.8"/><circle cx="497.9" cy="459.21" r="0.8"/><circle cx="499.04" cy="454.27" r="0.8"/><circle cx="499.16" cy="460.68" r="0.8"/><circle cx="499.78" cy="447.65" r="0.8"/><circle cx="500.19" cy="454.24" r="0.8"/><circle cx="499.94" cy="447.72" r="0.8"/><circle cx="499.42" cy="458.31" r="0.8"/><circle cx="499.76" cy="448.16" r="0.8"/><circle cx="499.56" cy="459.97" r="0.8"/><circle cx="499.86" cy="506.79" r="0.8"/><circle cx="499.49" cy="509.7" r="0.8"/><circle cx="499.55" cy="500.7" r="0.8"/><circle cx="500.16" cy="508.43" r="0.8"/><circle cx="499.68" cy="517.89" r="0.8"/><circle cx="499.21" cy="503.73" r="0.8"/><circle cx="499.93" cy="510.15" r="0.8"/><circle cx="499.87" cy="502.02" r="0.8"/><circle cx="499.6" cy="445.75" r="0.8"/><circle cx="499.6" cy="518" r="0.8"/></g><rect x="490.8" y="464.5" width="17.6" height="32.25" fill="#97d5f0"/><path d="M490.8 463.9V497.35M508.4 463.9V497.35" stroke="#2a2a2a" stroke-width="0.9"/><path d="M490.35 464.5H508.85M490.35 496.75H508.85" stroke="#2a2a2a" stroke-width="1.2"/><rect x="492.05" y="465.85" width="15.1" height="29.55" fill="none" stroke="#fff" stroke-opacity="0.28" stroke-width="0.8"/><path d="M491.6 482.5H507.6M491.6 486H507.6" stroke="#fff" stroke-opacity="0.3" stroke-width="0.8"/><path d="M490.8 484.25H508.4" stroke="#000" stroke-opacity="0.66" stroke-width="1.8"/><text x="502.5" y="545.8" font-size="8.4" font-weight="bold" text-anchor="end" fill="#000" stroke="#000" stroke-width="0.2" textLength="13.7" lengthAdjust="spacingAndGlyphs">IgM</text></g><rect x="0.5" y="0.5" width="519" height="605" fill="none" stroke="#000" stroke-width="1.2"/></svg></body></html>
